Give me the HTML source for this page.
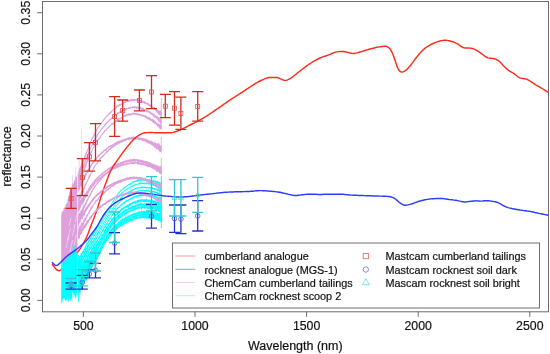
<!DOCTYPE html>
<html lang="en">
<head>
<meta charset="utf-8">
<title>Reflectance spectra</title>
<style>
html,body{margin:0;padding:0;background:#fff;}
body{width:550px;height:354px;overflow:hidden;font-family:"Liberation Sans",Arial,Helvetica,sans-serif;}
svg{display:block}
</style>
</head>
<body>
<svg width="550" height="354" viewBox="0 0 550 354" style="display:block">
<rect x="0" y="0" width="550" height="354" fill="#fff"/>
<clipPath id="pc"><rect x="43" y="2" width="505" height="309"/></clipPath>
<g clip-path="url(#pc)">
<path d="M61.2 265L61.2 216L62 211L63 212L64 207L65 208L66 203L67 204L67.7 199L68.6 198L69.4 192L70.2 192L71 186L71.8 188L72.6 183L73.4 184L74.2 180L75 181L75.8 176L76.6 177L77.4 173L77.4 265Z" fill="#DDA0DD"/>
<path d="M75.6 167V200" stroke="#DDA0DD" stroke-width="0.5" fill="none" opacity="0.8"/>
<path d="M81.6 128V190" stroke="#DDA0DD" stroke-width="0.5" fill="none" opacity="0.8"/>
<path d="M72.5 175V190" stroke="#DDA0DD" stroke-width="0.5" fill="none" opacity="0.8"/>
<path d="M79.2 160V200" stroke="#DDA0DD" stroke-width="0.6" fill="none" opacity="0.8"/>
<path d="M161.3 98V129" stroke="#DDA0DD" stroke-width="1.0" fill="none" opacity="0.8"/>
<path d="M161.3 137V151" stroke="#DDA0DD" stroke-width="1.0" fill="none" opacity="0.8"/>
<path d="M161.3 158V174" stroke="#DDA0DD" stroke-width="1.0" fill="none" opacity="0.8"/>
<path d="M161.3 178V203" stroke="#DDA0DD" stroke-width="1.0" fill="none" opacity="0.8"/>
<g fill="#DDA0DD" stroke="none">
<path d="M78.2 173.1L78.6 171.3L79 170.3L79.4 168.1L79.8 167.9L80.2 166L80.6 166.5L81 163.5L81.4 163.9L81.8 162.7L82.2 162L82.6 161.2L83 160.6L83.4 158.6L83.8 158.7L84.2 157L84.6 155.3L85 155.3L85.4 152.9L85.8 152.5L86.2 151L86.6 151.5L87 149.5L87.4 149.4L87.8 148.4L88.2 147.4L88.6 144.5L89 145.1L89.4 144.5L89.8 143.5L90.2 141.5L90.6 141.4L91 140.1L91.4 139.3L91.8 138.2L92.2 137.5L92.6 137.1L93 135.7L93.4 135.1L93.8 134.5L94.2 133.7L94.6 133L95 131.5L95.4 131.5L95.8 130L96.2 129.3L96.6 129L97 128.7L97.4 127.8L97.8 126.5L98.2 126.5L98.6 125.7L99 125.7L99.4 124.9L99.8 124.5L100.2 123.7L100.6 123.5L101 122.6L101.4 121.7L101.8 121.5L102.2 121.2L102.6 120.6L103 120.2L103.4 119.2L103.8 119L104.2 118.7L104.6 117.8L105 117.2L105.4 116.7L105.8 116.5L106.2 116.1L106.6 115L107 115.2L107.4 115L107.8 114L108.2 113.8L108.6 113.6L109 113.2L109.4 112.8L109.8 111.8L110.2 111.9L110.6 111.6L111 111.2L111.4 111L111.8 110.5L112.2 109.8L112.6 109.9L113 109.3L113.4 108.7L113.8 108.5L114.2 108.5L114.6 107.9L115 107.7L115.4 107L115.8 107.2L116.2 106.6L116.6 106L117 106.1L117.4 105.2L117.8 104.8L118.2 105.3L118.6 104.7L119 104.8L119.4 103.6L119.8 104L120.2 103.9L120.6 103.9L121 103.5L121.4 103.4L121.8 103.2L122.2 102.7L122.6 102.6L123 102.1L123.4 102.4L123.8 102.2L124.2 101.5L124.6 101.7L125 101.2L125.4 101L125.8 101.2L126.2 101L126.6 100.6L127 100.7L127.4 99.6L127.8 99.9L128.2 100.2L128.6 99.2L129 99.7L129.4 99.1L129.8 99.5L130.2 99.4L130.6 99.4L131 99.6L131.4 98.8L131.8 98.9L132.2 98.7L132.6 99.4L133 99.2L133.4 99.2L133.8 98.8L134.2 98.7L134.6 99L135 99.2L135.4 98.9L135.8 99L136.2 98.7L136.6 98.8L137 99.4L137.4 99.1L137.8 99.7L138.2 99.4L138.6 99.7L139 99.7L139.4 100.1L139.8 100L140.2 100.1L140.6 99.6L141 100L141.4 99.7L141.8 100.4L142.2 100.3L142.6 100.8L143 100.4L143.4 100.5L143.8 101.4L144.2 101.3L144.6 100.8L145 101.6L145.4 102.2L145.8 102.4L146.2 102.2L146.6 102.6L147 102.7L147.4 103.2L147.8 102.8L148.2 102.9L148.6 103.1L149 103.8L149.4 104.2L149.8 104.6L150.2 104.5L150.6 104.7L151 104.9L151.4 105.4L151.8 105.8L152.2 106.2L152.6 105.7L153 106.3L153.4 106.8L153.8 107L154.2 106.7L154.6 107.3L155 107.6L155.4 108.6L155.8 108.6L156.2 108.7L156.6 108.9L157 109.1L157.4 109.8L157.8 109.2L158.2 109.7L158.6 110.3L159 111L159.4 110.9L159.8 110L160.2 110.6L160.6 111.2L161 110.6L161.4 111.9L161.4 116.7L161 119.4L160.6 116.9L160.2 115.4L159.8 115L159.4 115.6L159 114.4L158.6 114.7L158.2 114.8L157.8 113L157.4 113L157 112.7L156.6 112.5L156.2 111.3L155.8 111.6L155.4 110.8L155 110.4L154.6 109.9L154.2 110L153.8 110.4L153.4 109.5L153 108.6L152.6 108.2L152.2 108.3L151.8 108.5L151.4 108L151 107.1L150.6 106.8L150.2 106.4L149.8 106.4L149.4 106.1L149 106.3L148.6 106L148.2 105.8L147.8 105.6L147.4 104.7L147 105.2L146.6 104.3L146.2 104L145.8 104.5L145.4 104.1L145 103.5L144.6 104.5L144.2 103.4L143.8 103.2L143.4 102.9L143 103.5L142.6 102.4L142.2 102.6L141.8 102.5L141.4 102.7L141 102.8L140.6 101.8L140.2 102.4L139.8 101.4L139.4 101.6L139 102.2L138.6 101.4L138.2 101L137.8 101L137.4 100.8L137 100.9L136.6 100.8L136.2 100.7L135.8 100.6L135.4 100.6L135 100.7L134.6 100.9L134.2 100.9L133.8 100.9L133.4 101.2L133 100.5L132.6 101.2L132.2 100.9L131.8 100.8L131.4 101.7L131 101.1L130.6 101L130.2 101.7L129.8 101.6L129.4 101.6L129 101.8L128.6 101.9L128.2 102.1L127.8 101.7L127.4 102.2L127 102L126.6 102.1L126.2 103.1L125.8 102.6L125.4 103L125 102.7L124.6 103L124.2 103.4L123.8 103.4L123.4 104.2L123 104L122.6 104.3L122.2 104.6L121.8 104.8L121.4 104.7L121 105.6L120.6 105.1L120.2 105.4L119.8 105.6L119.4 105.9L119 106.4L118.6 106.3L118.2 107L117.8 106.9L117.4 107.1L117 107.6L116.6 108.4L116.2 108.2L115.8 108.5L115.4 108.6L115 109.2L114.6 109.9L114.2 109.6L113.8 110L113.4 110.4L113 110.7L112.6 111L112.2 111.6L111.8 112.1L111.4 112.5L111 113.2L110.6 113.7L110.2 113.4L109.8 113.9L109.4 114.7L109 114.4L108.6 115L108.2 115.8L107.8 115.7L107.4 116.2L107 117.1L106.6 117L106.2 117.5L105.8 118.1L105.4 119.7L105 119.1L104.6 119.8L104.2 120.1L103.8 121.1L103.4 121.7L103 122.1L102.6 121.9L102.2 122.5L101.8 123.6L101.4 124.1L101 124.4L100.6 124.9L100.2 125.7L99.8 125.9L99.4 126.6L99 127.4L98.6 127.6L98.2 128.2L97.8 128.8L97.4 129.5L97 130.7L96.6 131.3L96.2 132.1L95.8 132.2L95.4 133.6L95 133.9L94.6 136.3L94.2 136.4L93.8 136.4L93.4 138.2L93 137.7L92.6 139.4L92.2 139.7L91.8 140.5L91.4 141.5L91 142.9L90.6 143.7L90.2 145.4L89.8 145.3L89.4 146.4L89 148L88.6 149.5L88.2 151.1L87.8 150.8L87.4 151.9L87 153.4L86.6 154L86.2 155.7L85.8 157L85.4 157.8L85 159.2L84.6 159.7L84.2 160.4L83.8 162L83.4 164.4L83 164.7L82.6 164.8L82.2 167.7L81.8 168L81.4 168L81 169.4L80.6 170.2L80.2 171.8L79.8 176.2L79.4 176.7L79 176.6L78.6 176.4L78.2 179.8Z"/>
<path d="M78.2 174.4L78.6 175.3L79 175.2L79.4 171.5L79.8 172.8L80.2 170.8L80.6 169.5L81 168.9L81.4 169L81.8 167.1L82.2 167L82.6 166.1L83 165.7L83.4 164.2L83.8 163L84.2 162.7L84.6 160.9L85 159.7L85.4 160.1L85.8 158.3L86.2 156.7L86.6 157.1L87 155.6L87.4 154.3L87.8 153.4L88.2 152.7L88.6 151L89 150.6L89.4 150L89.8 149.2L90.2 147.9L90.6 147.1L91 146.5L91.4 145.3L91.8 144.8L92.2 143.3L92.6 143.1L93 142.3L93.4 140.9L93.8 140.1L94.2 139.9L94.6 138.1L95 138L95.4 137.1L95.8 136L96.2 136.4L96.6 135.1L97 134.3L97.4 133.9L97.8 133.5L98.2 132.7L98.6 132.5L99 131.7L99.4 131.2L99.8 130.8L100.2 130.1L100.6 129.8L101 129L101.4 128.3L101.8 127.5L102.2 127L102.6 127.3L103 126.8L103.4 126.4L103.8 125.9L104.2 125.4L104.6 124.1L105 124L105.4 123.3L105.8 123.1L106.2 122.5L106.6 122.3L107 121.9L107.4 121.4L107.8 120.8L108.2 120.8L108.6 119.9L109 118.9L109.4 119.6L109.8 118.9L110.2 118.6L110.6 118.2L111 118.2L111.4 117.3L111.8 117.2L112.2 116.6L112.6 116.5L113 116.4L113.4 115.8L113.8 115L114.2 115.4L114.6 115.2L115 114.9L115.4 114.6L115.8 113.8L116.2 114L116.6 113.7L117 112.8L117.4 112.3L117.8 112.8L118.2 112.2L118.6 112.3L119 111.8L119.4 111.5L119.8 111.6L120.2 110.9L120.6 110.9L121 110.9L121.4 110.6L121.8 110.5L122.2 110L122.6 109.7L123 109.8L123.4 109.4L123.8 109.4L124.2 109.3L124.6 108.5L125 108.9L125.4 108.1L125.8 108.3L126.2 108.3L126.6 107.3L127 108.1L127.4 107.9L127.8 107.7L128.2 107.5L128.6 107.4L129 107L129.4 107.2L129.8 107L130.2 107.2L130.6 106.5L131 106.9L131.4 106.9L131.8 106.8L132.2 106.6L132.6 106.5L133 105.9L133.4 106.5L133.8 106.5L134.2 106.5L134.6 106.5L135 106.3L135.4 106.5L135.8 106.4L136.2 106.5L136.6 106.7L137 106.1L137.4 106.7L137.8 106.4L138.2 106.6L138.6 107.1L139 106.5L139.4 106.9L139.8 107.4L140.2 106.2L140.6 107.5L141 107L141.4 107.2L141.8 107.7L142.2 107.5L142.6 108.1L143 108.3L143.4 107.6L143.8 107.9L144.2 108.9L144.6 109L145 108.6L145.4 109.1L145.8 109.4L146.2 109.7L146.6 110L147 109.7L147.4 110L147.8 110.7L148.2 110.5L148.6 110.8L149 110.7L149.4 111.3L149.8 111.6L150.2 111.8L150.6 111.6L151 111.4L151.4 112.4L151.8 113L152.2 113.1L152.6 112.4L153 113.7L153.4 113.8L153.8 113.9L154.2 113.1L154.6 114.9L155 114.7L155.4 115.4L155.8 115.5L156.2 116.3L156.6 116L157 114.6L157.4 117.1L157.8 117L158.2 117.2L158.6 116.5L159 117.3L159.4 118.4L159.8 118.6L160.2 118.3L160.6 118.8L161 119.7L161.4 118.7L161.4 123.3L161 123.5L160.6 123.8L160.2 122.8L159.8 122.4L159.4 121.6L159 121.7L158.6 122.8L158.2 120.9L157.8 119.6L157.4 119.9L157 119.3L156.6 119.1L156.2 118.3L155.8 118.4L155.4 117.6L155 117.4L154.6 118.2L154.2 117.4L153.8 116.3L153.4 117.1L153 116.5L152.6 115.4L152.2 115.1L151.8 114.7L151.4 115.3L151 114.3L150.6 114L150.2 113.8L149.8 114.1L149.4 113.1L149 113.2L148.6 112.6L148.2 112.6L147.8 112.2L147.4 112.3L147 112.9L146.6 111.9L146.2 111.5L145.8 111.8L145.4 111.4L145 111.1L144.6 111.4L144.2 110.4L143.8 111.1L143.4 110.1L143 110L142.6 110L142.2 110.3L141.8 109.6L141.4 110.4L141 109.6L140.6 109.3L140.2 109.2L139.8 108.9L139.4 109.1L139 109.4L138.6 109.2L138.2 108.7L137.8 108.6L137.4 108.5L137 108.4L136.6 109L136.2 108.7L135.8 108.2L135.4 107.9L135 108.2L134.6 108.6L134.2 107.9L133.8 108L133.4 108.3L133 108L132.6 108.5L132.2 108.3L131.8 108.3L131.4 108.2L131 108.2L130.6 109.4L130.2 108.5L129.8 108.9L129.4 108.5L129 108.8L128.6 108.7L128.2 108.9L127.8 109L127.4 109.1L127 109.9L126.6 109.7L126.2 109.9L125.8 110.3L125.4 110.8L125 110.9L124.6 110.2L124.2 111.2L123.8 110.9L123.4 111L123 111L122.6 111.3L122.2 111.5L121.8 111.8L121.4 112.5L121 112.2L120.6 113.2L120.2 112.5L119.8 112.9L119.4 113.5L119 113.6L118.6 114.3L118.2 113.7L117.8 114.9L117.4 114.7L117 114.6L116.6 115.3L116.2 116.1L115.8 115.5L115.4 115.9L115 116.1L114.6 116.6L114.2 116.8L113.8 117.7L113.4 117.4L113 117.9L112.6 118.2L112.2 118.4L111.8 119L111.4 120L111 119.7L110.6 120L110.2 120.9L109.8 121.4L109.4 121.1L109 121.6L108.6 121.9L108.2 122.7L107.8 122.7L107.4 123L107 124.3L106.6 124.1L106.2 124.3L105.8 125.1L105.4 126.4L105 125.8L104.6 126.6L104.2 127.3L103.8 127.4L103.4 127.6L103 128.2L102.6 128.9L102.2 129.1L101.8 130.1L101.4 130.6L101 130.8L100.6 131.6L100.2 132L99.8 132.4L99.4 133.1L99 133.5L98.6 134L98.2 134.9L97.8 135.5L97.4 136.5L97 137.3L96.6 137.5L96.2 137.9L95.8 138.4L95.4 139.6L95 139.8L94.6 141.4L94.2 141.4L93.8 142.1L93.4 144.2L93 145.2L92.6 145.4L92.2 145.8L91.8 146.8L91.4 147.9L91 148.5L90.6 149.2L90.2 150.8L89.8 151.2L89.4 152.5L89 153.5L88.6 154.2L88.2 155.7L87.8 156.8L87.4 158.1L87 158.4L86.6 160.2L86.2 160.8L85.8 161.9L85.4 162.9L85 164.6L84.6 166.2L84.2 166.3L83.8 167L83.4 168.7L83 170.5L82.6 171L82.2 171.8L81.8 172.1L81.4 173.1L81 175.4L80.6 177.4L80.2 176.2L79.8 179.6L79.4 178.9L79 179.9L78.6 181.3L78.2 186.3Z"/>
<path d="M78.2 179.8L78.6 178.9L79 178.8L79.4 174.9L79.8 175.2L80.2 176L80.6 175.5L81 174.6L81.4 171.3L81.8 172.4L82.2 171L82.6 170.5L83 170.2L83.4 168.4L83.8 167.8L84.2 167L84.6 165.4L85 165L85.4 163.4L85.8 163.7L86.2 161.8L86.6 161.5L87 160.2L87.4 159.5L87.8 159L88.2 156.1L88.6 156.6L89 155.9L89.4 155.3L89.8 154.2L90.2 152.7L90.6 152.4L91 150.6L91.4 150.8L91.8 150.1L92.2 149.2L92.6 147.6L93 147.5L93.4 146.4L93.8 145.4L94.2 144.8L94.6 143.4L95 143.5L95.4 143.1L95.8 142.5L96.2 140.9L96.6 140.8L97 140.7L97.4 139.9L97.8 139.1L98.2 138.7L98.6 138.2L99 137.7L99.4 137.3L99.8 136.7L100.2 135.7L100.6 135.8L101 134.8L101.4 134.3L101.8 134.1L102.2 133.4L102.6 132.8L103 132.7L103.4 131.8L103.8 131.3L104.2 130.3L104.6 129.9L105 130.4L105.4 129.7L105.8 129.5L106.2 129.1L106.6 128L107 127.7L107.4 127.4L107.8 127.5L108.2 126.4L108.6 126.6L109 126L109.4 125.8L109.8 125.2L110.2 125.2L110.6 124.6L111 124.3L111.4 123.2L111.8 123.4L112.2 123.2L112.6 123.1L113 122.8L113.4 122L113.8 121.9L114.2 121.5L114.6 121.4L115 120.7L115.4 120.3L115.8 120.1L116.2 120L116.6 119.5L117 119.2L117.4 119.5L117.8 118.6L118.2 118.8L118.6 118.3L119 117.9L119.4 118.1L119.8 117.9L120.2 117.5L120.6 117.3L121 117.2L121.4 117.2L121.8 116.7L122.2 116.6L122.6 116.5L123 116.4L123.4 115.9L123.8 115.8L124.2 115.3L124.6 115.5L125 115L125.4 114.7L125.8 114.8L126.2 113.8L126.6 114.4L127 114.2L127.4 114.3L127.8 113.5L128.2 113.4L128.6 113.2L129 113.5L129.4 113.6L129.8 113.5L130.2 113.4L130.6 113.7L131 113.4L131.4 113.2L131.8 113.4L132.2 112.9L132.6 112.2L133 113L133.4 112.8L133.8 112.8L134.2 113.1L134.6 112.8L135 113L135.4 112.8L135.8 112.8L136.2 112.5L136.6 113.4L137 113.2L137.4 113L137.8 113.5L138.2 113.1L138.6 113.8L139 113.8L139.4 113.7L139.8 113.5L140.2 114L140.6 114.1L141 114.3L141.4 114.4L141.8 114.1L142.2 114.2L142.6 114.6L143 114.7L143.4 114.7L143.8 115.1L144.2 115.2L144.6 115.4L145 114.6L145.4 115.8L145.8 115.1L146.2 115.8L146.6 116.1L147 116.5L147.4 116.7L147.8 117.1L148.2 117.3L148.6 117.4L149 116.6L149.4 117.8L149.8 116.7L150.2 118.1L150.6 118.1L151 118.4L151.4 119L151.8 119.2L152.2 118.7L152.6 118.7L153 119.5L153.4 119L153.8 120.1L154.2 119.9L154.6 120.6L155 121.2L155.4 120.9L155.8 122L156.2 122.3L156.6 122.8L157 122.6L157.4 121.9L157.8 123.5L158.2 123.9L158.6 123.3L159 124L159.4 124.6L159.8 124.2L160.2 125.3L160.6 123.4L161 123.2L161.4 125.6L161.4 129.7L161 130.2L160.6 129L160.2 128.8L159.8 130.4L159.4 127.6L159 127.9L158.6 127.4L158.2 126.3L157.8 126.4L157.4 126.7L157 125.9L156.6 125.1L156.2 125.2L155.8 124.4L155.4 124L155 123.6L154.6 124.3L154.2 123.3L153.8 123.5L153.4 123L153 122.7L152.6 122.4L152.2 121.7L151.8 121.2L151.4 120.9L151 120.9L150.6 120.4L150.2 120.7L149.8 120.1L149.4 120.4L149 119.4L148.6 119.8L148.2 119.5L147.8 119.5L147.4 118.9L147 119.1L146.6 118L146.2 118.8L145.8 117.9L145.4 117.5L145 117.4L144.6 117.5L144.2 116.9L143.8 116.7L143.4 117L143 116.8L142.6 116.2L142.2 116.5L141.8 116.9L141.4 116L141 115.9L140.6 115.6L140.2 116.2L139.8 115.8L139.4 115.3L139 115.2L138.6 115.8L138.2 115.5L137.8 115.5L137.4 115.2L137 114.9L136.6 115.1L136.2 114.9L135.8 114.6L135.4 114.7L135 114.8L134.6 114.5L134.2 115.3L133.8 114.4L133.4 114.4L133 114.5L132.6 114.9L132.2 114.8L131.8 114.7L131.4 114.9L131 115.8L130.6 115.6L130.2 115.5L129.8 115.9L129.4 115.2L129 115.4L128.6 115.5L128.2 115.4L127.8 115.6L127.4 116.1L127 115.8L126.6 116.1L126.2 116.5L125.8 117L125.4 116.7L125 116.8L124.6 117.2L124.2 117.1L123.8 117.1L123.4 117.3L123 117.9L122.6 118.8L122.2 117.9L121.8 118.1L121.4 118.7L121 118.5L120.6 119.2L120.2 119.2L119.8 119.4L119.4 119.5L119 119.6L118.6 120.4L118.2 121.2L117.8 120.8L117.4 120.6L117 121L116.6 121.9L116.2 121.7L115.8 122.3L115.4 122.3L115 122.8L114.6 122.6L114.2 123.8L113.8 123.6L113.4 124.6L113 124.2L112.6 124.7L112.2 124.9L111.8 125L111.4 125.5L111 125.8L110.6 126.3L110.2 126.3L109.8 127.3L109.4 127.5L109 127.7L108.6 127.9L108.2 128.2L107.8 128.6L107.4 129.1L107 129.6L106.6 130L106.2 130.7L105.8 130.8L105.4 131.6L105 131.6L104.6 132.6L104.2 132.7L103.8 133.2L103.4 133.8L103 134.2L102.6 134.5L102.2 135.2L101.8 135.5L101.4 136L101 136.8L100.6 138.2L100.2 137.6L99.8 138.7L99.4 139.7L99 140.1L98.6 140L98.2 140.4L97.8 141.2L97.4 141.7L97 142.5L96.6 142.7L96.2 143.3L95.8 144.3L95.4 144.6L95 146.5L94.6 146.7L94.2 146.9L93.8 147.7L93.4 148.4L93 149.3L92.6 150.1L92.2 151.5L91.8 153.3L91.4 153.6L91 154.6L90.6 154.4L90.2 155.9L89.8 156.7L89.4 158L89 158.7L88.6 159.9L88.2 161L87.8 162.6L87.4 162.5L87 163.6L86.6 164.8L86.2 167.2L85.8 166.8L85.4 168.7L85 169.4L84.6 169.6L84.2 171.2L83.8 172.2L83.4 173L83 174.2L82.6 175.5L82.2 175.7L81.8 177.4L81.4 178.9L81 180L80.6 183.2L80.2 180.7L79.8 184L79.4 183.2L79 185.4L78.6 185.9L78.2 188.2Z"/>
<path d="M78.2 184.4L78.6 185.1L79 183.2L79.4 180.9L79.8 183.1L80.2 181.1L80.6 182L81 181.1L81.4 180L81.8 179.3L82.2 179.1L82.6 177.9L83 178.2L83.4 176.8L83.8 176.4L84.2 176.1L84.6 175.7L85 172.1L85.4 173.7L85.8 172.3L86.2 172.9L86.6 172.2L87 170.9L87.4 170.1L87.8 169.1L88.2 169.2L88.6 168.3L89 167.7L89.4 167.1L89.8 166.4L90.2 165.1L90.6 165.2L91 164.2L91.4 163.2L91.8 163.6L92.2 162.1L92.6 161.7L93 161L93.4 160.3L93.8 160.2L94.2 159.5L94.6 159.3L95 158.2L95.4 158.1L95.8 158.2L96.2 157.7L96.6 157.3L97 156.8L97.4 156.2L97.8 156L98.2 154.8L98.6 154.3L99 154.7L99.4 154L99.8 154L100.2 153.3L100.6 153.3L101 152.6L101.4 151.8L101.8 151.7L102.2 151.6L102.6 151.3L103 151.2L103.4 149.6L103.8 150.2L104.2 150.1L104.6 149.2L105 149.5L105.4 149.2L105.8 148.3L106.2 148L106.6 147.5L107 148.1L107.4 147.7L107.8 146.7L108.2 146.8L108.6 145.7L109 146.3L109.4 145.8L109.8 145.9L110.2 145.4L110.6 145L111 144.8L111.4 145.1L111.8 144.8L112.2 144.3L112.6 144.2L113 144L113.4 143.6L113.8 143.1L114.2 143.5L114.6 143L115 142.5L115.4 142.3L115.8 142.4L116.2 141.6L116.6 141.6L117 141.3L117.4 141.8L117.8 141.5L118.2 140.6L118.6 140.6L119 140.8L119.4 140.6L119.8 140.7L120.2 140.5L120.6 139.7L121 140.2L121.4 139.7L121.8 139.5L122.2 139.8L122.6 139.7L123 139L123.4 139.1L123.8 139.2L124.2 139L124.6 138.8L125 138.7L125.4 138.6L125.8 137.9L126.2 138.5L126.6 138.4L127 138.2L127.4 137.3L127.8 138.1L128.2 137.8L128.6 137.3L129 137L129.4 136.7L129.8 137.4L130.2 137.4L130.6 137.2L131 137.3L131.4 137.6L131.8 137.1L132.2 137.3L132.6 137.2L133 136.3L133.4 136.1L133.8 137.1L134.2 136.5L134.6 137L135 136.7L135.4 136.7L135.8 136.7L136.2 137.5L136.6 137L137 137.5L137.4 136.5L137.8 136.8L138.2 137.8L138.6 137.3L139 137.8L139.4 137.9L139.8 137L140.2 137.4L140.6 138.2L141 137.6L141.4 137.9L141.8 138.2L142.2 138L142.6 137.9L143 138.5L143.4 138L143.8 138.8L144.2 138.1L144.6 138.7L145 139.1L145.4 138.8L145.8 138.8L146.2 138.9L146.6 138.9L147 138.4L147.4 139.7L147.8 139.7L148.2 139.9L148.6 140.2L149 140.1L149.4 140.5L149.8 140.7L150.2 140.6L150.6 140.8L151 141.1L151.4 140.4L151.8 141.4L152.2 140.9L152.6 142L153 141.6L153.4 142.4L153.8 142.4L154.2 141.8L154.6 142.5L155 142.6L155.4 142.9L155.8 142.3L156.2 143.2L156.6 143.8L157 143L157.4 143.2L157.8 143.3L158.2 144.3L158.6 142.4L159 142.6L159.4 143.8L159.8 144.4L160.2 145.6L160.6 145.6L161 145.9L161.4 144L161.4 150.3L161 149.6L160.6 148.9L160.2 148.8L159.8 149.2L159.4 149.2L159 148L158.6 147.5L158.2 147.2L157.8 147.1L157.4 146.8L157 147L156.6 147.8L156.2 146L155.8 145.6L155.4 145.4L155 146.2L154.6 145.3L154.2 144.8L153.8 145.5L153.4 144.3L153 145.4L152.6 143.8L152.2 144L151.8 143.4L151.4 143.5L151 143.2L150.6 143L150.2 144L149.8 142.7L149.4 142.8L149 142.7L148.6 142L148.2 142.1L147.8 142.3L147.4 141.6L147 141.8L146.6 141.7L146.2 141.2L145.8 141.4L145.4 140.8L145 141L144.6 140.7L144.2 141.3L143.8 140.3L143.4 140.5L143 140.2L142.6 140L142.2 140.3L141.8 139.9L141.4 140.1L141 140L140.6 140.1L140.2 139.9L139.8 139.8L139.4 140.5L139 139.7L138.6 139.2L138.2 139.2L137.8 139.2L137.4 139.5L137 139.1L136.6 139.2L136.2 139.4L135.8 138.8L135.4 139.3L135 139L134.6 139.2L134.2 138.7L133.8 138.7L133.4 138.8L133 139.5L132.6 138.9L132.2 138.9L131.8 138.9L131.4 139.8L131 139L130.6 139L130.2 139.4L129.8 139.2L129.4 139.5L129 139.3L128.6 139.6L128.2 140.4L127.8 139.4L127.4 139.8L127 140.2L126.6 139.8L126.2 140L125.8 140.3L125.4 140.6L125 140.9L124.6 140.2L124.2 140.7L123.8 140.6L123.4 140.9L123 141.1L122.6 141.1L122.2 141.6L121.8 141.2L121.4 142.3L121 141.8L120.6 141.7L120.2 141.8L119.8 141.9L119.4 142.5L119 142.8L118.6 142.4L118.2 143L117.8 142.9L117.4 143.7L117 143.2L116.6 144L116.2 144L115.8 144.3L115.4 144.7L115 144.3L114.6 144.9L114.2 144.6L113.8 146L113.4 145.1L113 145.6L112.6 146.1L112.2 146.1L111.8 146.4L111.4 147L111 146.7L110.6 146.8L110.2 147.2L109.8 147.3L109.4 148.2L109 147.8L108.6 148.6L108.2 149L107.8 148.6L107.4 149L107 149.6L106.6 150.4L106.2 151.2L105.8 150.4L105.4 151.2L105 150.9L104.6 151.3L104.2 151.4L103.8 151.9L103.4 152.4L103 153L102.6 153.7L102.2 153.8L101.8 153.7L101.4 153.9L101 154.2L100.6 154.9L100.2 155.3L99.8 155.7L99.4 155.9L99 156.4L98.6 157.1L98.2 157.3L97.8 157.5L97.4 158.6L97 158.8L96.6 159.3L96.2 160.6L95.8 160L95.4 160.2L95 161.4L94.6 161.5L94.2 162.7L93.8 162.5L93.4 163.8L93 164.1L92.6 164.1L92.2 164.8L91.8 165.7L91.4 166.1L91 166.8L90.6 167.9L90.2 168.5L89.8 169.1L89.4 169.3L89 169.9L88.6 171.3L88.2 173.5L87.8 173L87.4 172.9L87 173.9L86.6 175.2L86.2 175.7L85.8 176.6L85.4 177.5L85 178L84.6 178.8L84.2 179.4L83.8 180.9L83.4 180.6L83 181.9L82.6 183.2L82.2 184.6L81.8 185.3L81.4 187.2L81 185.6L80.6 187.1L80.2 190.7L79.8 187.9L79.4 190.8L79 190L78.6 191.4L78.2 192.9Z"/>
<path d="M78.2 203.5L78.6 204.4L79 201.6L79.4 201.2L79.8 199.9L80.2 200.4L80.6 200.5L81 199.4L81.4 197.8L81.8 196.9L82.2 197L82.6 197.6L83 197.2L83.4 196.3L83.8 196.3L84.2 193.4L84.6 194.6L85 193L85.4 193.2L85.8 192.9L86.2 191.5L86.6 190.7L87 190.4L87.4 190.7L87.8 189.5L88.2 188.9L88.6 188L89 187.5L89.4 186.8L89.8 186.6L90.2 184.9L90.6 184.9L91 184.9L91.4 184.1L91.8 183.8L92.2 182.8L92.6 182.7L93 181.7L93.4 181.8L93.8 180.6L94.2 180.1L94.6 180.3L95 179.1L95.4 179.4L95.8 179L96.2 178.1L96.6 178L97 177.4L97.4 176.7L97.8 176.7L98.2 176.5L98.6 176.1L99 174.7L99.4 175.5L99.8 174.9L100.2 174.5L100.6 174.5L101 173L101.4 173.5L101.8 173.2L102.2 172.8L102.6 172L103 172.2L103.4 172.1L103.8 171.5L104.2 171.2L104.6 171L105 169.9L105.4 170.3L105.8 170.1L106.2 170L106.6 169.4L107 169L107.4 168.5L107.8 168.7L108.2 168L108.6 168L109 167.8L109.4 167.6L109.8 167.3L110.2 167.2L110.6 167.2L111 166.4L111.4 166.2L111.8 166.2L112.2 166.1L112.6 165.1L113 165.9L113.4 165.5L113.8 165.2L114.2 164.5L114.6 164.9L115 164.4L115.4 164.6L115.8 163.9L116.2 164.1L116.6 163.8L117 163.5L117.4 163.7L117.8 163.1L118.2 163.3L118.6 162.9L119 163L119.4 162.9L119.8 162.3L120.2 162.4L120.6 161.8L121 162.2L121.4 161.9L121.8 161.9L122.2 161.5L122.6 161.6L123 161.3L123.4 161.2L123.8 161L124.2 160.3L124.6 160.8L125 160.8L125.4 160.9L125.8 160.2L126.2 160.2L126.6 160.1L127 160.4L127.4 160.3L127.8 159.3L128.2 160L128.6 159.7L129 159.7L129.4 159.8L129.8 160L130.2 159.3L130.6 159.1L131 159.5L131.4 159.8L131.8 159.7L132.2 159.1L132.6 159.5L133 159.2L133.4 159.3L133.8 159.1L134.2 159.3L134.6 159.5L135 158.7L135.4 159.5L135.8 159.7L136.2 158.6L136.6 159.6L137 159.4L137.4 159.5L137.8 159.3L138.2 159.4L138.6 159.4L139 159.8L139.4 159.8L139.8 160.1L140.2 160.3L140.6 159.8L141 160.1L141.4 159.3L141.8 160.3L142.2 160.4L142.6 160.6L143 160.6L143.4 160.2L143.8 160.7L144.2 161L144.6 160.8L145 160.5L145.4 160.7L145.8 161.3L146.2 161.1L146.6 161.8L147 161.3L147.4 161.4L147.8 161.2L148.2 162.1L148.6 161.8L149 161.9L149.4 162.5L149.8 162.1L150.2 163L150.6 162.3L151 162.7L151.4 163L151.8 163.3L152.2 163.5L152.6 163.8L153 164L153.4 163.6L153.8 164.2L154.2 163.4L154.6 164.9L155 164.4L155.4 165.2L155.8 165.3L156.2 164L156.6 165.6L157 164.9L157.4 165.6L157.8 166.1L158.2 164.6L158.6 166.5L159 166L159.4 166L159.8 166.8L160.2 166.6L160.6 165.2L161 166.7L161.4 166.9L161.4 171.8L161 171.5L160.6 172.9L160.2 170.4L159.8 170.9L159.4 169.8L159 170.2L158.6 170.6L158.2 169.7L157.8 169.5L157.4 168.5L157 168.5L156.6 169.1L156.2 168.6L155.8 168.8L155.4 168.2L155 167.7L154.6 167.2L154.2 166.5L153.8 166.3L153.4 167.3L153 165.9L152.6 166.4L152.2 165.9L151.8 165.5L151.4 165L151 165.3L150.6 165.6L150.2 164.8L149.8 164.6L149.4 165.1L149 164.2L148.6 164.5L148.2 164.9L147.8 163.6L147.4 164.4L147 163.6L146.6 163.5L146.2 163.5L145.8 163.4L145.4 163.8L145 162.9L144.6 162.9L144.2 162.7L143.8 162.8L143.4 162.8L143 162.2L142.6 162.4L142.2 162L141.8 163L141.4 162L141 161.7L140.6 162L140.2 162.8L139.8 161.8L139.4 161.6L139 162L138.6 161.9L138.2 161.9L137.8 161.6L137.4 161.9L137 161.2L136.6 161L136.2 161L135.8 161.2L135.4 161.5L135 161L134.6 161.7L134.2 161.3L133.8 161.4L133.4 161.7L133 161L132.6 161.5L132.2 161.6L131.8 161.5L131.4 161.1L131 161.2L130.6 161.5L130.2 161.2L129.8 162L129.4 161.6L129 161.7L128.6 162L128.2 161.7L127.8 161.8L127.4 162L127 162.1L126.6 161.9L126.2 162.1L125.8 162.2L125.4 162.5L125 162.8L124.6 162.4L124.2 162.8L123.8 163.6L123.4 162.7L123 164.1L122.6 163L122.2 163.2L121.8 163.8L121.4 163.4L121 163.7L120.6 164.3L120.2 164.6L119.8 164.1L119.4 164.4L119 164.2L118.6 164.9L118.2 164.8L117.8 165.5L117.4 165.2L117 165.1L116.6 165.4L116.2 165.8L115.8 165.9L115.4 165.8L115 166.3L114.6 166.6L114.2 167L113.8 167.2L113.4 166.8L113 167.8L112.6 167.5L112.2 167.8L111.8 168.2L111.4 168.3L111 168.8L110.6 169.1L110.2 169L109.8 169.4L109.4 169.7L109 169.8L108.6 169.7L108.2 170L107.8 170.4L107.4 171.1L107 170.8L106.6 171.1L106.2 171.3L105.8 171.6L105.4 172.2L105 172.6L104.6 172.5L104.2 173.2L103.8 173.3L103.4 173.6L103 173.7L102.6 175L102.2 175.1L101.8 174.9L101.4 175.4L101 175.5L100.6 176L100.2 176.2L99.8 176.4L99.4 176.8L99 177.8L98.6 177.7L98.2 178.5L97.8 178.9L97.4 179.2L97 179.1L96.6 179.7L96.2 180.9L95.8 180.9L95.4 181.2L95 181.8L94.6 183L94.2 182.3L93.8 183.6L93.4 183.5L93 184.1L92.6 184.5L92.2 185.2L91.8 187.1L91.4 186.2L91 187.1L90.6 188.4L90.2 189.5L89.8 189.1L89.4 189.4L89 190.4L88.6 190.6L88.2 191.7L87.8 192.7L87.4 193L87 193.6L86.6 194.2L86.2 194.9L85.8 196.6L85.4 196.2L85 197L84.6 197.7L84.2 198.6L83.8 200L83.4 200.3L83 202.2L82.6 202.4L82.2 202.2L81.8 204.6L81.4 205.2L81 204.7L80.6 205.6L80.2 206.6L79.8 210.4L79.4 207.7L79 208.1L78.6 210.9L78.2 210.4Z"/>
<path d="M78.2 204.4L78.6 202.2L79 204.3L79.4 201L79.8 204.1L80.2 203.5L80.6 200.1L81 202L81.4 201.9L81.8 200.5L82.2 198.6L82.6 200L83 198.2L83.4 198.3L83.8 198L84.2 197.7L84.6 197.1L85 195.6L85.4 194.7L85.8 194L86.2 193.6L86.6 193.2L87 193.3L87.4 192.1L87.8 192L88.2 191.1L88.6 190.3L89 190.1L89.4 188.9L89.8 188.7L90.2 188.4L90.6 186.9L91 186.9L91.4 186.8L91.8 186L92.2 185L92.6 184.8L93 182.9L93.4 184.1L93.8 182.8L94.2 182.5L94.6 181.2L95 181.9L95.4 181.8L95.8 181.2L96.2 180.8L96.6 180.2L97 179.4L97.4 179.2L97.8 178.5L98.2 178.5L98.6 178.5L99 177.7L99.4 177.6L99.8 177.1L100.2 176.9L100.6 176.7L101 176.6L101.4 175.7L101.8 175.3L102.2 175.4L102.6 175L103 174.7L103.4 174.5L103.8 173.7L104.2 173.9L104.6 173.4L105 173.2L105.4 172.4L105.8 172L106.2 172L106.6 172.3L107 172L107.4 171.4L107.8 170.7L108.2 171.1L108.6 170.8L109 170.6L109.4 169.9L109.8 169.7L110.2 170L110.6 169.8L111 169.3L111.4 169.1L111.8 168.7L112.2 168.7L112.6 168.8L113 168.5L113.4 167.7L113.8 168L114.2 167.5L114.6 167.7L115 166.7L115.4 167L115.8 167L116.2 166.2L116.6 166.1L117 165.8L117.4 166.1L117.8 165.9L118.2 166.1L118.6 165.6L119 165.7L119.4 165L119.8 165.2L120.2 165.2L120.6 164.8L121 164.7L121.4 164.5L121.8 164.3L122.2 164L122.6 163.9L123 164.2L123.4 163.1L123.8 163.7L124.2 163.6L124.6 163.8L125 163.3L125.4 163.6L125.8 163.5L126.2 163.2L126.6 162.5L127 162.4L127.4 163L127.8 163L128.2 162.8L128.6 162.9L129 162.5L129.4 162.8L129.8 162.6L130.2 162.4L130.6 161.7L131 161.9L131.4 161.5L131.8 162.1L132.2 162L132.6 161.8L133 162.4L133.4 162L133.8 162.1L134.2 161.9L134.6 162L135 162.3L135.4 161.4L135.8 162.3L136.2 162.4L136.6 162.1L137 162.2L137.4 161.6L137.8 162L138.2 162.1L138.6 162.3L139 162.1L139.4 161.7L139.8 162.7L140.2 162.6L140.6 162.8L141 162.5L141.4 162.7L141.8 162.4L142.2 162.5L142.6 163.4L143 163.1L143.4 163.2L143.8 162.8L144.2 163.2L144.6 163.2L145 163.8L145.4 163.7L145.8 164.2L146.2 164.2L146.6 163.9L147 163.6L147.4 164.1L147.8 163.9L148.2 163.7L148.6 164.7L149 164.5L149.4 165L149.8 165.4L150.2 165.4L150.6 165.1L151 165.3L151.4 166L151.8 166L152.2 165.7L152.6 166.3L153 166.6L153.4 166.2L153.8 167.2L154.2 167.1L154.6 167.4L155 167.6L155.4 167.4L155.8 167.8L156.2 167.6L156.6 167.9L157 167.5L157.4 167.3L157.8 168.6L158.2 168.8L158.6 169.1L159 169L159.4 169.1L159.8 168.9L160.2 169.7L160.6 168.6L161 168.4L161.4 168.8L161.4 176.4L161 173.8L160.6 173.6L160.2 174.4L159.8 172.9L159.4 174.3L159 172.7L158.6 171.7L158.2 172.4L157.8 171.1L157.4 172L157 172.3L156.6 170.4L156.2 171.1L155.8 170L155.4 170.4L155 169.8L154.6 170L154.2 169.8L153.8 169.2L153.4 168.7L153 168.5L152.6 168.6L152.2 168.8L151.8 168.2L151.4 168.1L151 167.5L150.6 167.3L150.2 167.2L149.8 167.6L149.4 167.2L149 166.7L148.6 166.9L148.2 166.9L147.8 167.5L147.4 166.4L147 166L146.6 166.2L146.2 166.4L145.8 166.5L145.4 165.5L145 165.8L144.6 165.7L144.2 165.5L143.8 165.4L143.4 165.4L143 165L142.6 165L142.2 165.2L141.8 165.2L141.4 165.5L141 165.3L140.6 164.3L140.2 164.7L139.8 164.5L139.4 165L139 164L138.6 164L138.2 165L137.8 164.2L137.4 164.9L137 164.1L136.6 163.8L136.2 163.8L135.8 163.7L135.4 163.7L135 163.6L134.6 164.1L134.2 164.4L133.8 164.1L133.4 164.2L133 163.7L132.6 164L132.2 164.6L131.8 164.1L131.4 163.8L131 164.4L130.6 163.8L130.2 164.1L129.8 164L129.4 164.1L129 164.4L128.6 164.2L128.2 164.8L127.8 164.6L127.4 164.4L127 165.6L126.6 164.7L126.2 164.7L125.8 164.8L125.4 166L125 165.2L124.6 165.4L124.2 165.3L123.8 165.4L123.4 165.5L123 166L122.6 165.8L122.2 165.8L121.8 166.2L121.4 166L121 166.5L120.6 166.4L120.2 166.6L119.8 166.7L119.4 166.8L119 167.2L118.6 167.6L118.2 167.5L117.8 167.6L117.4 167.9L117 168.4L116.6 168L116.2 168.3L115.8 168.7L115.4 168.8L115 169.3L114.6 169L114.2 169.1L113.8 169.3L113.4 169.8L113 169.8L112.6 169.9L112.2 170.2L111.8 170.4L111.4 170.9L111 170.9L110.6 171.2L110.2 171.3L109.8 171.5L109.4 171.8L109 172L108.6 172.7L108.2 172.8L107.8 173.3L107.4 173.7L107 173.9L106.6 173.7L106.2 174.3L105.8 174.7L105.4 174.6L105 174.7L104.6 175.2L104.2 175.5L103.8 176L103.4 175.9L103 176.4L102.6 178.2L102.2 177.2L101.8 177.4L101.4 177.9L101 179.2L100.6 178.7L100.2 178.9L99.8 179.6L99.4 179.3L99 180.3L98.6 180.5L98.2 180.4L97.8 180.8L97.4 181.2L97 182.2L96.6 182.6L96.2 182.3L95.8 183L95.4 183.4L95 185L94.6 184.3L94.2 184.9L93.8 185.7L93.4 186.5L93 186.3L92.6 186.9L92.2 188.3L91.8 188.4L91.4 188.9L91 189.2L90.6 190.2L90.2 190.6L89.8 191L89.4 191.5L89 192.3L88.6 193.5L88.2 193.4L87.8 195.1L87.4 195.6L87 196L86.6 196.7L86.2 197L85.8 197.7L85.4 198.6L85 199.2L84.6 200.9L84.2 200.6L83.8 203.2L83.4 201.8L83 206.9L82.6 203.8L82.2 203.8L81.8 204.7L81.4 205.5L81 207.1L80.6 207.3L80.2 208.8L79.8 208.6L79.4 211.1L79 211.3L78.6 212.4L78.2 212.8Z"/>
<path d="M78.2 217.8L78.6 214.9L79 218.5L79.4 217.4L79.8 216.7L80.2 213.3L80.6 215.6L81 213.2L81.4 212.4L81.8 213L82.2 213.3L82.6 210.5L83 212.4L83.4 212.2L83.8 210.6L84.2 210.7L84.6 210.1L85 209.4L85.4 209.1L85.8 207.2L86.2 206.5L86.6 207.5L87 206.6L87.4 206.3L87.8 204.7L88.2 204.3L88.6 204.4L89 203.8L89.4 203.6L89.8 202.3L90.2 202.2L90.6 201.7L91 201.1L91.4 200.2L91.8 200.3L92.2 199.3L92.6 198.7L93 198.6L93.4 198.4L93.8 197.1L94.2 197.4L94.6 196.5L95 196.1L95.4 196L95.8 195.2L96.2 194.8L96.6 194.5L97 194.2L97.4 193.5L97.8 193.6L98.2 193.3L98.6 193L99 192.4L99.4 192.2L99.8 192L100.2 191L100.6 190.7L101 191L101.4 190L101.8 190.5L102.2 190L102.6 189.5L103 189.4L103.4 188.1L103.8 188.9L104.2 188.1L104.6 187.8L105 187.9L105.4 187.7L105.8 186.1L106.2 186.8L106.6 186.7L107 186.4L107.4 186.1L107.8 185.5L108.2 186L108.6 185.3L109 185.2L109.4 185.1L109.8 184.6L110.2 184.7L110.6 184L111 184.2L111.4 184.1L111.8 183.6L112.2 183.6L112.6 183.4L113 182.6L113.4 182.6L113.8 182.1L114.2 182L114.6 182.4L115 182.1L115.4 181.9L115.8 181.4L116.2 181.6L116.6 181.5L117 181.1L117.4 181L117.8 180.6L118.2 180.5L118.6 180.3L119 180.5L119.4 180.2L119.8 180.2L120.2 180.2L120.6 179.7L121 179.4L121.4 179.8L121.8 179.6L122.2 179.1L122.6 179.3L123 179.3L123.4 179L123.8 178.9L124.2 178.3L124.6 178.8L125 178.5L125.4 178.5L125.8 178L126.2 177.8L126.6 177.6L127 178.1L127.4 177.9L127.8 177L128.2 177.7L128.6 177.5L129 177.5L129.4 177.4L129.8 177L130.2 176.4L130.6 177.5L131 177.2L131.4 177.3L131.8 176.6L132.2 177.3L132.6 176.8L133 176.9L133.4 176.7L133.8 176.6L134.2 176.6L134.6 177.1L135 177.2L135.4 177.3L135.8 177L136.2 176.6L136.6 177.1L137 177.2L137.4 177.3L137.8 177L138.2 177.4L138.6 177.3L139 177.1L139.4 177.5L139.8 176.7L140.2 177.6L140.6 177.9L141 177.5L141.4 177.6L141.8 177.8L142.2 177.3L142.6 178.1L143 177.8L143.4 178L143.8 178.3L144.2 178.5L144.6 178.3L145 177.1L145.4 178.6L145.8 178.7L146.2 178.7L146.6 179L147 178.8L147.4 179.3L147.8 179L148.2 179.4L148.6 179.9L149 179.5L149.4 179.3L149.8 179.5L150.2 180.2L150.6 180.6L151 180.1L151.4 180.2L151.8 180.9L152.2 180.8L152.6 180.4L153 180L153.4 180.9L153.8 181.8L154.2 181.3L154.6 182.1L155 181.1L155.4 182.1L155.8 182.3L156.2 183L156.6 182.8L157 182.6L157.4 182.6L157.8 183.5L158.2 183.4L158.6 183.2L159 183.7L159.4 183.3L159.8 182.4L160.2 183.9L160.6 182.3L161 183.4L161.4 184.1L161.4 189.1L161 189.1L160.6 187.7L160.2 188.5L159.8 187.8L159.4 187.8L159 187.2L158.6 186.3L158.2 186.6L157.8 186.5L157.4 185.6L157 186.6L156.6 185.4L156.2 185.8L155.8 185.8L155.4 184.6L155 184.6L154.6 184.9L154.2 184.6L153.8 183.9L153.4 184.3L153 183.8L152.6 183.7L152.2 183.1L151.8 182.8L151.4 183.1L151 183.4L150.6 183.1L150.2 183.7L149.8 183.6L149.4 182.8L149 182L148.6 181.9L148.2 183L147.8 182.1L147.4 181.4L147 181.9L146.6 181.2L146.2 181.1L145.8 180.8L145.4 180.6L145 180.4L144.6 180.2L144.2 180.1L143.8 180.2L143.4 179.9L143 180.1L142.6 180L142.2 180L141.8 179.7L141.4 180.4L141 179.6L140.6 179.4L140.2 179.3L139.8 179.6L139.4 179.5L139 179.3L138.6 179.9L138.2 179.5L137.8 180L137.4 179.1L137 179.2L136.6 178.9L136.2 178.6L135.8 179.1L135.4 179.3L135 178.5L134.6 178.6L134.2 179.4L133.8 178.9L133.4 178.7L133 178.8L132.6 178.7L132.2 178.7L131.8 178.8L131.4 179.2L131 179.1L130.6 179L130.2 179L129.8 179.2L129.4 179L129 179.6L128.6 179.4L128.2 179.7L127.8 180.1L127.4 179.2L127 179.5L126.6 179.9L126.2 179.8L125.8 180.2L125.4 179.8L125 179.9L124.6 180.5L124.2 180.7L123.8 180.5L123.4 180.5L123 180.8L122.6 180.9L122.2 181L121.8 181.6L121.4 181.1L121 181.5L120.6 181.6L120.2 181.7L119.8 182.7L119.4 181.9L119 181.7L118.6 182.3L118.2 182.1L117.8 182.5L117.4 182.4L117 182.8L116.6 182.7L116.2 183.3L115.8 183.7L115.4 184.4L115 183.9L114.6 184.3L114.2 184.2L113.8 184.3L113.4 184.5L113 184.9L112.6 184.6L112.2 185.2L111.8 185.5L111.4 185.7L111 185.9L110.6 186L110.2 186.1L109.8 186.7L109.4 186.7L109 187.4L108.6 187L108.2 187.2L107.8 187.9L107.4 188.4L107 188.1L106.6 188.6L106.2 188.9L105.8 189.2L105.4 189.3L105 189.6L104.6 190L104.2 190.2L103.8 190.7L103.4 190.5L103 190.7L102.6 191.3L102.2 191.4L101.8 191.8L101.4 192L101 193.3L100.6 193L100.2 193.7L99.8 194L99.4 194.2L99 194.3L98.6 195.3L98.2 194.7L97.8 195.6L97.4 195.5L97 196.1L96.6 196.6L96.2 196.7L95.8 197.1L95.4 198.1L95 198.6L94.6 198.5L94.2 199.2L93.8 199.9L93.4 200.1L93 201.7L92.6 201.5L92.2 201.5L91.8 202.1L91.4 202.9L91 203.3L90.6 203.8L90.2 204.6L89.8 205.7L89.4 206.6L89 206.5L88.6 206.7L88.2 207.7L87.8 209.1L87.4 209.1L87 209.5L86.6 211.3L86.2 211.1L85.8 212.3L85.4 212.2L85 213.1L84.6 214.7L84.2 215.7L83.8 215.7L83.4 215.7L83 216.5L82.6 218.5L82.2 219.5L81.8 218.6L81.4 219L81 219.4L80.6 221.1L80.2 222.5L79.8 223.5L79.4 223.3L79 223.2L78.6 226.3L78.2 227Z"/>
<path d="M78.2 233L78.6 231.2L79 231.8L79.4 230.6L79.8 228.1L80.2 229L80.6 230.2L81 229.8L81.4 229L81.8 229L82.2 226.5L82.6 226.7L83 226.4L83.4 226.1L83.8 224.8L84.2 225.5L84.6 225.1L85 223.5L85.4 223.8L85.8 223.3L86.2 222.6L86.6 220.7L87 221.1L87.4 220.2L87.8 220.2L88.2 219.5L88.6 219L89 218.9L89.4 218.4L89.8 216.6L90.2 217.3L90.6 215.8L91 216.1L91.4 215.5L91.8 215.2L92.2 213.4L92.6 213.9L93 213.3L93.4 213.2L93.8 212.6L94.2 211.7L94.6 211.2L95 210.7L95.4 210.4L95.8 210.3L96.2 209.7L96.6 209.6L97 208.7L97.4 208.4L97.8 207.7L98.2 208.2L98.6 207.2L99 207.5L99.4 207.1L99.8 206L100.2 205.5L100.6 205.5L101 205.9L101.4 205.7L101.8 205.3L102.2 205L102.6 204.5L103 203.5L103.4 204.1L103.8 203.5L104.2 203L104.6 203.1L105 203L105.4 202.6L105.8 201.8L106.2 202L106.6 201L107 201.2L107.4 200.6L107.8 201L108.2 200.6L108.6 200.5L109 199.9L109.4 199.7L109.8 199.6L110.2 199.2L110.6 199.2L111 199.2L111.4 198.7L111.8 198.6L112.2 198.6L112.6 198L113 198.2L113.4 197.6L113.8 197.2L114.2 196.9L114.6 197.1L115 196.6L115.4 196.9L115.8 196.8L116.2 196.4L116.6 196.3L117 195.7L117.4 194.9L117.8 195.6L118.2 194.7L118.6 195.6L119 195.5L119.4 195L119.8 194.4L120.2 194.5L120.6 194.9L121 194.7L121.4 194.4L121.8 194.5L122.2 194.1L122.6 194.1L123 194.1L123.4 193.7L123.8 193.6L124.2 193.7L124.6 193.6L125 193L125.4 192.7L125.8 193.3L126.2 192.6L126.6 192.6L127 192.7L127.4 192.7L127.8 192.9L128.2 192.7L128.6 192.6L129 192.4L129.4 192.6L129.8 191.5L130.2 191.4L130.6 192.4L131 192.2L131.4 191.8L131.8 191.6L132.2 191.2L132.6 192L133 191.1L133.4 191.9L133.8 192.1L134.2 191.9L134.6 191.8L135 191.5L135.4 191.9L135.8 192.1L136.2 192.1L136.6 191.5L137 191.9L137.4 191.8L137.8 192L138.2 192.3L138.6 192.2L139 192.3L139.4 192.1L139.8 192.5L140.2 192.5L140.6 192.2L141 192.8L141.4 191.8L141.8 192.9L142.2 191.3L142.6 192.6L143 193L143.4 193.1L143.8 191.8L144.2 193.4L144.6 193.5L145 192.6L145.4 193L145.8 192.8L146.2 193.9L146.6 193.8L147 192.8L147.4 194.4L147.8 194.4L148.2 194.3L148.6 194.8L149 194.2L149.4 194.5L149.8 194.8L150.2 195L150.6 194.8L151 194.9L151.4 195.8L151.8 195L152.2 195.2L152.6 195.4L153 196L153.4 196.6L153.8 196.5L154.2 197L154.6 197.2L155 197.1L155.4 197L155.8 196L156.2 197.7L156.6 197.6L157 197.2L157.4 197.8L157.8 198L158.2 198.1L158.6 198.7L159 199L159.4 198.9L159.8 198.2L160.2 198L160.6 199.2L161 196.4L161.4 198.8L161.4 204L161 202.9L160.6 203.9L160.2 202.3L159.8 202L159.4 203.4L159 203.2L158.6 201.7L158.2 201.1L157.8 201.6L157.4 201.1L157 200.4L156.6 200.9L156.2 200.5L155.8 200.4L155.4 199.4L155 199.3L154.6 199L154.2 199.5L153.8 198.7L153.4 198.4L153 198.1L152.6 198L152.2 198.1L151.8 198.2L151.4 197.6L151 197.3L150.6 197.1L150.2 196.9L149.8 196.7L149.4 197.7L149 197.5L148.6 196.6L148.2 196.4L147.8 196.4L147.4 196L147 196.3L146.6 196.2L146.2 196.4L145.8 195.6L145.4 195.7L145 195.2L144.6 195.2L144.2 195.5L143.8 195.2L143.4 195.8L143 194.8L142.6 194.7L142.2 194.5L141.8 195.1L141.4 194.6L141 194.2L140.6 194.6L140.2 194.1L139.8 194.6L139.4 194.5L139 194.3L138.6 194L138.2 194.2L137.8 194.3L137.4 193.9L137 194L136.6 193.5L136.2 194.1L135.8 193.7L135.4 193.7L135 194L134.6 194.1L134.2 193.3L133.8 193.6L133.4 193.6L133 194.2L132.6 193.5L132.2 194.1L131.8 194.1L131.4 193.8L131 193.7L130.6 194.3L130.2 193.8L129.8 193.7L129.4 193.7L129 193.9L128.6 194.5L128.2 194.4L127.8 194.3L127.4 194.4L127 194.4L126.6 194.5L126.2 195.1L125.8 194.6L125.4 195.1L125 194.9L124.6 195.2L124.2 195.4L123.8 195.3L123.4 195.8L123 195.7L122.6 195.6L122.2 195.6L121.8 195.9L121.4 195.8L121 196.7L120.6 196.1L120.2 196.6L119.8 196.6L119.4 197L119 196.7L118.6 197.3L118.2 197.3L117.8 197L117.4 197.7L117 197.9L116.6 197.9L116.2 198.3L115.8 198.3L115.4 198.2L115 198.6L114.6 198.5L114.2 199.6L113.8 199L113.4 199.1L113 199.8L112.6 199.7L112.2 200.1L111.8 200L111.4 200.4L111 201.2L110.6 200.7L110.2 201L109.8 201.5L109.4 201.9L109 201.7L108.6 202L108.2 202.8L107.8 202.3L107.4 202.7L107 203L106.6 203.3L106.2 203.8L105.8 204L105.4 205.1L105 205L104.6 204.6L104.2 204.8L103.8 205.6L103.4 206L103 206L102.6 206.1L102.2 206.3L101.8 207.9L101.4 207.1L101 207.6L100.6 208L100.2 208.2L99.8 208.3L99.4 208.6L99 209.3L98.6 209.6L98.2 210.5L97.8 210L97.4 210.8L97 211.2L96.6 211.1L96.2 212.3L95.8 212L95.4 212.6L95 213.1L94.6 214.2L94.2 213.7L93.8 214.4L93.4 215.1L93 215.3L92.6 215.8L92.2 216.4L91.8 218.1L91.4 217.7L91 218.6L90.6 218.8L90.2 219.7L89.8 219.7L89.4 220.3L89 221.3L88.6 222.2L88.2 223.1L87.8 223.4L87.4 223.3L87 225.4L86.6 225L86.2 225.9L85.8 226.8L85.4 227.9L85 227.5L84.6 228.3L84.2 228.5L83.8 230.1L83.4 230.3L83 230.6L82.6 231L82.2 232L81.8 233.6L81.4 234.3L81 233.7L80.6 234.8L80.2 235.1L79.8 237.3L79.4 238.9L79 237.6L78.6 239.6L78.2 239Z"/>
<path d="M78.2 194.8L78.6 196.2L79 197.2L79.4 195L79.8 193.8L80.2 194.6L80.6 193.3L81 189.5L81.4 191L81.8 191.4L82.2 189.8L82.6 189.8L83 187.6L83.4 187.8L83.8 187.4L84.2 186.2L84.6 184.7L85 184L85.4 183.8L85.8 183.1L86.2 181.5L86.6 181.5L87 180.6L87.4 179.6L87.8 179L88.2 177.5L88.6 176.1L89 174.8L89.4 175.4L89.8 174.6L90.2 173.9L90.6 172.4L91 172.2L91.4 171.7L91.8 170.8L92.2 170.2L92.6 168.8L93 168.3L93.4 167.6L93.8 167L94.2 166.6L94.6 165.4L95 165.4L95.4 164.2L95.8 163.7L96.2 163.3L96.6 162.9L97 162.4L97.4 161.9L97.8 160.9L98.2 159.8L98.6 160.2L99 159.1L99.4 158.8L99.8 157.9L100.2 158L100.6 157.2L101 156.7L101.4 156.4L101.8 156.6L102.2 155.9L102.6 154.9L103 155.1L103.4 154.6L103.8 154.4L104.2 153.6L104.6 153.4L105 153.2L105.4 152.6L105.8 152.2L106.2 151.1L106.6 151.4L107 151.1L107.4 150.6L107.8 150.1L108.2 149.4L108.6 149.2L109 149L109.4 149L109.8 148.5L110.2 147.5L110.6 147L111 147.6L111.4 147.1L111.8 146.6L112.2 146.5L112.6 146.3L113 145.5L113.4 145.5L113.8 144.9L114.2 144.9L114.6 144.3L115 144.6L115.4 143.5L115.8 143.5L116.2 143.9L116.6 143.2L117 143.4L117.4 143L117.8 142.8L118.2 142L118.6 141.8L119 141.3L119.4 141.6L119.8 141L120.2 141.5L120.6 140.8L121 141.3L121.4 141.1L121.8 140.9L122.2 140.5L122.6 140.4L123 140.1L123.4 140L123.8 139.6L124.2 139.7L124.6 139.6L125 138.9L125.4 139.2L125.8 139.1L126.2 138.8L126.6 138.7L127 138.2L127.4 138.4L127.8 137.6L128.2 137.7L128.6 138.3L129 138L129.4 137.7L129.8 137.8L130.2 137.9L130.6 137.2L131 136.9L131.4 137.6L131.8 137.3L132.2 137.3L132.6 137L133 137L133.4 137.3L133.8 137.3L134.2 137.3L134.6 137.1L135 137.2L135.4 136.4L135.8 137.1L136.2 136.6L136.6 137.4L137 137.7L137.4 137.3L137.8 137.6L138.2 137.6L138.6 137.8L139 137.9L139.4 137.8L139.8 138.1L140.2 137.8L140.6 138.4L141 138.5L141.4 138.4L141.8 138.2L142.2 137.9L142.6 138.8L143 138.9L143.4 137.9L143.8 139.3L144.2 139.3L144.6 138.4L145 139.7L145.4 139.6L145.8 139.7L146.2 140.1L146.6 139.9L147 140.2L147.4 139.9L147.8 140.8L148.2 140L148.6 141.4L149 141.3L149.4 141.7L149.8 141.2L150.2 142.2L150.6 142.1L151 141.9L151.4 142.6L151.8 142.2L152.2 142.6L152.6 142.5L153 143.2L153.4 142.9L153.8 143.6L154.2 144.2L154.6 144.4L155 144.5L155.4 144.5L155.8 145.6L156.2 145.9L156.6 145.5L157 146.4L157.4 146.2L157.8 146.8L158.2 146.3L158.6 145.5L159 147.5L159.4 147.8L159.8 148L160.2 148L160.6 147.8L161 147.9L161.4 149L161.4 154.4L161 152.3L160.6 151.9L160.2 152.2L159.8 151L159.4 153.3L159 151.1L158.6 150.1L158.2 150.5L157.8 149.4L157.4 149.2L157 148.9L156.6 149.6L156.2 149.4L155.8 148.3L155.4 147.8L155 148.1L154.6 148.4L154.2 146.9L153.8 146.1L153.4 146.5L153 146.1L152.6 145.6L152.2 145.7L151.8 145L151.4 144.6L151 145.7L150.6 144.2L150.2 143.7L149.8 144L149.4 144L149 143.3L148.6 143.9L148.2 143.2L147.8 143.1L147.4 142.9L147 143L146.6 142.2L146.2 142.4L145.8 142.1L145.4 142L145 141.2L144.6 141L144.2 141.4L143.8 140.8L143.4 140.7L143 141.7L142.6 141.1L142.2 141L141.8 140.4L141.4 140.3L141 140.3L140.6 140.1L140.2 140L139.8 140.4L139.4 139.9L139 139.4L138.6 139.8L138.2 139.6L137.8 139.7L137.4 139.6L137 139.3L136.6 139.3L136.2 138.8L135.8 139L135.4 139.1L135 138.8L134.6 138.9L134.2 139.1L133.8 138.7L133.4 139.3L133 139L132.6 139.5L132.2 139.7L131.8 139.2L131.4 139.5L131 139.2L130.6 139.3L130.2 139.5L129.8 140.4L129.4 139.2L129 139.4L128.6 140.7L128.2 139.6L127.8 140L127.4 139.9L127 140.1L126.6 140.1L126.2 140.5L125.8 141.1L125.4 141.4L125 141L124.6 141L124.2 141.7L123.8 141.3L123.4 142L123 141.6L122.6 142.4L122.2 142.5L121.8 142.8L121.4 142.6L121 142.8L120.6 142.6L120.2 143.7L119.8 143.4L119.4 143.8L119 143.8L118.6 143.9L118.2 144.5L117.8 144.3L117.4 144.5L117 145.2L116.6 144.9L116.2 145.1L115.8 145.4L115.4 145.9L115 147.1L114.6 146.4L114.2 146.6L113.8 147.1L113.4 147.5L113 147.7L112.6 147.9L112.2 148.1L111.8 148.5L111.4 148.7L111 148.8L110.6 149.5L110.2 150.1L109.8 150L109.4 150.3L109 150.6L108.6 151.4L108.2 151.7L107.8 152.2L107.4 152.5L107 152.7L106.6 153.6L106.2 153.5L105.8 153.6L105.4 154.2L105 154.7L104.6 154.9L104.2 155.9L103.8 155.7L103.4 157.2L103 156.9L102.6 157.3L102.2 157.6L101.8 158.3L101.4 158.3L101 158.7L100.6 159.9L100.2 159.7L99.8 160.5L99.4 160.9L99 161.9L98.6 161.8L98.2 162.3L97.8 162.9L97.4 164L97 163.8L96.6 164.7L96.2 165.1L95.8 165.7L95.4 166.4L95 167L94.6 167.4L94.2 170L93.8 169L93.4 169.5L93 170.6L92.6 171.1L92.2 172.6L91.8 172.5L91.4 174.1L91 174.4L90.6 176.7L90.2 175.9L89.8 178.2L89.4 178.2L89 179L88.6 179.4L88.2 180.7L87.8 181.1L87.4 182.3L87 183.2L86.6 184.4L86.2 184.8L85.8 185.8L85.4 186.5L85 188.2L84.6 189.1L84.2 189.6L83.8 191.8L83.4 191.7L83 193.7L82.6 193.3L82.2 193.9L81.8 196.7L81.4 195.9L81 198.4L80.6 198.1L80.2 200.6L79.8 201.3L79.4 200.9L79 202.8L78.6 204.7L78.2 204.1Z"/>
<path d="M78.2 213.2L78.6 213.8L79 213.5L79.4 212.1L79.8 212.8L80.2 211.8L80.6 211.3L81 209.5L81.4 209.9L81.8 209.4L82.2 208.5L82.6 207.7L83 206L83.4 206.6L83.8 203L84.2 204.7L84.6 204.6L85 202.9L85.4 202.8L85.8 202.1L86.2 201L86.6 200.2L87 199.6L87.4 198.7L87.8 197.8L88.2 197.2L88.6 196.4L89 194.8L89.4 194.9L89.8 194.1L90.2 193.6L90.6 192.9L91 191.6L91.4 191L91.8 190.6L92.2 190.2L92.6 188.8L93 187.9L93.4 188L93.8 186.8L94.2 186.8L94.6 185.2L95 184.9L95.4 185.2L95.8 184.6L96.2 184.1L96.6 183.3L97 182.8L97.4 181.8L97.8 181.5L98.2 181.4L98.6 180.9L99 179.8L99.4 179.8L99.8 179.7L100.2 178.4L100.6 178.9L101 178.3L101.4 178.1L101.8 177.1L102.2 176.9L102.6 176.2L103 176.3L103.4 175.6L103.8 175.1L104.2 174.9L104.6 174.7L105 174.2L105.4 173.8L105.8 173.6L106.2 172.3L106.6 172.9L107 172.2L107.4 172.1L107.8 171.9L108.2 170.8L108.6 171.2L109 170.4L109.4 169.6L109.8 169.7L110.2 169.7L110.6 169.7L111 169.1L111.4 169L111.8 168.5L112.2 168.1L112.6 167.8L113 167.5L113.4 166.8L113.8 166.9L114.2 166.3L114.6 166.2L115 166L115.4 166.2L115.8 165.9L116.2 165.3L116.6 165L117 165.1L117.4 164.5L117.8 164.7L118.2 164.6L118.6 164.2L119 163.5L119.4 163.7L119.8 163.8L120.2 163.4L120.6 163.3L121 163.2L121.4 162.6L121.8 162.3L122.2 162.4L122.6 162L123 162.2L123.4 162.1L123.8 161.9L124.2 161.8L124.6 161.5L125 160.8L125.4 161.3L125.8 160.8L126.2 160.9L126.6 160.1L127 160.8L127.4 160.2L127.8 160.4L128.2 160.3L128.6 160.1L129 160.3L129.4 159.4L129.8 159.6L130.2 159.3L130.6 159.6L131 159.9L131.4 159.5L131.8 159.6L132.2 159.7L132.6 159L133 159.6L133.4 159.2L133.8 158.4L134.2 159.6L134.6 159.6L135 159.1L135.4 159.4L135.8 159.1L136.2 159.3L136.6 159.7L137 159.6L137.4 159.6L137.8 159.7L138.2 159.4L138.6 159.6L139 159.3L139.4 160.1L139.8 159.8L140.2 160.2L140.6 160.1L141 160.2L141.4 160.3L141.8 160.5L142.2 160.1L142.6 160.3L143 160.9L143.4 161.2L143.8 161L144.2 161.5L144.6 161.1L145 161L145.4 161.5L145.8 161.4L146.2 161.8L146.6 161.4L147 161.4L147.4 162.8L147.8 162.9L148.2 162.8L148.6 162.7L149 162.2L149.4 163.7L149.8 162.5L150.2 163.8L150.6 164.3L151 164L151.4 164.2L151.8 164.9L152.2 164.5L152.6 165.3L153 165.4L153.4 165.7L153.8 165.9L154.2 166.4L154.6 165.6L155 166.4L155.4 167L155.8 165.4L156.2 167.1L156.6 167.3L157 167.4L157.4 166.6L157.8 167.6L158.2 168L158.6 168.1L159 168.9L159.4 169.3L159.8 168.4L160.2 170L160.6 170.1L161 169.6L161.4 168.2L161.4 175.5L161 173.8L160.6 174L160.2 173.7L159.8 173.7L159.4 172.9L159 171.6L158.6 172.1L158.2 171.4L157.8 172L157.4 170.5L157 172.1L156.6 171.6L156.2 170.5L155.8 170.2L155.4 169.3L155 169.2L154.6 168.5L154.2 168.2L153.8 167.9L153.4 167.9L153 168.3L152.6 168.3L152.2 168.2L151.8 167.3L151.4 166.7L151 166.6L150.6 166L150.2 166.5L149.8 165.4L149.4 165.5L149 165.7L148.6 165.3L148.2 164.9L147.8 164.7L147.4 164.5L147 164.8L146.6 164.3L146.2 163.8L145.8 164.7L145.4 164.4L145 163.4L144.6 163.1L144.2 163L143.8 162.9L143.4 163.1L143 163.4L142.6 163.2L142.2 162.4L141.8 163.2L141.4 162.4L141 162.1L140.6 162.6L140.2 161.8L139.8 162.6L139.4 162.3L139 161.5L138.6 161.9L138.2 161.5L137.8 161.7L137.4 161.6L137 161.4L136.6 161.4L136.2 161L135.8 161.3L135.4 161.5L135 161.7L134.6 160.9L134.2 161.2L133.8 161L133.4 161.4L133 161.3L132.6 161.2L132.2 161.2L131.8 161.4L131.4 161.8L131 162L130.6 161.4L130.2 161.6L129.8 161.6L129.4 161.6L129 162L128.6 162.2L128.2 162.4L127.8 162L127.4 162.2L127 163.2L126.6 162.5L126.2 162.4L125.8 162.6L125.4 163.1L125 162.7L124.6 163.1L124.2 163.3L123.8 164.1L123.4 163.8L123 164.2L122.6 164.1L122.2 163.9L121.8 164.3L121.4 164.8L121 164.7L120.6 164.7L120.2 165.7L119.8 165.5L119.4 165.5L119 165.5L118.6 165.8L118.2 166.2L117.8 166L117.4 166.5L117 166.5L116.6 167.2L116.2 167.9L115.8 167.7L115.4 168.3L115 167.9L114.6 168L114.2 168.6L113.8 168.5L113.4 168.9L113 169.1L112.6 169.7L112.2 169.6L111.8 170.1L111.4 170.4L111 170.9L110.6 171.6L110.2 171.1L109.8 171.9L109.4 171.8L109 172.1L108.6 172.7L108.2 173.7L107.8 173.2L107.4 173.5L107 173.9L106.6 174.3L106.2 174.9L105.8 175.1L105.4 175.3L105 175.7L104.6 176.1L104.2 176.7L103.8 176.8L103.4 177.2L103 177.7L102.6 178.1L102.2 178.6L101.8 179.3L101.4 179.8L101 179.7L100.6 180.4L100.2 181.2L99.8 181.5L99.4 181.7L99 182.2L98.6 182.6L98.2 183.7L97.8 184.3L97.4 184L97 184.4L96.6 185.2L96.2 185.9L95.8 186L95.4 187.4L95 187.2L94.6 188L94.2 188.7L93.8 189.2L93.4 189.9L93 190.4L92.6 192.1L92.2 191.9L91.8 193.2L91.4 193.6L91 194.9L90.6 195.5L90.2 196.3L89.8 196.9L89.4 197.2L89 198.4L88.6 198.8L88.2 200.4L87.8 201.2L87.4 201.3L87 203.3L86.6 203.9L86.2 204.3L85.8 205.9L85.4 206.3L85 206.5L84.6 208.3L84.2 208.5L83.8 210.2L83.4 212.4L83 210.8L82.6 212.4L82.2 212.8L81.8 213.9L81.4 214.2L81 215.2L80.6 217L80.2 217.6L79.8 218.4L79.4 219.8L79 221.9L78.6 220.5L78.2 223.5Z"/>
<path d="M78.2 227.4L78.6 228.8L79 226.1L79.4 227.4L79.8 224.3L80.2 225.5L80.6 225.6L81 221.7L81.4 223.1L81.8 222.7L82.2 222.6L82.6 222.6L83 221.9L83.4 219.5L83.8 219.6L84.2 219.4L84.6 217.6L85 218.2L85.4 217.5L85.8 216.9L86.2 215.5L86.6 215.5L87 214.2L87.4 214.2L87.8 213.1L88.2 212.5L88.6 211.9L89 210.3L89.4 210L89.8 210L90.2 208.7L90.6 207.3L91 207L91.4 206L91.8 206.2L92.2 205.5L92.6 205.1L93 204.9L93.4 204.2L93.8 203.2L94.2 202.9L94.6 202.3L95 201.9L95.4 200.2L95.8 200.7L96.2 199.7L96.6 199.7L97 199.4L97.4 198.7L97.8 198.3L98.2 197.5L98.6 197.5L99 196.7L99.4 195.2L99.8 196.1L100.2 194.9L100.6 194.6L101 194.7L101.4 194.4L101.8 193.4L102.2 193.5L102.6 193.3L103 192.8L103.4 192.5L103.8 191.6L104.2 191.5L104.6 191L105 190.8L105.4 190.6L105.8 190L106.2 189.7L106.6 189.5L107 189.5L107.4 189.1L107.8 188.5L108.2 188.3L108.6 187.7L109 187.8L109.4 187.7L109.8 187L110.2 187L110.6 186L111 186.3L111.4 186.2L111.8 185.4L112.2 185.4L112.6 185L113 184.6L113.4 184.7L113.8 184.4L114.2 184.3L114.6 184.1L115 183.3L115.4 183.2L115.8 182.7L116.2 183.1L116.6 182.9L117 182.4L117.4 182.4L117.8 181.9L118.2 181.8L118.6 181L119 181.6L119.4 181.2L119.8 181.1L120.2 180.6L120.6 180.7L121 180.3L121.4 180.1L121.8 180.1L122.2 180L122.6 179.9L123 179.4L123.4 179.7L123.8 178.8L124.2 179.2L124.6 179L125 178.9L125.4 178.9L125.8 178.8L126.2 178.4L126.6 178.5L127 178.3L127.4 178L127.8 178.2L128.2 178L128.6 177.9L129 177.8L129.4 177.8L129.8 177.3L130.2 177.4L130.6 177.5L131 177L131.4 177.6L131.8 177.5L132.2 177L132.6 177.2L133 177.3L133.4 177L133.8 177.1L134.2 177.2L134.6 176.5L135 176.6L135.4 177.1L135.8 177.3L136.2 176.9L136.6 177.2L137 177.5L137.4 177.5L137.8 177.4L138.2 177.7L138.6 177.7L139 177.7L139.4 177.2L139.8 177.9L140.2 177.2L140.6 177.6L141 177.4L141.4 177.9L141.8 178.2L142.2 178.4L142.6 178.3L143 178.7L143.4 178.5L143.8 178.2L144.2 178.3L144.6 178.8L145 178.6L145.4 178.8L145.8 179L146.2 179.1L146.6 179.9L147 180.1L147.4 179.9L147.8 180.5L148.2 180.3L148.6 180.8L149 180.4L149.4 180.5L149.8 181.2L150.2 181.3L150.6 181.6L151 181.7L151.4 181.3L151.8 182.1L152.2 182.5L152.6 182.1L153 181.5L153.4 182.5L153.8 182.8L154.2 183.6L154.6 182.5L155 183.5L155.4 183.2L155.8 183.8L156.2 184.7L156.6 184.9L157 184.4L157.4 184.9L157.8 184.8L158.2 185.5L158.6 185.7L159 185.4L159.4 186.1L159.8 186.1L160.2 185.3L160.6 186.3L161 187.2L161.4 186.6L161.4 192.8L161 193L160.6 191.6L160.2 192.6L159.8 190.2L159.4 189.6L159 189.1L158.6 189.1L158.2 189.8L157.8 188.8L157.4 187.8L157 187.3L156.6 188.6L156.2 187L155.8 186.9L155.4 186.6L155 187L154.6 185.8L154.2 185.8L153.8 186L153.4 186.1L153 185.2L152.6 184.6L152.2 184.2L151.8 184.4L151.4 184.1L151 184.7L150.6 183.5L150.2 183.1L149.8 184.3L149.4 182.7L149 182.9L148.6 182.7L148.2 182.9L147.8 183L147.4 181.9L147 182.6L146.6 181.9L146.2 181.5L145.8 181.5L145.4 181L145 180.8L144.6 181L144.2 181.7L143.8 181.3L143.4 180.6L143 180.4L142.6 181L142.2 180.3L141.8 180.2L141.4 180L141 179.8L140.6 179.6L140.2 180.5L139.8 179.4L139.4 179.7L139 179.2L138.6 179.5L138.2 179.4L137.8 180.2L137.4 179.1L137 179.1L136.6 178.8L136.2 179.5L135.8 178.6L135.4 179L135 178.7L134.6 178.5L134.2 178.8L133.8 179L133.4 179L133 179.7L132.6 178.7L132.2 178.9L131.8 179.4L131.4 179.7L131 178.9L130.6 179L130.2 180L129.8 179.2L129.4 179.5L129 180.2L128.6 179.6L128.2 179.6L127.8 180.2L127.4 179.6L127 180.6L126.6 180.5L126.2 180L125.8 180.8L125.4 180.2L125 180.4L124.6 180.8L124.2 181L123.8 181L123.4 181.4L123 181.7L122.6 181.2L122.2 182L121.8 181.9L121.4 182.6L121 181.9L120.6 183.1L120.2 182.7L119.8 182.6L119.4 182.7L119 182.7L118.6 183.5L118.2 183.6L117.8 183.5L117.4 184.4L117 184.1L116.6 184L116.2 184.3L115.8 184.5L115.4 185.1L115 185L114.6 185.5L114.2 185.6L113.8 186.3L113.4 186.6L113 186.5L112.6 187.2L112.2 187.1L111.8 187.1L111.4 187.3L111 187.7L110.6 188.2L110.2 188.8L109.8 188.5L109.4 189.5L109 189.4L108.6 189.7L108.2 190.8L107.8 190.1L107.4 190.9L107 191.2L106.6 191.2L106.2 191.7L105.8 192.1L105.4 192.6L105 193.5L104.6 193.3L104.2 193.2L103.8 193.8L103.4 194.4L103 195.4L102.6 194.9L102.2 195.3L101.8 196L101.4 195.9L101 196.6L100.6 197.7L100.2 197.3L99.8 197.8L99.4 198.2L99 198.5L98.6 199.4L98.2 200.3L97.8 200.4L97.4 200.6L97 201.8L96.6 201.8L96.2 201.8L95.8 203L95.4 203.8L95 203.5L94.6 204.1L94.2 204.7L93.8 205.3L93.4 205.8L93 207.5L92.6 207.5L92.2 208.3L91.8 209.3L91.4 209L91 210.3L90.6 211.6L90.2 211.2L89.8 212.2L89.4 213.7L89 214.2L88.6 214.1L88.2 215.3L87.8 216.1L87.4 216.7L87 217.3L86.6 218.6L86.2 219.2L85.8 220.8L85.4 221.4L85 221.3L84.6 222.3L84.2 223L83.8 225.7L83.4 224.4L83 225.5L82.6 225.7L82.2 228.1L81.8 227.3L81.4 229.2L81 229.5L80.6 231.6L80.2 231.6L79.8 231.4L79.4 234.3L79 233.3L78.6 236.7L78.2 236.6Z"/>
</g>
<g stroke="#fff" stroke-width="0.5" opacity="0.85" fill="none">
<path d="M66 248L69 236"/>
<path d="M67.5 240L70.5 228"/>
<path d="M70 252L72.5 240"/>
<path d="M72.5 236L75 224"/>
<path d="M74 246L76.5 234"/>
<path d="M69 226L71 218"/>
<path d="M75.5 222L77 214"/>
</g>
<path d="M52 264.3L53 265.3L54 266.6L55 267.9L56 269.1L57 270L58 270.5L59 270.7L60 270.4L61 269.8L62 268.8L63 267.7L64 266.4L65 265.1L66 264.1L67 263.1L68 262.2L69 261.3L70 260.4L71 259.5L72 258.5L73 257.5L74 256.4L75 255.3L76 254.2L77 252.9L78 251.7L79 250.3L80 248.8L81 247.3L82 245.7L83 244L84 242.3L85 240.4L86 238.4L87 236.2L88 233.8L89 231.1L90 228.3L91 225.6L92 223L93 220.5L94 218L95 215.4L96 212.7L97 209.8L98 206.7L99 203.4L100 200.1L101 196.9L102 193.9L103 190.9L104 188.1L105 185.3L106 182.6L107 179.9L108 177.2L109 174.6L110 172.3L111 170.2L112 168.3L113 166.6L114 165L115 163.5L116 162.1L117 160.7L118 159.3L119 157.9L120 156.5L121 155.1L122 153.7L123 152.3L124 151L125 149.7L126 148.4L127 147.1L128 145.9L129 144.7L130 143.5L131 142.3L132 141.2L133 140.1L134 139L135 138.1L136 137.3L137 136.5L138 135.8L139 135.2L140 134.6L141 134.1L142 133.6L143 133.2L144 133L145 132.8L146 132.7L147 132.6L148 132.6L149 132.5L150 132.5L151 132.5L152 132.5L153 132.6L154 132.6L155 132.7L156 132.7L157 132.7L158 132.8L159 132.8L160 132.8L161 132.8L162 132.8L163 132.8L164 132.8L165 132.8L166 132.8L167 132.8L168 132.8L169 132.8L170 132.8L171 132.7L172 132.6L173 132.4L174 132.1L175 131.8L176 131.5L177 131.1L178 130.8L179 130.4L180 130L181 129.6L182 129.2L183 128.7L184 128.2L185 127.7L186 127.1L187 126.6L188 126.1L189 125.5L190 125L191 124.5L192 124L193 123.5L194 123.1L195 122.6L196 122.1L197 121.6L198 121.1L199 120.5L200 120L201 119.4L202 118.8L203 118.3L204 117.6L205 117L206 116.4L207 115.8L208 115.1L209 114.5L210 113.8L211 113.1L212 112.5L213 111.8L214 111.1L215 110.4L216 109.7L217 109L218 108.4L219 107.7L220 107L221 106.3L222 105.6L223 104.9L224 104.2L225 103.5L226 102.8L227 102.1L228 101.4L229 100.7L230 100L231 99.3L232 98.7L233 98L234 97.4L235 96.8L236 96.1L237 95.5L238 94.9L239 94.2L240 93.6L241 92.9L242 92.3L243 91.6L244 90.9L245 90.3L246 89.6L247 88.9L248 88.3L249 87.6L250 87L251 86.4L252 85.7L253 85.1L254 84.4L255 83.8L256 83.2L257 82.6L258 82L259 81.5L260 81L261 80.5L262 80L263 79.6L264 79.1L265 78.7L266 78.3L267 77.9L268 77.7L269 77.5L270 77.4L271 77.4L272 77.4L273 77.4L274 77.4L275 77.4L276 77.4L277 77.5L278 77.7L279 78.1L280 78.6L281 79.1L282 79.5L283 79.9L284 80.2L285 80.4L286 80.4L287 80.1L288 79.7L289 79.2L290 78.6L291 78L292 77.3L293 76.6L294 75.8L295 75L296 74.2L297 73.4L298 72.6L299 71.8L300 71L301 70.2L302 69.5L303 68.7L304 67.9L305 67.2L306 66.4L307 65.7L308 65L309 64.3L310 63.6L311 63L312 62.3L313 61.7L314 61.1L315 60.6L316 60L317 59.5L318 59L319 58.5L320 58L321 57.6L322 57.2L323 56.8L324 56.5L325 56.1L326 55.8L327 55.5L328 55.1L329 54.8L330 54.4L331 53.9L332 53.5L333 53L334 52.6L335 52.3L336 52.1L337 51.9L338 51.7L339 51.6L340 51.5L341 51.5L342 51.4L343 51.5L344 51.5L345 51.7L346 51.9L347 52.2L348 52.4L349 52.7L350 53L351 53.2L352 53.4L353 53.5L354 53.5L355 53.3L356 53.1L357 52.9L358 52.6L359 52.3L360 52L361 51.7L362 51.4L363 51.1L364 50.8L365 50.5L366 50.2L367 49.9L368 49.6L369 49.3L370 49L371 48.7L372 48.5L373 48.2L374 48L375 47.8L376 47.5L377 47.3L378 47.1L379 47L380 46.8L381 46.7L382 46.5L383 46.4L384 46.3L385 46.3L386 46.3L387 46.6L388 47.1L389 47.8L390 48.9L391 50.4L392 52.3L393 54.6L394 57.2L395 60.2L396 63.2L397 66.1L398 68.5L399 70.3L400 71.4L401 72L402 72.1L403 71.9L404 71.5L405 70.9L406 70.2L407 69.3L408 68.2L409 67.1L410 66L411 64.7L412 63.4L413 62.1L414 60.7L415 59.3L416 58L417 56.8L418 55.5L419 54.3L420 53.1L421 52L422 50.9L423 50L424 49.1L425 48.2L426 47.5L427 46.8L428 46.2L429 45.6L430 45L431 44.5L432 44L433 43.5L434 43.1L435 42.7L436 42.3L437 41.9L438 41.6L439 41.3L440 41L441 40.8L442 40.6L443 40.4L444 40.3L445 40.3L446 40.3L447 40.4L448 40.6L449 40.8L450 41L451 41.3L452 41.5L453 41.8L454 42.2L455 42.6L456 43.1L457 43.6L458 44.2L459 44.9L460 45.6L461 46.3L462 47L463 47.5L464 47.8L465 48L466 48L467 48L468 48L469 48L470 48.1L471 48.2L472 48.4L473 48.7L474 49.1L475 49.6L476 50L477 50.6L478 51.2L479 51.9L480 52.6L481 53.3L482 54L483 54.8L484 55.6L485 56.3L486 57L487 57.5L488 57.9L489 58.1L490 58.2L491 58.3L492 58.4L493 58.5L494 58.7L495 58.9L496 59.3L497 59.8L498 60.4L499 61.1L500 62L501 63L502 64.1L503 65.3L504 66.3L505 67.3L506 68.3L507 69.1L508 69.9L509 70.6L510 71.3L511 71.8L512 72.4L513 73L514 73.7L515 74.4L516 75.2L517 76L518 76.8L519 77.4L520 77.9L521 78.2L522 78.4L523 78.5L524 78.7L525 78.8L526 79.1L527 79.4L528 79.9L529 80.4L530 81L531 81.6L532 82.3L533 83L534 83.7L535 84.3L536 85L537 85.6L538 86.2L539 86.7L540 87.3L541 87.9L542 88.4L543 89L544 89.6L545 90.3L546 90.9L547 91.6L548 92.2L549 92.7" fill="none" stroke="#FF2C1C" stroke-width="1.45" stroke-linejoin="round"/>
<path d="M61.2 265.9L61.8 263.3L62.4 263.4L63 260.3L63.6 262.4L64.2 261.4L64.8 261.4L65.4 259.9L66 259L66.6 259.7L67.2 256.7L67.8 257.8L68.4 257.8L69 255.1L69.6 254.2L70.2 255.5L70.8 254.7L71.4 254.7L72 254.3L72.6 252.2L73.2 253.1L73.8 253.7L74.4 251.5L75 251.2L75.6 249.9L76.2 251.7L76.8 252.7L77.4 248.4L77.4 294.4L76.8 293.1L76.2 297.5L75.6 300.1L75 294.2L74.4 296L73.8 298.4L73.2 292.9L72.6 290.8L72 301.7L71.4 297.6L70.8 298.6L70.2 302L69.6 296.1L69 300.9L68.4 301.8L67.8 295.6L67.2 299.1L66.6 300.9L66 299.3L65.4 300.9L64.8 299.9L64.2 297.9L63.6 297.5L63 299.4L62.4 299.2L61.8 303L61.2 302.9Z" fill="#00FFFF"/>
<path d="M73 246V256" stroke="#00FFFF" stroke-width="0.6" fill="none"/>
<path d="M74.5 245V256" stroke="#00FFFF" stroke-width="0.5" fill="none"/>
<path d="M78.6 255V302" stroke="#00FFFF" stroke-width="0.9" fill="none"/>
<path d="M161.4 176V228" stroke="#00FFFF" stroke-width="1.0" fill="none"/>
<path d="M62 290V303" stroke="#00FFFF" stroke-width="0.6" fill="none"/>
<g fill="#00FFFF" stroke="none">
<path d="M78.2 257.9L78.6 257.5L79 256.2L79.4 256L79.8 255.9L80.2 255.6L80.6 252.8L81 253.3L81.4 253.5L81.8 252.6L82.2 251.1L82.6 251.3L83 250.6L83.4 249.4L83.8 248.9L84.2 248.2L84.6 247.7L85 246.5L85.4 245.7L85.8 244.8L86.2 244.8L86.6 242.8L87 242.3L87.4 242.7L87.8 241L88.2 241.2L88.6 239.8L89 239.3L89.4 239.3L89.8 238.1L90.2 237.9L90.6 237L91 236.2L91.4 236.3L91.8 235.5L92.2 234.5L92.6 234.3L93 233.4L93.4 233.3L93.8 232.6L94.2 231.6L94.6 231.1L95 230L95.4 229.3L95.8 229.2L96.2 228L96.6 227.7L97 227.1L97.4 226.3L97.8 225.6L98.2 225L98.6 224.7L99 223.9L99.4 223.4L99.8 222.9L100.2 222.3L100.6 221.3L101 221.2L101.4 220.2L101.8 218.2L102.2 219.1L102.6 218.7L103 217.6L103.4 217L103.8 216.1L104.2 215.8L104.6 215.3L105 214.3L105.4 213.5L105.8 213.1L106.2 212.6L106.6 211.9L107 210.9L107.4 210.2L107.8 210L108.2 209.2L108.6 208.6L109 208L109.4 207.1L109.8 206.5L110.2 205.4L110.6 205.2L111 204L111.4 203.4L111.8 203L112.2 202.3L112.6 201.3L113 200.4L113.4 199.8L113.8 199.5L114.2 199L114.6 198L115 197.4L115.4 196.9L115.8 196.4L116.2 195.1L116.6 195.2L117 194.8L117.4 194.2L117.8 193.5L118.2 193.1L118.6 192.5L119 192.3L119.4 191.5L119.8 191.2L120.2 190.6L120.6 190.2L121 190L121.4 189.5L121.8 189.3L122.2 188.9L122.6 188.7L123 188L123.4 187.8L123.8 187.1L124.2 186.8L124.6 186.9L125 186.7L125.4 186.3L125.8 186.2L126.2 185.6L126.6 185.5L127 185.3L127.4 184.9L127.8 184.7L128.2 184.2L128.6 184L129 183.9L129.4 183.8L129.8 183.3L130.2 183.1L130.6 183.1L131 182.9L131.4 182.4L131.8 182.5L132.2 181.6L132.6 181.7L133 181.8L133.4 181.4L133.8 181.1L134.2 181L134.6 180.8L135 180.8L135.4 180.6L135.8 180.5L136.2 180.5L136.6 180L137 180L137.4 180L137.8 180L138.2 179.9L138.6 179.4L139 179.4L139.4 179.3L139.8 179L140.2 179.2L140.6 179.4L141 179.4L141.4 179.2L141.8 179.2L142.2 178.9L142.6 179.2L143 179.3L143.4 179.3L143.8 178.7L144.2 179.1L144.6 179.1L145 179.3L145.4 179.2L145.8 179.5L146.2 179.5L146.6 178.7L147 178.9L147.4 179.3L147.8 179.5L148.2 179.4L148.6 179.7L149 179.6L149.4 179.9L149.8 179.5L150.2 179.3L150.6 179.5L151 179.9L151.4 179.5L151.8 180.1L152.2 179.8L152.6 180.2L153 180L153.4 180.6L153.8 180.3L154.2 180.5L154.6 180.6L155 180.1L155.4 180.2L155.8 181.2L156.2 181L156.6 181L157 181.6L157.4 180.8L157.8 181.3L158.2 181.7L158.6 181.6L159 181.8L159.4 182.2L159.8 182.6L160.2 182.8L160.6 182.5L161 182.8L161.4 182.8L161.4 185.4L161 185.6L160.6 185.3L160.2 185.6L159.8 184.5L159.4 184.1L159 184L158.6 183.9L158.2 183.7L157.8 183.3L157.4 183.2L157 183.1L156.6 182.8L156.2 182.8L155.8 182.7L155.4 182.8L155 182.2L154.6 182.4L154.2 181.9L153.8 182.4L153.4 181.7L153 182.1L152.6 181.6L152.2 181.6L151.8 181.5L151.4 181.3L151 181.2L150.6 181.3L150.2 181.1L149.8 180.9L149.4 181.2L149 181L148.6 180.8L148.2 181L147.8 180.7L147.4 180.8L147 180.8L146.6 180.5L146.2 180.8L145.8 180.9L145.4 180.6L145 180.5L144.6 180.6L144.2 180.3L143.8 180.7L143.4 180.4L143 180.8L142.6 180.3L142.2 180.4L141.8 180.5L141.4 181.1L141 180.3L140.6 181L140.2 180.4L139.8 180.9L139.4 180.9L139 180.9L138.6 180.9L138.2 180.8L137.8 181.5L137.4 181.9L137 181.9L136.6 181.5L136.2 181.9L135.8 181.8L135.4 181.9L135 181.9L134.6 182.1L134.2 182.3L133.8 183.1L133.4 182.5L133 183.1L132.6 183L132.2 183.4L131.8 183.4L131.4 183.9L131 184.2L130.6 184.7L130.2 184.7L129.8 184.8L129.4 185.1L129 185.3L128.6 185.3L128.2 185.5L127.8 185.8L127.4 186.1L127 186.3L126.6 186.6L126.2 187.3L125.8 187.5L125.4 187.7L125 187.7L124.6 188.1L124.2 188.4L123.8 188.7L123.4 189L123 189.3L122.6 189.7L122.2 190.3L121.8 190.4L121.4 190.9L121 191.4L120.6 191.5L120.2 192L119.8 192.5L119.4 193.5L119 193.3L118.6 194.2L118.2 194.3L117.8 194.9L117.4 195.8L117 195.6L116.6 196.2L116.2 197L115.8 197.6L115.4 198L115 198.6L114.6 199.5L114.2 200.2L113.8 201.7L113.4 201.5L113 202.2L112.6 202.8L112.2 203.4L111.8 204.3L111.4 205L111 205.6L110.6 206.2L110.2 206.8L109.8 207.8L109.4 208.6L109 209.1L108.6 209.7L108.2 211.4L107.8 211.1L107.4 212L107 212.4L106.6 213.3L106.2 213.9L105.8 214.9L105.4 215.4L105 216.2L104.6 216.6L104.2 217.1L103.8 217.9L103.4 218.4L103 219.6L102.6 220.1L102.2 220.5L101.8 221.7L101.4 222.2L101 222.4L100.6 223.4L100.2 224L99.8 224.3L99.4 225L99 225.3L98.6 226.6L98.2 228.2L97.8 227.2L97.4 228L97 228.6L96.6 230.4L96.2 230.5L95.8 230.9L95.4 231.7L95 231.9L94.6 233.2L94.2 233.6L93.8 234.9L93.4 235L93 235.6L92.6 236L92.2 237L91.8 237.3L91.4 238L91 239.5L90.6 239.5L90.2 240.2L89.8 240.5L89.4 241.5L89 242.2L88.6 243L88.2 244L87.8 244L87.4 244.7L87 246.9L86.6 246.3L86.2 246.8L85.8 248L85.4 248.5L85 249.3L84.6 250.5L84.2 252.8L83.8 252.6L83.4 253.3L83 253.3L82.6 254.5L82.2 255.4L81.8 257L81.4 257.2L81 257.1L80.6 258.2L80.2 258.8L79.8 259.6L79.4 262.9L79 261L78.6 263.6L78.2 262Z"/>
<path d="M78.2 262.4L78.6 261.9L79 260.6L79.4 260.2L79.8 260L80.2 257.9L80.6 259L81 257.2L81.4 256L81.8 256.5L82.2 255.8L82.6 255.3L83 254.4L83.4 253.8L83.8 251.7L84.2 252L84.6 250.8L85 249.8L85.4 249.3L85.8 248L86.2 248.1L86.6 247.2L87 246.6L87.4 246L87.8 245.6L88.2 244.9L88.6 243.1L89 243.5L89.4 243L89.8 242.4L90.2 241.3L90.6 240.5L91 240.2L91.4 239.2L91.8 238.4L92.2 237.9L92.6 237.7L93 236.8L93.4 236.5L93.8 235.2L94.2 234.9L94.6 234.1L95 233.8L95.4 232.8L95.8 232.4L96.2 231.9L96.6 231.1L97 229.8L97.4 229.7L97.8 229.2L98.2 228.5L98.6 227.7L99 227.1L99.4 226.5L99.8 226L100.2 225.5L100.6 224.8L101 223.5L101.4 223L101.8 222.6L102.2 221.9L102.6 220.9L103 220.7L103.4 219.6L103.8 218.9L104.2 218.6L104.6 218.1L105 217.5L105.4 216.5L105.8 215.8L106.2 215.3L106.6 214.5L107 214L107.4 213.4L107.8 212.6L108.2 211.6L108.6 210.9L109 209.9L109.4 209.8L109.8 209.2L110.2 208.2L110.6 207.8L111 206.9L111.4 206.4L111.8 205.9L112.2 205L112.6 204.5L113 204L113.4 203.3L113.8 202.2L114.2 201.9L114.6 201L115 200.6L115.4 199.8L115.8 199.5L116.2 198.9L116.6 198.1L117 197.6L117.4 197.5L117.8 196.9L118.2 196.3L118.6 196.1L119 195.6L119.4 195.2L119.8 194.8L120.2 193.7L120.6 193.6L121 193.3L121.4 192.5L121.8 192.6L122.2 192.3L122.6 192L123 191.5L123.4 191.4L123.8 190.9L124.2 190.2L124.6 190.4L125 189.7L125.4 189.7L125.8 189.5L126.2 189.2L126.6 189L127 188.7L127.4 188.2L127.8 188.1L128.2 187.8L128.6 187.5L129 187.5L129.4 187.2L129.8 186.8L130.2 187L130.6 186.6L131 186.1L131.4 186.1L131.8 186.1L132.2 185.8L132.6 185.4L133 185.2L133.4 184.9L133.8 184.8L134.2 184.8L134.6 184L135 183.9L135.4 184.2L135.8 184.2L136.2 183.7L136.6 183.7L137 183.7L137.4 183.7L137.8 183.4L138.2 183.4L138.6 182.9L139 183.1L139.4 182.6L139.8 182.4L140.2 182.6L140.6 182.6L141 182.9L141.4 182.6L141.8 182.5L142.2 182.6L142.6 182.6L143 182.6L143.4 182.8L143.8 182.8L144.2 182.6L144.6 182.6L145 182.9L145.4 182.7L145.8 182.6L146.2 182.5L146.6 182.6L147 183L147.4 183L147.8 183.2L148.2 182.9L148.6 183.2L149 182.9L149.4 183.3L149.8 182.7L150.2 183.4L150.6 183.1L151 183.5L151.4 183.4L151.8 183.5L152.2 183.5L152.6 183.8L153 183.7L153.4 184L153.8 184.2L154.2 183.8L154.6 183.7L155 184.4L155.4 184.4L155.8 184.5L156.2 184.9L156.6 184.5L157 185.1L157.4 185.3L157.8 185.1L158.2 185.2L158.6 185.7L159 185.9L159.4 186.1L159.8 185.3L160.2 186.3L160.6 185.4L161 185.8L161.4 186.8L161.4 189.4L161 189.3L160.6 188.4L160.2 189.2L159.8 187.9L159.4 187.7L159 187.3L158.6 187.7L158.2 187.2L157.8 186.9L157.4 187L157 186.6L156.6 186.4L156.2 186.1L155.8 186L155.4 185.7L155 185.7L154.6 185.8L154.2 186L153.8 185.8L153.4 185.3L153 185.4L152.6 185.1L152.2 185L151.8 185.1L151.4 185.2L151 185L150.6 185.1L150.2 184.5L149.8 184.4L149.4 184.3L149 184.5L148.6 184.8L148.2 184.3L147.8 184.3L147.4 184.2L147 184.1L146.6 184.3L146.2 184.3L145.8 183.9L145.4 183.8L145 184.5L144.6 184.1L144.2 183.8L143.8 184.3L143.4 184.2L143 183.9L142.6 184.1L142.2 183.8L141.8 184.2L141.4 183.7L141 184.1L140.6 183.9L140.2 184.1L139.8 184L139.4 184.6L139 184.2L138.6 184.3L138.2 184.9L137.8 184.6L137.4 184.5L137 184.6L136.6 184.8L136.2 185.4L135.8 185.4L135.4 185.6L135 185.4L134.6 185.4L134.2 185.9L133.8 186L133.4 186.2L133 186.5L132.6 186.6L132.2 186.9L131.8 187L131.4 187.2L131 187.8L130.6 187.8L130.2 187.9L129.8 188.3L129.4 188.3L129 188.5L128.6 188.8L128.2 189.2L127.8 189.3L127.4 189.4L127 189.8L126.6 190L126.2 190.6L125.8 190.6L125.4 190.8L125 191.1L124.6 191.5L124.2 191.8L123.8 192.5L123.4 192.3L123 192.9L122.6 193.3L122.2 194L121.8 194.4L121.4 194.2L121 194.5L120.6 194.8L120.2 195.5L119.8 195.7L119.4 196.4L119 197L118.6 197.3L118.2 197.8L117.8 198.1L117.4 198.7L117 198.9L116.6 199.5L116.2 200.4L115.8 200.5L115.4 201L115 201.9L114.6 202.6L114.2 202.9L113.8 203.6L113.4 204.6L113 205.2L112.6 205.8L112.2 206.3L111.8 206.9L111.4 207.8L111 208.2L110.6 208.9L110.2 209.8L109.8 210.5L109.4 211.5L109 211.6L108.6 212.5L108.2 213.4L107.8 213.9L107.4 214.7L107 215.6L106.6 216.2L106.2 216.6L105.8 217.4L105.4 217.7L105 218.5L104.6 219L104.2 219.8L103.8 220.4L103.4 221.5L103 222L102.6 222.5L102.2 223.3L101.8 223.8L101.4 224.8L101 225.2L100.6 226.2L100.2 227.4L99.8 227.2L99.4 227.8L99 228.9L98.6 229.5L98.2 229.9L97.8 230.6L97.4 231.1L97 231.8L96.6 232.8L96.2 233.3L95.8 233.9L95.4 234.6L95 236L94.6 235.8L94.2 236.4L93.8 237.2L93.4 238L93 238.9L92.6 239.3L92.2 240.2L91.8 241.2L91.4 241.4L91 242.1L90.6 243.1L90.2 243.2L89.8 244.1L89.4 244.8L89 245.9L88.6 247.1L88.2 246.9L87.8 249.5L87.4 248.6L87 249.2L86.6 249.6L86.2 250.7L85.8 252.4L85.4 251.8L85 252.7L84.6 254.7L84.2 255.2L83.8 255L83.4 256.5L83 256.8L82.6 259.1L82.2 258.6L81.8 262.1L81.4 260.7L81 261.3L80.6 261.4L80.2 262.7L79.8 263.9L79.4 263.9L79 265.2L78.6 265.1L78.2 266.7Z"/>
<path d="M78.2 264.3L78.6 263.4L79 264.8L79.4 264.1L79.8 263.9L80.2 261.9L80.6 261.7L81 260.4L81.4 260.8L81.8 259.7L82.2 259.4L82.6 258.2L83 257.6L83.4 256.9L83.8 256L84.2 254.4L84.6 254.1L85 254.1L85.4 253.2L85.8 252.7L86.2 250.7L86.6 251L87 250.3L87.4 250.1L87.8 248.5L88.2 248.8L88.6 247.8L89 247.1L89.4 246.7L89.8 245.6L90.2 245.1L90.6 243.8L91 242.6L91.4 242.7L91.8 242.4L92.2 241.1L92.6 240.9L93 239.9L93.4 239.9L93.8 238.8L94.2 238.3L94.6 237.8L95 237.2L95.4 236.4L95.8 234.8L96.2 235.3L96.6 234.2L97 233.6L97.4 233L97.8 232.2L98.2 231.2L98.6 231L99 230.3L99.4 229.6L99.8 229.4L100.2 228.6L100.6 226.7L101 227.1L101.4 225.9L101.8 225.2L102.2 225L102.6 224.4L103 223.6L103.4 222.5L103.8 221.8L104.2 221.8L104.6 220.8L105 219.9L105.4 219.8L105.8 218.4L106.2 217.9L106.6 217.6L107 216.1L107.4 216.4L107.8 215.6L108.2 215L108.6 214.4L109 212.6L109.4 213L109.8 212.1L110.2 211.7L110.6 211L111 210.4L111.4 209.8L111.8 208.9L112.2 208.5L112.6 207.5L113 207.2L113.4 206.5L113.8 205.9L114.2 205L114.6 204.6L115 203.9L115.4 203.6L115.8 202.4L116.2 202L116.6 202.1L117 201.3L117.4 200.9L117.8 200.2L118.2 200L118.6 199.7L119 199.2L119.4 198.9L119.8 198.4L120.2 197.9L120.6 197.6L121 197L121.4 197L121.8 196.3L122.2 195.6L122.6 195.7L123 195.1L123.4 194.7L123.8 194.9L124.2 194.7L124.6 194L125 194L125.4 193.6L125.8 193.1L126.2 193.1L126.6 192.9L127 192.7L127.4 192.2L127.8 192.1L128.2 191.6L128.6 191.3L129 191.6L129.4 191L129.8 190.7L130.2 190.5L130.6 190.5L131 189.7L131.4 189.9L131.8 189.9L132.2 189.4L132.6 188.8L133 189L133.4 189.1L133.8 189L134.2 188.4L134.6 188.5L135 188L135.4 187.9L135.8 188L136.2 187.6L136.6 187.4L137 187.3L137.4 187.4L137.8 187.5L138.2 187.5L138.6 187.1L139 187L139.4 187.1L139.8 187L140.2 187L140.6 186.7L141 186.7L141.4 186.7L141.8 186.1L142.2 186.1L142.6 186.5L143 186.8L143.4 186.8L143.8 186.7L144.2 186.5L144.6 186.8L145 186.9L145.4 186.8L145.8 186.5L146.2 186.9L146.6 186.9L147 186.9L147.4 187.1L147.8 186.4L148.2 187.1L148.6 187.2L149 186.8L149.4 186.6L149.8 187.2L150.2 187.1L150.6 187.3L151 187.4L151.4 187.3L151.8 187.5L152.2 187.1L152.6 187.8L153 187.8L153.4 187.7L153.8 187.9L154.2 188L154.6 187.9L155 187.9L155.4 188.2L155.8 188.2L156.2 188.6L156.6 188.6L157 188.6L157.4 189L157.8 189.3L158.2 189.4L158.6 188.3L159 189.8L159.4 189.8L159.8 189.9L160.2 190.2L160.6 190.2L161 189.6L161.4 188.9L161.4 194.1L161 192.5L160.6 192.3L160.2 191.8L159.8 192.9L159.4 192.1L159 191.3L158.6 191.1L158.2 190.9L157.8 190.9L157.4 191L157 190.3L156.6 190.4L156.2 189.9L155.8 190.8L155.4 189.8L155 189.6L154.6 190.2L154.2 190L153.8 189.6L153.4 189.2L153 189.1L152.6 188.9L152.2 189.1L151.8 189L151.4 189.3L151 188.5L150.6 188.9L150.2 188.5L149.8 188.5L149.4 188.3L149 188.7L148.6 188.3L148.2 188.2L147.8 188.2L147.4 188.3L147 188.8L146.6 188.4L146.2 188.1L145.8 188.1L145.4 188.4L145 188L144.6 188.2L144.2 187.9L143.8 188.4L143.4 187.9L143 188.5L142.6 187.7L142.2 188.2L141.8 187.7L141.4 187.9L141 188.4L140.6 188.2L140.2 188.6L139.8 188L139.4 188.3L139 188.6L138.6 188.6L138.2 188.4L137.8 188.5L137.4 188.6L137 188.9L136.6 188.7L136.2 189L135.8 189.8L135.4 189.5L135 189.7L134.6 189.6L134.2 189.8L133.8 190L133.4 190.2L133 191L132.6 190.7L132.2 191.2L131.8 191.4L131.4 191.2L131 191.8L130.6 191.7L130.2 192.4L129.8 192.5L129.4 192.9L129 193.2L128.6 193.2L128.2 192.9L127.8 193.3L127.4 193.6L127 193.7L126.6 193.9L126.2 194.1L125.8 194.6L125.4 195.1L125 195L124.6 195.4L124.2 195.6L123.8 195.8L123.4 196.2L123 196.6L122.6 196.9L122.2 197.5L121.8 197.8L121.4 198.1L121 198.6L120.6 199.2L120.2 199.3L119.8 199.4L119.4 199.9L119 200.3L118.6 200.7L118.2 201.3L117.8 201.7L117.4 202.1L117 202.7L116.6 203.1L116.2 203.9L115.8 204L115.4 204.6L115 205.2L114.6 206.1L114.2 206.6L113.8 207.2L113.4 208.2L113 208.4L112.6 209.4L112.2 210L111.8 210.1L111.4 211.3L111 211.6L110.6 212.1L110.2 213.2L109.8 213.6L109.4 214.3L109 214.9L108.6 215.9L108.2 216L107.8 216.9L107.4 217.3L107 218.1L106.6 219L106.2 219.6L105.8 220.4L105.4 220.8L105 221.8L104.6 222.5L104.2 222.8L103.8 223.7L103.4 224.2L103 225.3L102.6 225.7L102.2 226.5L101.8 227.6L101.4 228L101 228.4L100.6 230L100.2 230.1L99.8 230.5L99.4 231.2L99 231.9L98.6 233.3L98.2 234.2L97.8 234.1L97.4 235L97 236.2L96.6 235.8L96.2 237.3L95.8 237.7L95.4 237.7L95 238.7L94.6 239.5L94.2 240.6L93.8 240.9L93.4 241.2L93 242.1L92.6 242.9L92.2 243.5L91.8 244L91.4 245L91 245.5L90.6 246.2L90.2 247.5L89.8 248.2L89.4 248.4L89 249.5L88.6 250.2L88.2 251.4L87.8 251.9L87.4 252.1L87 252.7L86.6 254.5L86.2 254.2L85.8 256.3L85.4 256L85 257L84.6 257.2L84.2 258.3L83.8 259.4L83.4 259.6L83 260.5L82.6 263.4L82.2 262.2L81.8 263.8L81.4 265L81 265.2L80.6 265.7L80.2 268L79.8 268.2L79.4 267.6L79 268.5L78.6 271L78.2 269.9Z"/>
<path d="M78.2 269L78.6 268.4L79 268.6L79.4 267.6L79.8 265.7L80.2 266.4L80.6 264.3L81 264.6L81.4 264.5L81.8 264L82.2 263.2L82.6 262.4L83 259.8L83.4 260.5L83.8 259.1L84.2 258.9L84.6 258.1L85 257.7L85.4 256.7L85.8 255.8L86.2 254.4L86.6 254.9L87 254L87.4 253.4L87.8 252.7L88.2 251.2L88.6 251.1L89 250L89.4 248.1L89.8 249.1L90.2 248L90.6 246.8L91 247.2L91.4 245.6L91.8 245.4L92.2 244.8L92.6 243.4L93 243.4L93.4 242.4L93.8 241.6L94.2 241.2L94.6 240.4L95 238.9L95.4 239L95.8 238.9L96.2 237.6L96.6 237L97 236.8L97.4 236L97.8 235.7L98.2 235L98.6 234.3L99 232.9L99.4 232.6L99.8 231.9L100.2 231.4L100.6 230.8L101 230L101.4 228.7L101.8 228.5L102.2 227.9L102.6 227L103 225.9L103.4 225.5L103.8 225L104.2 224.3L104.6 223.6L105 222.7L105.4 222.1L105.8 221.5L106.2 220.7L106.6 220.2L107 219.6L107.4 218.8L107.8 217.7L108.2 217.2L108.6 216.5L109 216L109.4 215.6L109.8 214.6L110.2 214.3L110.6 213.4L111 212.7L111.4 212.4L111.8 211.8L112.2 211.2L112.6 210.3L113 209.8L113.4 209.4L113.8 208.4L114.2 208.2L114.6 207.7L115 206.5L115.4 206.5L115.8 206.1L116.2 205.2L116.6 205.1L117 204.6L117.4 204.1L117.8 203.2L118.2 202.9L118.6 202.7L119 202.4L119.4 201.7L119.8 201.5L120.2 200.8L120.6 200.7L121 200.2L121.4 200L121.8 199.3L122.2 198.7L122.6 199L123 198.6L123.4 198.4L123.8 198L124.2 197.8L124.6 197.6L125 197.2L125.4 197L125.8 196.6L126.2 196.2L126.6 196L127 195.8L127.4 194.8L127.8 195.3L128.2 195.3L128.6 195L129 194.4L129.4 194.2L129.8 194.3L130.2 194.1L130.6 193.9L131 193.7L131.4 193.3L131.8 193.2L132.2 193L132.6 192.5L133 192.5L133.4 192.5L133.8 192L134.2 191.7L134.6 191.6L135 191.2L135.4 191.3L135.8 191.2L136.2 191.3L136.6 190.8L137 191.1L137.4 190.7L137.8 190.9L138.2 190.1L138.6 190.2L139 190.4L139.4 190.5L139.8 190.4L140.2 190.3L140.6 190.2L141 189.9L141.4 190L141.8 189.9L142.2 189.7L142.6 189.8L143 190L143.4 190.1L143.8 189.8L144.2 190.1L144.6 189.9L145 190.3L145.4 190L145.8 190.2L146.2 189.6L146.6 190.2L147 190L147.4 190.3L147.8 190.4L148.2 190.4L148.6 190.4L149 190.1L149.4 190.2L149.8 190.4L150.2 190.2L150.6 190.2L151 190.8L151.4 190.8L151.8 190.9L152.2 190.9L152.6 191.1L153 191.1L153.4 191.3L153.8 191L154.2 191L154.6 191.1L155 191.6L155.4 191.8L155.8 191.3L156.2 191.8L156.6 191.8L157 192.2L157.4 192.1L157.8 192L158.2 192.7L158.6 192.3L159 192.9L159.4 192.3L159.8 193.1L160.2 193.3L160.6 193.2L161 193.2L161.4 193.6L161.4 196.8L161 195.8L160.6 195.9L160.2 195.3L159.8 195L159.4 194.7L159 194.5L158.6 194.5L158.2 194L157.8 194L157.4 194.6L157 193.6L156.6 193.7L156.2 193.3L155.8 193.1L155.4 193.1L155 193.4L154.6 193.1L154.2 192.8L153.8 192.4L153.4 192.8L153 192.7L152.6 192.6L152.2 192.2L151.8 192.1L151.4 191.9L151 191.8L150.6 192.5L150.2 192.2L149.8 191.9L149.4 191.7L149 192.1L148.6 192L148.2 191.6L147.8 191.6L147.4 192.1L147 191.8L146.6 191.2L146.2 191.4L145.8 191.5L145.4 191.4L145 191.2L144.6 191.4L144.2 191.3L143.8 191.4L143.4 191.1L143 191L142.6 191.1L142.2 191.2L141.8 191.1L141.4 191.4L141 191.3L140.6 191.3L140.2 191.3L139.8 191.2L139.4 191.6L139 191.5L138.6 191.5L138.2 191.9L137.8 191.7L137.4 191.9L137 192L136.6 192.6L136.2 192.8L135.8 192.5L135.4 192.5L135 192.5L134.6 192.7L134.2 192.9L133.8 193.1L133.4 193.8L133 193.7L132.6 193.8L132.2 194L131.8 194.6L131.4 194.7L131 194.7L130.6 194.8L130.2 195.3L129.8 195.4L129.4 195.8L129 195.9L128.6 196.4L128.2 196.1L127.8 197.2L127.4 197L127 196.8L126.6 197.2L126.2 197.3L125.8 197.6L125.4 197.8L125 198.3L124.6 198.6L124.2 199L123.8 198.9L123.4 199.4L123 199.7L122.6 200.1L122.2 200.2L121.8 200.6L121.4 200.9L121 201.3L120.6 201.7L120.2 202.3L119.8 202.6L119.4 203.3L119 203.2L118.6 203.7L118.2 204.4L117.8 204.5L117.4 205.3L117 205.4L116.6 206.2L116.2 206.4L115.8 207.1L115.4 208.3L115 208.3L114.6 208.9L114.2 209.5L113.8 209.7L113.4 210.7L113 211.4L112.6 211.8L112.2 212.2L111.8 212.8L111.4 213.4L111 214.7L110.6 214.6L110.2 215.4L109.8 216.4L109.4 216.6L109 217.4L108.6 218.1L108.2 218.6L107.8 219.1L107.4 219.9L107 220.5L106.6 221.2L106.2 222.2L105.8 222.5L105.4 223.2L105 224.1L104.6 224.9L104.2 225.6L103.8 225.9L103.4 227.4L103 227.4L102.6 228.2L102.2 229.1L101.8 229.9L101.4 230.6L101 231.5L100.6 231.9L100.2 233.3L99.8 233.4L99.4 234.2L99 234.9L98.6 235.5L98.2 236.8L97.8 237L97.4 237.9L97 238.1L96.6 238.8L96.2 239.4L95.8 240.3L95.4 240.6L95 241.4L94.6 242.5L94.2 243.1L93.8 244.1L93.4 245L93 245.5L92.6 246.3L92.2 247L91.8 248.3L91.4 248L91 249L90.6 249.8L90.2 250L89.8 251.6L89.4 251.7L89 252.8L88.6 253.2L88.2 254.1L87.8 254.5L87.4 256.3L87 256.4L86.6 257.1L86.2 258.1L85.8 258.3L85.4 260.2L85 259.9L84.6 261.2L84.2 261.6L83.8 262.9L83.4 263.9L83 264.1L82.6 264.7L82.2 267.7L81.8 267.8L81.4 267.2L81 268L80.6 268.9L80.2 269.6L79.8 271L79.4 272L79 271.6L78.6 272.2L78.2 274Z"/>
<path d="M78.2 272.4L78.6 269.5L79 268.3L79.4 268.4L79.8 268.8L80.2 269.5L80.6 268.3L81 266.8L81.4 267.7L81.8 266.4L82.2 265.4L82.6 264.3L83 263.8L83.4 264.1L83.8 261.2L84.2 261.8L84.6 261.3L85 260.6L85.4 259.9L85.8 258.9L86.2 258.9L86.6 257L87 255.1L87.4 256.4L87.8 255.7L88.2 254L88.6 253.5L89 253.3L89.4 252.4L89.8 252.1L90.2 251.5L90.6 250.9L91 250.2L91.4 249.1L91.8 248.9L92.2 247.6L92.6 247.5L93 245.2L93.4 245.8L93.8 245.5L94.2 244.1L94.6 243.2L95 242.2L95.4 241.6L95.8 241.7L96.2 240.6L96.6 240.9L97 239.5L97.4 239.7L97.8 239L98.2 238.2L98.6 237.2L99 236.5L99.4 236.1L99.8 235.2L100.2 234.7L100.6 233.6L101 232.8L101.4 232.2L101.8 231.5L102.2 230.6L102.6 229.6L103 229L103.4 228.1L103.8 228.2L104.2 227.1L104.6 225.9L105 226.2L105.4 225.4L105.8 224.1L106.2 223L106.6 223.4L107 222.4L107.4 221.7L107.8 221.3L108.2 220.4L108.6 219.5L109 219.4L109.4 219L109.8 218.2L110.2 217.7L110.6 216.8L111 216.2L111.4 215.4L111.8 215.2L112.2 214.1L112.6 214.2L113 212.9L113.4 212.8L113.8 212L114.2 210.9L114.6 211.3L115 210.4L115.4 210.1L115.8 208.8L116.2 209.1L116.6 208.3L117 208.2L117.4 207.4L117.8 206.9L118.2 206.9L118.6 206.8L119 206.2L119.4 205.9L119.8 205.4L120.2 204.4L120.6 204.6L121 204.3L121.4 203.8L121.8 203.3L122.2 203.5L122.6 202.9L123 202.7L123.4 202.5L123.8 201.9L124.2 201.9L124.6 201.5L125 200.7L125.4 200.8L125.8 200.8L126.2 199.4L126.6 200L127 199.8L127.4 200L127.8 199.7L128.2 199.3L128.6 199.4L129 198.5L129.4 198.8L129.8 198.4L130.2 197.8L130.6 198.3L131 198L131.4 197.7L131.8 197.2L132.2 197.3L132.6 196.9L133 196.9L133.4 196.4L133.8 196.3L134.2 195.8L134.6 196.1L135 196L135.4 195.6L135.8 195.9L136.2 195.5L136.6 195.4L137 195L137.4 195L137.8 195L138.2 195L138.6 194.6L139 194.4L139.4 194.9L139.8 194.6L140.2 194.1L140.6 194.6L141 194.5L141.4 194.3L141.8 194.6L142.2 194.4L142.6 193.9L143 194.3L143.4 193.8L143.8 194.1L144.2 194.3L144.6 194.7L145 194.1L145.4 194.4L145.8 194.7L146.2 194.5L146.6 194.8L147 194.5L147.4 194.3L147.8 194.6L148.2 194.3L148.6 194.8L149 194.8L149.4 194.3L149.8 194.6L150.2 194.9L150.6 194.5L151 194.6L151.4 195.2L151.8 195.1L152.2 194.5L152.6 195.4L153 195L153.4 195.5L153.8 195.5L154.2 195.5L154.6 195.2L155 196L155.4 195.8L155.8 195.8L156.2 195.8L156.6 196.4L157 196.5L157.4 196.6L157.8 196.8L158.2 196.9L158.6 196.4L159 196.7L159.4 197L159.8 196.6L160.2 196.4L160.6 196.9L161 196.7L161.4 197.1L161.4 200.5L161 200.2L160.6 200.7L160.2 200.2L159.8 200.7L159.4 199.6L159 199.4L158.6 199L158.2 198.7L157.8 199.2L157.4 198.4L157 198.9L156.6 198.3L156.2 198.8L155.8 198.8L155.4 198.1L155 198L154.6 198.1L154.2 198L153.8 197.1L153.4 197.6L153 197.2L152.6 197.1L152.2 197.1L151.8 197.3L151.4 196.6L151 197.3L150.6 196.5L150.2 196.5L149.8 196.9L149.4 196.3L149 196.5L148.6 196.5L148.2 196.2L147.8 196.6L147.4 196.2L147 196.5L146.6 196.3L146.2 196.6L145.8 196.1L145.4 196.5L145 196.3L144.6 196.1L144.2 196.1L143.8 195.9L143.4 195.8L143 196.1L142.6 196.4L142.2 195.8L141.8 196.9L141.4 196L141 195.9L140.6 196L140.2 196.8L139.8 196.9L139.4 196.3L139 196.4L138.6 196.7L138.2 196.6L137.8 196.5L137.4 197.1L137 197.6L136.6 196.8L136.2 197.1L135.8 197.6L135.4 197.3L135 197.5L134.6 197.5L134.2 199L133.8 197.9L133.4 198.6L133 198.8L132.6 198.4L132.2 199.4L131.8 199.1L131.4 199.6L131 199.4L130.6 199.4L130.2 199.9L129.8 199.9L129.4 200.1L129 200.3L128.6 200.6L128.2 201.2L127.8 201.4L127.4 201.2L127 201.7L126.6 201.7L126.2 202.3L125.8 202.2L125.4 203L125 203.9L124.6 203.9L124.2 203.2L123.8 204.3L123.4 204L123 204.3L122.6 204.8L122.2 204.9L121.8 205.1L121.4 205.8L121 205.9L120.6 206.4L120.2 207.1L119.8 207.5L119.4 207.8L119 208.2L118.6 208.1L118.2 209.3L117.8 208.8L117.4 209.3L117 209.8L116.6 210.5L116.2 210.8L115.8 211.1L115.4 211.8L115 212.1L114.6 213L114.2 213.2L113.8 214.1L113.4 214.6L113 215.5L112.6 215.4L112.2 216.4L111.8 216.8L111.4 217.4L111 217.9L110.6 218.7L110.2 219.2L109.8 219.6L109.4 221.3L109 220.9L108.6 221.6L108.2 222.4L107.8 222.9L107.4 223.6L107 224.4L106.6 224.9L106.2 225.6L105.8 227L105.4 227L105 227.7L104.6 228.2L104.2 229.4L103.8 229.8L103.4 231.2L103 231.1L102.6 231.9L102.2 232.9L101.8 233.5L101.4 234.2L101 235.1L100.6 236.7L100.2 236.4L99.8 237.9L99.4 238.1L99 238.8L98.6 239.4L98.2 240.5L97.8 241.1L97.4 241.2L97 242L96.6 243.6L96.2 243.4L95.8 245.2L95.4 244.8L95 245.2L94.6 246.7L94.2 247L93.8 248.1L93.4 248.9L93 249.4L92.6 249.8L92.2 250.8L91.8 252.2L91.4 251.7L91 252.8L90.6 253.8L90.2 254.6L89.8 254.8L89.4 255.5L89 256.5L88.6 257.1L88.2 258.6L87.8 259.7L87.4 259.7L87 260.4L86.6 262.4L86.2 261.8L85.8 262.2L85.4 264.9L85 264.1L84.6 264.7L84.2 265.5L83.8 267.2L83.4 268.8L83 268.1L82.6 269.1L82.2 270.9L81.8 271.4L81.4 272.7L81 272.3L80.6 273L80.2 274.4L79.8 276L79.4 277.9L79 277L78.6 277.2L78.2 277.2Z"/>
<path d="M78.2 270.4L78.6 270L79 273L79.4 269.9L79.8 272.8L80.2 272.3L80.6 264.3L81 270.9L81.4 267.4L81.8 267.8L82.2 268.7L82.6 267.9L83 265.1L83.4 267L83.8 266.3L84.2 265.1L84.6 262.7L85 263.2L85.4 263.2L85.8 262.3L86.2 261L86.6 261.2L87 260.8L87.4 260.1L87.8 258.7L88.2 258.8L88.6 258.1L89 255.8L89.4 255.6L89.8 255.8L90.2 253.6L90.6 254.5L91 253.3L91.4 252.4L91.8 251.9L92.2 251.2L92.6 250.3L93 249.7L93.4 249.7L93.8 246.3L94.2 246.2L94.6 247.6L95 246.8L95.4 245.5L95.8 245.4L96.2 243L96.6 243.5L97 243.1L97.4 243.4L97.8 241.7L98.2 241.2L98.6 241.1L99 240.1L99.4 239.4L99.8 238.9L100.2 238.2L100.6 237.5L101 237L101.4 236.2L101.8 235.1L102.2 234.3L102.6 233.9L103 233.2L103.4 232.6L103.8 231.3L104.2 230L104.6 230.2L105 229.4L105.4 229.1L105.8 227.7L106.2 226.3L106.6 225.8L107 226.5L107.4 225.1L107.8 225.3L108.2 223.2L108.6 223.8L109 222.7L109.4 222.6L109.8 221.4L110.2 220.8L110.6 221L111 220.4L111.4 218.6L111.8 219.3L112.2 218.1L112.6 218L113 217.4L113.4 216.7L113.8 216.5L114.2 215.2L114.6 215.5L115 215L115.4 214.5L115.8 214.3L116.2 213.8L116.6 213.2L117 212.7L117.4 212.3L117.8 212.1L118.2 211L118.6 211.5L119 210.2L119.4 210.8L119.8 210.4L120.2 209.4L120.6 209.2L121 208.2L121.4 208.2L121.8 207.9L122.2 207.6L122.6 208L123 207.8L123.4 207.2L123.8 207.3L124.2 206.2L124.6 206.5L125 206.2L125.4 205.8L125.8 205.8L126.2 205.5L126.6 204.4L127 204.7L127.4 205.1L127.8 204.7L128.2 204.2L128.6 204.3L129 204L129.4 203.1L129.8 203.2L130.2 202.9L130.6 203.3L131 202.9L131.4 202.7L131.8 202.6L132.2 202.3L132.6 202.1L133 201.5L133.4 202L133.8 201.3L134.2 201L134.6 200.8L135 200.9L135.4 200.6L135.8 201L136.2 200.9L136.6 200.4L137 200.3L137.4 199.7L137.8 199.6L138.2 199.8L138.6 200.3L139 200L139.4 199.9L139.8 199.1L140.2 199.2L140.6 199.2L141 199.3L141.4 199.4L141.8 199L142.2 198.9L142.6 199.6L143 199.6L143.4 199.6L143.8 199.8L144.2 199.1L144.6 199.2L145 199.5L145.4 199.4L145.8 199.5L146.2 198.9L146.6 198.4L147 199.3L147.4 199.8L147.8 199.3L148.2 199.7L148.6 200L149 199.4L149.4 199.1L149.8 200.2L150.2 200L150.6 199.5L151 199.6L151.4 199.8L151.8 200.3L152.2 200.3L152.6 200.3L153 200.5L153.4 200.6L153.8 199.7L154.2 200.7L154.6 200.2L155 201.1L155.4 200L155.8 200.8L156.2 201.4L156.6 201.2L157 201.3L157.4 201.5L157.8 201.1L158.2 201.7L158.6 201.1L159 201.1L159.4 201.3L159.8 201.4L160.2 202L160.6 202L161 201.3L161.4 200.8L161.4 206.8L161 206.3L160.6 207.5L160.2 206.2L159.8 205.9L159.4 205L159 205.3L158.6 204.5L158.2 205.5L157.8 204.4L157.4 204.5L157 205.2L156.6 203.8L156.2 203.6L155.8 204.1L155.4 203.7L155 203.5L154.6 203.2L154.2 203.8L153.8 203.5L153.4 203.7L153 203.6L152.6 202.8L152.2 203L151.8 202.4L151.4 202.6L151 204L150.6 203L150.2 202.2L149.8 203.3L149.4 201.9L149 201.9L148.6 202.8L148.2 202.1L147.8 202.2L147.4 201.7L147 201.9L146.6 202.4L146.2 202.2L145.8 201.7L145.4 202.3L145 202.3L144.6 202.4L144.2 202.2L143.8 202L143.4 202.1L143 201.8L142.6 201.5L142.2 202.1L141.8 202L141.4 201.7L141 201.7L140.6 202L140.2 201.8L139.8 201.8L139.4 202.1L139 201.9L138.6 202.5L138.2 202.6L137.8 202.3L137.4 202.9L137 203.1L136.6 202.7L136.2 203.2L135.8 203.9L135.4 204.1L135 203L134.6 203.5L134.2 203.1L133.8 203.6L133.4 203.7L133 203.7L132.6 204.2L132.2 204.6L131.8 204.3L131.4 205.2L131 205.4L130.6 205.6L130.2 205.6L129.8 206.5L129.4 205.6L129 206.6L128.6 207.6L128.2 207.1L127.8 206.4L127.4 207.9L127 207.2L126.6 207.6L126.2 208.4L125.8 207.9L125.4 207.8L125 208.6L124.6 208.3L124.2 208.8L123.8 209.8L123.4 210L123 209.5L122.6 209.8L122.2 210.6L121.8 210.4L121.4 210.8L121 211.1L120.6 212.2L120.2 212.7L119.8 212.5L119.4 212.6L119 212.8L118.6 213.9L118.2 214L117.8 214.5L117.4 214.7L117 215.6L116.6 215.3L116.2 215.6L115.8 216.4L115.4 216.5L115 217.2L114.6 218.4L114.2 218.2L113.8 219.1L113.4 219.9L113 220.2L112.6 220.5L112.2 220.9L111.8 221.1L111.4 221.7L111 222.3L110.6 222.9L110.2 224.3L109.8 223.9L109.4 224.6L109 225.6L108.6 226.1L108.2 226.4L107.8 227.4L107.4 228.3L107 228.6L106.6 229.4L106.2 230L105.8 231.1L105.4 232.1L105 231.7L104.6 234.2L104.2 233.6L103.8 234.3L103.4 235.1L103 235.4L102.6 236.2L102.2 237.2L101.8 237.5L101.4 238.8L101 240.1L100.6 240.5L100.2 240.7L99.8 241.5L99.4 242.3L99 244.1L98.6 244.5L98.2 245.5L97.8 245L97.4 245.9L97 247.3L96.6 247.3L96.2 249.4L95.8 248.2L95.4 249.7L95 250.3L94.6 250.6L94.2 252L93.8 251.5L93.4 252.7L93 254.1L92.6 253.6L92.2 256.6L91.8 255.4L91.4 256.4L91 257.5L90.6 258.4L90.2 258.3L89.8 259.1L89.4 259.9L89 261.3L88.6 262L88.2 262.6L87.8 264.7L87.4 266.7L87 264.7L86.6 265.2L86.2 265.9L85.8 268.7L85.4 267.4L85 268.9L84.6 269.3L84.2 270.2L83.8 271.3L83.4 273.5L83 272.4L82.6 273.9L82.2 276.3L81.8 276.1L81.4 276L81 277L80.6 278.6L80.2 278.9L79.8 281.2L79.4 280.9L79 281L78.6 285.3L78.2 281.7Z"/>
<path d="M78.2 276.4L78.6 274.7L79 272.9L79.4 276.8L79.8 274.8L80.2 273.1L80.6 271.6L81 272.5L81.4 273L81.8 271L82.2 271L82.6 269.2L83 268.9L83.4 268.7L83.8 268.8L84.2 265.2L84.6 267L85 266.3L85.4 264.5L85.8 265.7L86.2 265.2L86.6 263.5L87 263.7L87.4 263L87.8 262L88.2 262L88.6 261.1L89 259.7L89.4 259.7L89.8 258L90.2 256.5L90.6 256.4L91 256.9L91.4 255.1L91.8 255.6L92.2 254L92.6 252.6L93 252.8L93.4 252.7L93.8 251.8L94.2 251.1L94.6 249L95 249.8L95.4 249.1L95.8 248L96.2 248L96.6 246.2L97 245.9L97.4 246.2L97.8 244.3L98.2 244.5L98.6 243.5L99 243.7L99.4 241.7L99.8 242.2L100.2 241L100.6 240.5L101 239.9L101.4 239.3L101.8 237L102.2 237.3L102.6 235.9L103 235.5L103.4 234.4L103.8 234.8L104.2 233.1L104.6 232.8L105 231.8L105.4 231.7L105.8 231L106.2 230.4L106.6 230L107 228.5L107.4 228.1L107.8 227.4L108.2 227.3L108.6 226L109 226.3L109.4 225.2L109.8 225.4L110.2 224.5L110.6 223.8L111 223.1L111.4 222.8L111.8 222.6L112.2 221.3L112.6 221L113 220.7L113.4 220.1L113.8 219.7L114.2 218.4L114.6 218.9L115 218.5L115.4 217.5L115.8 217.2L116.2 217.3L116.6 215.9L117 216L117.4 215.8L117.8 215.9L118.2 214.6L118.6 214.4L119 214.5L119.4 214.2L119.8 213.8L120.2 213.2L120.6 212.7L121 212.4L121.4 212.7L121.8 212.3L122.2 211.5L122.6 211.4L123 211.2L123.4 211.3L123.8 210.4L124.2 210.4L124.6 209.5L125 209.9L125.4 209.5L125.8 209.6L126.2 208.8L126.6 209.1L127 208.7L127.4 208.9L127.8 208.5L128.2 207.7L128.6 207.6L129 208.1L129.4 207.6L129.8 206.5L130.2 207.5L130.6 207.1L131 207.1L131.4 206.2L131.8 206.1L132.2 205.7L132.6 205.9L133 205.1L133.4 204.5L133.8 205.6L134.2 205.4L134.6 205.3L135 204.7L135.4 204.9L135.8 204L136.2 204.9L136.6 204.5L137 204.2L137.4 203.9L137.8 204.1L138.2 204.3L138.6 204.2L139 204L139.4 204.1L139.8 203.1L140.2 202L140.6 203.5L141 202.9L141.4 202.8L141.8 203.3L142.2 203.6L142.6 203.2L143 203.4L143.4 203L143.8 203.7L144.2 203.6L144.6 203.6L145 203.5L145.4 203.1L145.8 203.5L146.2 203.3L146.6 203.6L147 203.3L147.4 203.1L147.8 203.8L148.2 202L148.6 203.2L149 203.6L149.4 203.7L149.8 204.1L150.2 202.9L150.6 203.1L151 203.9L151.4 204.2L151.8 204.1L152.2 204.3L152.6 203.5L153 204.5L153.4 203.4L153.8 204.5L154.2 203.8L154.6 204.5L155 204.6L155.4 204.7L155.8 205.2L156.2 204.8L156.6 203.9L157 204.6L157.4 205.1L157.8 205.4L158.2 205.6L158.6 204L159 205.6L159.4 205.9L159.8 205.4L160.2 205.3L160.6 206.1L161 204.1L161.4 202.9L161.4 210.9L161 211L160.6 211.2L160.2 209.8L159.8 209L159.4 210.4L159 208.6L158.6 209.3L158.2 209.3L157.8 208.8L157.4 208.6L157 208.3L156.6 208L156.2 207.6L155.8 208.2L155.4 208L155 208.6L154.6 207L154.2 207.6L153.8 208L153.4 207L153 206.9L152.6 206.5L152.2 206.3L151.8 206.5L151.4 206.5L151 206.8L150.6 206.6L150.2 206.8L149.8 207.6L149.4 205.9L149 206.2L148.6 206L148.2 207.3L147.8 207.1L147.4 206L147 206L146.6 205.9L146.2 206.5L145.8 205.8L145.4 205.9L145 206L144.6 205.9L144.2 206.2L143.8 206L143.4 205.5L143 205.9L142.6 205.9L142.2 205.6L141.8 205.8L141.4 205.8L141 205.6L140.6 206.1L140.2 205.8L139.8 206.1L139.4 207L139 206.2L138.6 206.5L138.2 206.8L137.8 206.3L137.4 206.7L137 206.5L136.6 206.9L136.2 206.7L135.8 206.7L135.4 207.3L135 207.4L134.6 207.3L134.2 208L133.8 207.8L133.4 207.5L133 207.9L132.6 209.8L132.2 208.5L131.8 208.7L131.4 208.7L131 209L130.6 209.7L130.2 209.4L129.8 210L129.4 209.7L129 209.8L128.6 210.1L128.2 210.2L127.8 210.7L127.4 210.9L127 210.8L126.6 211.2L126.2 212L125.8 211.7L125.4 212.2L125 212.7L124.6 212.8L124.2 213.2L123.8 212.9L123.4 213.3L123 213.6L122.6 213.5L122.2 214.2L121.8 214.4L121.4 214.4L121 215.1L120.6 215L120.2 215.3L119.8 216.6L119.4 216.6L119 216.4L118.6 217.7L118.2 218.1L117.8 217.7L117.4 218.3L117 218.3L116.6 220.1L116.2 219.8L115.8 219.8L115.4 220.3L115 220.4L114.6 221.4L114.2 221.3L113.8 222L113.4 223.1L113 223.3L112.6 223.7L112.2 224.2L111.8 225.5L111.4 226.5L111 225.4L110.6 227.7L110.2 226.8L109.8 227.4L109.4 228.1L109 228.9L108.6 229L108.2 229.5L107.8 230.2L107.4 230.7L107 231.5L106.6 232.2L106.2 232.9L105.8 233.9L105.4 234.4L105 235.6L104.6 235.7L104.2 236.2L103.8 237L103.4 237.5L103 239.1L102.6 238.9L102.2 241.5L101.8 240.7L101.4 241.2L101 242.5L100.6 242.9L100.2 244.3L99.8 244.9L99.4 245.2L99 246.2L98.6 246.8L98.2 248.4L97.8 248.3L97.4 249.6L97 249.3L96.6 251.1L96.2 250.9L95.8 252.2L95.4 251.8L95 252.6L94.6 254.6L94.2 253.8L93.8 254.5L93.4 256.2L93 257.7L92.6 256.7L92.2 257.6L91.8 258.3L91.4 261.4L91 260.4L90.6 262.6L90.2 261.7L89.8 262.2L89.4 263.4L89 263.7L88.6 265.9L88.2 266.4L87.8 266.8L87.4 267.4L87 268.7L86.6 270.6L86.2 269.2L85.8 271.2L85.4 271.9L85 271.7L84.6 272.1L84.2 273.7L83.8 274.4L83.4 277.2L83 275.3L82.6 280.7L82.2 277.1L81.8 279.9L81.4 280.8L81 282.1L80.6 281.5L80.2 282.2L79.8 281.8L79.4 282.5L79 285.7L78.6 284.4L78.2 287.9Z"/>
<path d="M78.2 280.6L78.6 280.8L79 279.6L79.4 278.9L79.8 276.1L80.2 277.4L80.6 276.7L81 274.6L81.4 275L81.8 273.8L82.2 274.1L82.6 274.3L83 273.3L83.4 272.5L83.8 271.3L84.2 270.9L84.6 270.6L85 270.1L85.4 268.3L85.8 268.7L86.2 268.1L86.6 266.7L87 265.8L87.4 265.8L87.8 264.4L88.2 264.4L88.6 263.1L89 262.5L89.4 262.4L89.8 261.3L90.2 260L90.6 259.6L91 259.6L91.4 258.4L91.8 257.4L92.2 255.6L92.6 255.8L93 254.3L93.4 254.8L93.8 254L94.2 252.8L94.6 253L95 252.3L95.4 251.7L95.8 250.9L96.2 250.6L96.6 249.9L97 249.5L97.4 248.6L97.8 247.5L98.2 247.7L98.6 246.9L99 245.9L99.4 245L99.8 243.8L100.2 243.7L100.6 242.5L101 241.9L101.4 241.2L101.8 240.7L102.2 239.6L102.6 238.1L103 238.1L103.4 237.1L103.8 236.7L104.2 236.1L104.6 235L105 234.4L105.4 233.1L105.8 233.5L106.2 232.6L106.6 232L107 231.3L107.4 230.1L107.8 230.2L108.2 229.5L108.6 229.1L109 228.5L109.4 228L109.8 227.1L110.2 225.5L110.6 226.1L111 225.3L111.4 225.3L111.8 223.6L112.2 224.4L112.6 222.8L113 222.3L113.4 222.8L113.8 221.8L114.2 221.6L114.6 221.1L115 220.8L115.4 220.7L115.8 219.6L116.2 219.5L116.6 218.8L117 218.4L117.4 218.7L117.8 217.8L118.2 217L118.6 216.7L119 216.5L119.4 216.2L119.8 215.7L120.2 216.2L120.6 215.8L121 215.6L121.4 215.2L121.8 214.2L122.2 214.6L122.6 213.4L123 213L123.4 213.4L123.8 213.1L124.2 213.2L124.6 212.7L125 212.9L125.4 212.5L125.8 212.4L126.2 211.9L126.6 211.6L127 211.4L127.4 211.6L127.8 210.2L128.2 210.8L128.6 210.6L129 210.8L129.4 210.2L129.8 209.7L130.2 210.2L130.6 209.5L131 209.6L131.4 209.1L131.8 208.7L132.2 208.5L132.6 208.6L133 208.7L133.4 207.9L133.8 207.5L134.2 207.9L134.6 208L135 206.9L135.4 207L135.8 207.2L136.2 207.5L136.6 207.4L137 207.2L137.4 206.4L137.8 206.7L138.2 207L138.6 206.9L139 206.1L139.4 206.5L139.8 206.7L140.2 206.5L140.6 206.3L141 206.5L141.4 206.1L141.8 206.5L142.2 205.7L142.6 206.1L143 206.4L143.4 205.7L143.8 206.4L144.2 206.1L144.6 205.7L145 206.1L145.4 206.3L145.8 205.5L146.2 205.7L146.6 206.2L147 206.2L147.4 205.8L147.8 206.7L148.2 206.5L148.6 206.4L149 206.6L149.4 205.8L149.8 205.9L150.2 206.2L150.6 206.5L151 206.6L151.4 206L151.8 206.5L152.2 206.5L152.6 207L153 206.6L153.4 207L153.8 206.2L154.2 206.6L154.6 207.6L155 207.2L155.4 207.1L155.8 207.5L156.2 206.9L156.6 207.1L157 207.7L157.4 206.9L157.8 207.8L158.2 208.4L158.6 206.6L159 208.6L159.4 208.4L159.8 208.2L160.2 208L160.6 207.2L161 208.2L161.4 208.8L161.4 213.4L161 213.1L160.6 213.2L160.2 213L159.8 212.6L159.4 211.7L159 212.1L158.6 212.3L158.2 211.6L157.8 210.8L157.4 211L157 210.9L156.6 210.6L156.2 210L155.8 210.2L155.4 210.4L155 211L154.6 209.5L154.2 209.4L153.8 209.2L153.4 209.1L153 209.2L152.6 208.9L152.2 209.5L151.8 209L151.4 209.1L151 209.1L150.6 208.9L150.2 208.5L149.8 208.8L149.4 209.1L149 208.7L148.6 208.9L148.2 208.9L147.8 208.8L147.4 208.9L147 208.9L146.6 208.5L146.2 208.1L145.8 209.3L145.4 208.6L145 208.5L144.6 208L144.2 209.2L143.8 208.2L143.4 208.6L143 208.1L142.6 208.2L142.2 208.1L141.8 209.8L141.4 208.9L141 208.5L140.6 208.1L140.2 208.6L139.8 208.2L139.4 208.5L139 208.9L138.6 209.2L138.2 208.8L137.8 209.3L137.4 209L137 209.5L136.6 209.1L136.2 209L135.8 209.5L135.4 210.5L135 210.2L134.6 210.2L134.2 210.2L133.8 211.1L133.4 210.7L133 210.8L132.6 210.6L132.2 211.2L131.8 211.8L131.4 211.4L131 211.6L130.6 211.9L130.2 211.8L129.8 211.9L129.4 212.4L129 212.3L128.6 212.6L128.2 212.8L127.8 212.9L127.4 213.2L127 213.6L126.6 214L126.2 214.4L125.8 214.8L125.4 214.3L125 214.8L124.6 215.1L124.2 216.2L123.8 215.3L123.4 215.6L123 216L122.6 216.5L122.2 216.5L121.8 217.2L121.4 216.9L121 217.8L120.6 217.7L120.2 218.1L119.8 218.2L119.4 218.9L119 219.5L118.6 219.3L118.2 219.7L117.8 220.6L117.4 220.2L117 221.4L116.6 221L116.2 222.3L115.8 222.8L115.4 222.9L115 223.1L114.6 223.1L114.2 223.6L113.8 223.9L113.4 225.3L113 226.2L112.6 225.4L112.2 226.8L111.8 227L111.4 226.9L111 228.1L110.6 228.6L110.2 230L109.8 229.1L109.4 230L109 230.2L108.6 231.4L108.2 232.5L107.8 232.4L107.4 233.9L107 233.4L106.6 234.1L106.2 235.3L105.8 235.6L105.4 235.9L105 236.7L104.6 237.8L104.2 238.4L103.8 238.5L103.4 239.9L103 240.1L102.6 240.7L102.2 241.5L101.8 243L101.4 245L101 244.1L100.6 245L100.2 246.4L99.8 247.3L99.4 247.3L99 248.1L98.6 249.5L98.2 249.8L97.8 252.1L97.4 251L97 253.6L96.6 253.1L96.2 252.9L95.8 254.2L95.4 253.8L95 254.9L94.6 255.7L94.2 256.1L93.8 257.3L93.4 258.3L93 259.8L92.6 260.1L92.2 260.5L91.8 261.4L91.4 262.2L91 262.5L90.6 263.7L90.2 264.5L89.8 265.5L89.4 265.2L89 266.2L88.6 267.6L88.2 267.8L87.8 268.9L87.4 269.7L87 270.6L86.6 271.1L86.2 272L85.8 273.1L85.4 273.4L85 274.4L84.6 275.7L84.2 277.1L83.8 278.3L83.4 277.9L83 278.2L82.6 278.5L82.2 279.5L81.8 282.1L81.4 281.3L81 282.7L80.6 285.6L80.2 284.2L79.8 284.8L79.4 288.4L79 287.6L78.6 288.1L78.2 288Z"/>
<path d="M78.2 284.1L78.6 282.4L79 280.5L79.4 279.5L79.8 279.6L80.2 279.3L80.6 280.2L81 278.2L81.4 278.9L81.8 276.5L82.2 276.1L82.6 275.7L83 274.2L83.4 274.5L83.8 275.2L84.2 272.7L84.6 272.8L85 271.1L85.4 271.2L85.8 269.3L86.2 270.5L86.6 269.2L87 269.2L87.4 268.3L87.8 266.7L88.2 267L88.6 267L89 265.5L89.4 265.7L89.8 263.7L90.2 264L90.6 262.8L91 261.3L91.4 261.9L91.8 260.3L92.2 260.4L92.6 259.3L93 258.6L93.4 257.6L93.8 256.4L94.2 257L94.6 255.5L95 255.3L95.4 254.1L95.8 254.2L96.2 252.8L96.6 253.1L97 251.4L97.4 252.2L97.8 251.3L98.2 249.5L98.6 250.5L99 249.8L99.4 248.5L99.8 248L100.2 247L100.6 246L101 245.8L101.4 244.4L101.8 243.2L102.2 242.6L102.6 242.7L103 241.4L103.4 240.1L103.8 239.2L104.2 238.2L104.6 238L105 237.5L105.4 237.8L105.8 235.5L106.2 235.1L106.6 235L107 234.4L107.4 234.6L107.8 233.8L108.2 233.6L108.6 232.4L109 232.4L109.4 230.9L109.8 231.2L110.2 230.8L110.6 229.5L111 228.5L111.4 229L111.8 228.7L112.2 228.1L112.6 227.6L113 227.3L113.4 226.7L113.8 225.6L114.2 225L114.6 225.4L115 225.4L115.4 224.2L115.8 224.4L116.2 224.2L116.6 223.5L117 223.1L117.4 223.2L117.8 222.9L118.2 221.3L118.6 222L119 221.6L119.4 220.5L119.8 220.9L120.2 220.8L120.6 219.3L121 220.1L121.4 219.5L121.8 219.1L122.2 218.4L122.6 218.4L123 217.9L123.4 218.7L123.8 218.4L124.2 218L124.6 217.8L125 217.6L125.4 216L125.8 217L126.2 217.1L126.6 216.3L127 216.7L127.4 215L127.8 216.1L128.2 215.9L128.6 214.8L129 215.3L129.4 215.5L129.8 215L130.2 215.1L130.6 214.5L131 214.4L131.4 214.1L131.8 214.3L132.2 214.1L132.6 213.8L133 213.8L133.4 213.2L133.8 213L134.2 213.3L134.6 212.5L135 212.7L135.4 212.8L135.8 212.2L136.2 212.3L136.6 212.3L137 212.4L137.4 212.3L137.8 212.1L138.2 211.6L138.6 211.1L139 211.3L139.4 211.8L139.8 211.1L140.2 211.5L140.6 211.5L141 211.6L141.4 209.8L141.8 210.9L142.2 210.8L142.6 211.3L143 211.2L143.4 210L143.8 211.3L144.2 210.8L144.6 210.7L145 211.2L145.4 210.5L145.8 211.5L146.2 211.3L146.6 211.3L147 209.8L147.4 211.5L147.8 211.7L148.2 210.8L148.6 211.5L149 211.9L149.4 211.3L149.8 211.9L150.2 211.7L150.6 211.6L151 212L151.4 211.6L151.8 211.9L152.2 212.1L152.6 211.9L153 211.5L153.4 211.8L153.8 212.3L154.2 211.6L154.6 212.2L155 211.6L155.4 212.6L155.8 212.8L156.2 212.5L156.6 212.3L157 212.5L157.4 211.3L157.8 213.1L158.2 213.2L158.6 212.5L159 213.1L159.4 212.4L159.8 212.3L160.2 212.5L160.6 209.3L161 213.8L161.4 213.5L161.4 218.6L161 218.4L160.6 217.6L160.2 217L159.8 216.7L159.4 216.4L159 216.3L158.6 217.2L158.2 217.6L157.8 216.5L157.4 216.1L157 215.4L156.6 216.1L156.2 216.1L155.8 215.4L155.4 215.9L155 214.8L154.6 214.6L154.2 214.8L153.8 216.3L153.4 215.2L153 214.6L152.6 214.4L152.2 214.6L151.8 214.2L151.4 214.5L151 214.1L150.6 215L150.2 213.9L149.8 214.1L149.4 213.9L149 213.8L148.6 213.7L148.2 214L147.8 213.8L147.4 213.9L147 213.7L146.6 214.5L146.2 214.9L145.8 213.5L145.4 213.8L145 214.1L144.6 213.9L144.2 213.4L143.8 213.3L143.4 214.3L143 213.5L142.6 214L142.2 213.3L141.8 213.8L141.4 214.4L141 215L140.6 213.7L140.2 213.6L139.8 213.5L139.4 214.3L139 214.3L138.6 214.1L138.2 213.9L137.8 214.5L137.4 214.4L137 214.1L136.6 215.2L136.2 215L135.8 215L135.4 215L135 215.7L134.6 214.8L134.2 216.2L133.8 215.5L133.4 215.9L133 215.6L132.6 216.6L132.2 216.2L131.8 216.1L131.4 216.3L131 216.9L130.6 216.9L130.2 216.8L129.8 216.9L129.4 218.5L129 217.8L128.6 217.7L128.2 218.3L127.8 218L127.4 218.4L127 219.1L126.6 219.3L126.2 220.1L125.8 219.8L125.4 219.4L125 219.8L124.6 220.5L124.2 220.7L123.8 220.5L123.4 221.1L123 220.6L122.6 221.3L122.2 221.3L121.8 221.7L121.4 221.9L121 222.6L120.6 222.9L120.2 222.5L119.8 222.8L119.4 223.9L119 223.7L118.6 224.1L118.2 224.4L117.8 225L117.4 225.1L117 225.5L116.6 226L116.2 227.1L115.8 226.5L115.4 228.1L115 228L114.6 227.9L114.2 228.1L113.8 228.8L113.4 229.1L113 230.2L112.6 230.2L112.2 230.4L111.8 231L111.4 231.1L111 232.1L110.6 232.5L110.2 232.7L109.8 234.2L109.4 234.4L109 234.2L108.6 234.9L108.2 235.5L107.8 236.2L107.4 237.2L107 237.6L106.6 239.3L106.2 239.1L105.8 239L105.4 240.4L105 240.4L104.6 241L104.2 242.4L103.8 242.6L103.4 245L103 243.8L102.6 245.2L102.2 245.7L101.8 246.7L101.4 247.3L101 248.9L100.6 249L100.2 250.2L99.8 250.5L99.4 251.3L99 252.9L98.6 252.7L98.2 253.3L97.8 254.6L97.4 255.5L97 255.7L96.6 255.8L96.2 256.7L95.8 258.5L95.4 258.5L95 259L94.6 259.3L94.2 260L93.8 260.5L93.4 261.3L93 262.3L92.6 262.5L92.2 263.3L91.8 264.5L91.4 265L91 266.1L90.6 268.3L90.2 268L89.8 268.7L89.4 271.3L89 270.4L88.6 271.2L88.2 272.4L87.8 272.5L87.4 272.9L87 275L86.6 274.3L86.2 276.7L85.8 276.2L85.4 276.3L85 278.2L84.6 278.1L84.2 279.6L83.8 280L83.4 283.1L83 281.6L82.6 284.4L82.2 284.5L81.8 288.1L81.4 285.9L81 286L80.6 286.2L80.2 288L79.8 287.3L79.4 288.7L79 291.5L78.6 292L78.2 290.7Z"/>
<path d="M78.2 284.8L78.6 285.3L79 284.3L79.4 284.5L79.8 280L80.2 282.1L80.6 283.1L81 282.3L81.4 281L81.8 280.8L82.2 279.2L82.6 276.3L83 278.3L83.4 276.8L83.8 274.8L84.2 276L84.6 276.2L85 274.4L85.4 273.4L85.8 273.8L86.2 272.1L86.6 271.1L87 271L87.4 270.4L87.8 269.3L88.2 269.9L88.6 266.1L89 266.7L89.4 267.4L89.8 267L90.2 265.6L90.6 265.7L91 265.1L91.4 263.6L91.8 263.5L92.2 261.3L92.6 261.2L93 259.9L93.4 259.4L93.8 259.7L94.2 259L94.6 258.3L95 257.8L95.4 255.7L95.8 255.9L96.2 255.6L96.6 255.5L97 253L97.4 254.4L97.8 252.8L98.2 251.5L98.6 251.4L99 251.5L99.4 250.5L99.8 249.1L100.2 248.6L100.6 248.5L101 247.4L101.4 246.8L101.8 245.6L102.2 244.7L102.6 243.9L103 243.1L103.4 241.8L103.8 241.7L104.2 240.6L104.6 240.1L105 239.1L105.4 238.9L105.8 238.6L106.2 238.3L106.6 236.3L107 236L107.4 236.2L107.8 235.6L108.2 234.2L108.6 234.3L109 234.1L109.4 233.7L109.8 232.4L110.2 232.2L110.6 231.8L111 231.1L111.4 231.1L111.8 230.7L112.2 230.3L112.6 229.9L113 229.2L113.4 229L113.8 227.7L114.2 228L114.6 227.4L115 227.4L115.4 226.9L115.8 226.6L116.2 225.2L116.6 226L117 225L117.4 224.8L117.8 224.7L118.2 224.1L118.6 224L119 223.6L119.4 223.7L119.8 222.6L120.2 222.7L120.6 221.8L121 222.4L121.4 221.5L121.8 222L122.2 221.7L122.6 220.3L123 220.8L123.4 220.6L123.8 219.9L124.2 220.5L124.6 219.9L125 219.9L125.4 219.4L125.8 219.6L126.2 218.8L126.6 219.2L127 219L127.4 218.6L127.8 218.2L128.2 218.4L128.6 218.1L129 217.7L129.4 217.7L129.8 217.4L130.2 217.5L130.6 217.3L131 217.2L131.4 217L131.8 216.7L132.2 215.7L132.6 215.7L133 215.9L133.4 215.8L133.8 215.7L134.2 215.7L134.6 215.4L135 215L135.4 214.5L135.8 213.6L136.2 215L136.6 214.3L137 214.3L137.4 214.5L137.8 214.4L138.2 214.4L138.6 214L139 214.2L139.4 214.2L139.8 212.7L140.2 214L140.6 214L141 212.5L141.4 213.6L141.8 214L142.2 213.9L142.6 213.8L143 213.7L143.4 213.3L143.8 213.7L144.2 213.8L144.6 212.6L145 212.9L145.4 213.8L145.8 213.8L146.2 213.9L146.6 213.8L147 213.7L147.4 213.5L147.8 212.9L148.2 213.5L148.6 213.2L149 213L149.4 213.7L149.8 214.2L150.2 214L150.6 214.2L151 213.3L151.4 214.4L151.8 214.1L152.2 214.6L152.6 214.3L153 214.3L153.4 214.7L153.8 214L154.2 214.9L154.6 214L155 214.3L155.4 214.8L155.8 214.4L156.2 215.2L156.6 214.4L157 213.6L157.4 215.5L157.8 214.2L158.2 214.3L158.6 215.7L159 214.5L159.4 215.9L159.8 213.3L160.2 214.2L160.6 215.5L161 216.1L161.4 215.7L161.4 220.9L161 220.5L160.6 220L160.2 220.3L159.8 219.4L159.4 219.8L159 219.8L158.6 218.3L158.2 218.3L157.8 219.1L157.4 218.9L157 217.8L156.6 218L156.2 217.9L155.8 218.7L155.4 219.3L155 217.2L154.6 217.6L154.2 216.9L153.8 217.9L153.4 216.8L153 217.1L152.6 216.5L152.2 216.8L151.8 216.6L151.4 218.9L151 216.7L150.6 216.7L150.2 216.6L149.8 216.2L149.4 217.4L149 216.1L148.6 216.3L148.2 216.6L147.8 216.4L147.4 217.6L147 216.8L146.6 216L146.2 217.6L145.8 216.4L145.4 216.6L145 215.8L144.6 217.9L144.2 216.5L143.8 216.2L143.4 215.7L143 215.8L142.6 216.5L142.2 215.9L141.8 216.1L141.4 216L141 215.9L140.6 216.4L140.2 215.9L139.8 216.5L139.4 216.1L139 216.3L138.6 216.1L138.2 216.1L137.8 216.3L137.4 217.1L137 217.1L136.6 217.1L136.2 216.8L135.8 217.7L135.4 216.8L135 218L134.6 217.7L134.2 218.4L133.8 217.7L133.4 218.4L133 218.2L132.6 218.7L132.2 218.3L131.8 218.9L131.4 218.7L131 219.1L130.6 219.6L130.2 219.2L129.8 220.6L129.4 220L129 220.2L128.6 220.2L128.2 220L127.8 220.6L127.4 222.2L127 221.9L126.6 220.9L126.2 221.3L125.8 221.9L125.4 221.6L125 222.1L124.6 222.8L124.2 222.4L123.8 223L123.4 223.7L123 222.7L122.6 223.2L122.2 223.5L121.8 224.1L121.4 224.1L121 224.6L120.6 225.4L120.2 224.9L119.8 225L119.4 225.4L119 225.6L118.6 226L118.2 226.3L117.8 227L117.4 227.5L117 227.8L116.6 228L116.2 228.6L115.8 229.3L115.4 229.1L115 229.5L114.6 229.7L114.2 231.2L113.8 230.9L113.4 230.9L113 232L112.6 231.9L112.2 232.3L111.8 232.7L111.4 233.9L111 233.6L110.6 234.8L110.2 234.5L109.8 235.7L109.4 235.5L109 237.3L108.6 237.4L108.2 237.1L107.8 238.5L107.4 238.3L107 238.9L106.6 240L106.2 241.6L105.8 241.2L105.4 243.3L105 242.8L104.6 243L104.2 243.8L103.8 244.3L103.4 245.8L103 245.9L102.6 246.4L102.2 247.2L101.8 249.2L101.4 250.2L101 249.9L100.6 251.8L100.2 252.2L99.8 252.5L99.4 254L99 254L98.6 254.7L98.2 255.4L97.8 257.1L97.4 257.3L97 257.7L96.6 258.9L96.2 260L95.8 259.2L95.4 261.2L95 260.3L94.6 260.7L94.2 262.8L93.8 262.5L93.4 263.1L93 266.7L92.6 264.9L92.2 267.3L91.8 266.2L91.4 268.2L91 268.1L90.6 269L90.2 270.1L89.8 271.6L89.4 271.6L89 273.3L88.6 272.9L88.2 274.7L87.8 274L87.4 275.7L87 275.6L86.6 276.7L86.2 277.1L85.8 278.7L85.4 281.1L85 279.7L84.6 283.3L84.2 284.2L83.8 281.7L83.4 283L83 286.5L82.6 284.7L82.2 286.5L81.8 286.9L81.4 287.9L81 291.6L80.6 294.4L80.2 289.1L79.8 291.6L79.4 291.8L79 292.5L78.6 294.3L78.2 293.4Z"/>
<path d="M78.2 283.6L78.6 287.6L79 287.8L79.4 285.4L79.8 282.2L80.2 283.9L80.6 282.7L81 284.6L81.4 283.4L81.8 282.8L82.2 280.7L82.6 281.4L83 279.6L83.4 280.3L83.8 280L84.2 277.1L84.6 276.1L85 277.2L85.4 276.4L85.8 275.9L86.2 275.7L86.6 270.8L87 273.8L87.4 272.8L87.8 272.6L88.2 270.9L88.6 271.1L89 270.1L89.4 267.2L89.8 268.8L90.2 268.5L90.6 267.9L91 267.1L91.4 266.3L91.8 265.2L92.2 264.8L92.6 263.2L93 262.6L93.4 262.3L93.8 260.6L94.2 260.9L94.6 259.5L95 258.2L95.4 258.6L95.8 258.6L96.2 257.9L96.6 256.8L97 256.6L97.4 255.9L97.8 255.4L98.2 254.4L98.6 254.2L99 253.6L99.4 252L99.8 252L100.2 251.3L100.6 249L101 248.8L101.4 248.4L101.8 247.9L102.2 246.8L102.6 245.4L103 245.5L103.4 244.7L103.8 243.4L104.2 242.6L104.6 241.8L105 242.1L105.4 240.7L105.8 240.1L106.2 240L106.6 238.8L107 238.9L107.4 237.4L107.8 237.5L108.2 236.9L108.6 235.7L109 235.2L109.4 235.5L109.8 234.5L110.2 234.2L110.6 233.3L111 232.5L111.4 232.7L111.8 231.9L112.2 231.8L112.6 231.9L113 231.4L113.4 230.5L113.8 230.1L114.2 230.2L114.6 229.7L115 228.5L115.4 228.1L115.8 227.2L116.2 228.4L116.6 228L117 227.4L117.4 226.6L117.8 227L118.2 226.7L118.6 226.3L119 225.3L119.4 225.4L119.8 225.3L120.2 225.1L120.6 224.8L121 224.3L121.4 224L121.8 223.5L122.2 223.6L122.6 223.6L123 223.3L123.4 223.1L123.8 222.7L124.2 222.5L124.6 222.1L125 222.1L125.4 221.3L125.8 221.2L126.2 221.2L126.6 221.4L127 221.3L127.4 220.8L127.8 219.3L128.2 220.6L128.6 220.3L129 219.6L129.4 219.4L129.8 219.5L130.2 219.6L130.6 219L131 218.7L131.4 218.9L131.8 218.3L132.2 218.5L132.6 218.7L133 218.5L133.4 217.3L133.8 217.8L134.2 217.8L134.6 217.2L135 217.6L135.4 217.4L135.8 217.1L136.2 216.7L136.6 216.8L137 216.6L137.4 216.8L137.8 216.7L138.2 216.7L138.6 216.6L139 216.4L139.4 215.4L139.8 215.4L140.2 215.7L140.6 216.2L141 216.3L141.4 216L141.8 216.1L142.2 215.5L142.6 215.4L143 216.2L143.4 215.3L143.8 215.8L144.2 215.6L144.6 214.1L145 215.3L145.4 216.2L145.8 216.3L146.2 216.4L146.6 216.2L147 216L147.4 215.9L147.8 215.3L148.2 216.5L148.6 216L149 215.5L149.4 216.5L149.8 215.8L150.2 215.7L150.6 215.1L151 216.4L151.4 215.8L151.8 216.7L152.2 216.9L152.6 216.8L153 216.2L153.4 216.4L153.8 215.2L154.2 216.2L154.6 216.9L155 216.9L155.4 216.4L155.8 217.3L156.2 216.5L156.6 216.6L157 217.8L157.4 217.1L157.8 216.7L158.2 217.9L158.6 217.7L159 216.7L159.4 217.8L159.8 216.8L160.2 218.2L160.6 218.2L161 218.2L161.4 218.2L161.4 223.2L161 222L160.6 221.6L160.2 222.8L159.8 221.1L159.4 220.8L159 221.2L158.6 221.3L158.2 220.3L157.8 220.7L157.4 219.9L157 219.9L156.6 220.3L156.2 219.9L155.8 220.3L155.4 219.6L155 219.8L154.6 219.3L154.2 219.4L153.8 218.8L153.4 218.8L153 218.9L152.6 218.6L152.2 219.3L151.8 219L151.4 218.6L151 218.8L150.6 218.4L150.2 218.2L149.8 218.5L149.4 218.4L149 218.2L148.6 219L148.2 218.6L147.8 218.9L147.4 218.6L147 218L146.6 218.5L146.2 219.1L145.8 218L145.4 218.2L145 218L144.6 218.7L144.2 218.6L143.8 217.9L143.4 218.4L143 218.1L142.6 218.1L142.2 218.3L141.8 218.3L141.4 218.6L141 218L140.6 218.3L140.2 219.3L139.8 218.3L139.4 218.2L139 218.7L138.6 218.3L138.2 218.7L137.8 218.9L137.4 218.5L137 219.1L136.6 218.6L136.2 218.8L135.8 220.1L135.4 219.2L135 219.2L134.6 219.2L134.2 220.3L133.8 219.8L133.4 220.8L133 220.6L132.6 221L132.2 220.8L131.8 220.6L131.4 221L131 220.9L130.6 221.5L130.2 221.6L129.8 221.8L129.4 222.3L129 221.9L128.6 222.4L128.2 222.6L127.8 222.4L127.4 222.8L127 222.9L126.6 223.7L126.2 223.1L125.8 224.1L125.4 223.5L125 223.8L124.6 225L124.2 224.1L123.8 224.5L123.4 224.6L123 224.9L122.6 225.8L122.2 225.8L121.8 225.7L121.4 226.1L121 226.3L120.6 226.7L120.2 227L119.8 227.9L119.4 227.3L119 227.7L118.6 227.9L118.2 228.2L117.8 228.7L117.4 229L117 230L116.6 229.6L116.2 230.4L115.8 230.7L115.4 230.9L115 232.3L114.6 232.2L114.2 232L113.8 232.3L113.4 233.1L113 233.2L112.6 233.7L112.2 234.5L111.8 234.7L111.4 234.7L111 236.4L110.6 236.2L110.2 236.6L109.8 237.1L109.4 237.7L109 239.4L108.6 238.6L108.2 238.7L107.8 240.2L107.4 239.9L107 240.9L106.6 241.8L106.2 242.6L105.8 242.9L105.4 243.1L105 243.7L104.6 244.4L104.2 245.1L103.8 246L103.4 246.5L103 247.8L102.6 248.2L102.2 249.5L101.8 249.6L101.4 250.5L101 251.9L100.6 252.8L100.2 253.6L99.8 254.4L99.4 256L99 256.2L98.6 256.6L98.2 257.1L97.8 259.1L97.4 259.1L97 259.8L96.6 259.9L96.2 260.2L95.8 260.8L95.4 261.3L95 262.1L94.6 263.7L94.2 263.9L93.8 265.5L93.4 265.4L93 265.7L92.6 266.6L92.2 267.6L91.8 269.6L91.4 269.7L91 270.2L90.6 271.3L90.2 272.9L89.8 272.1L89.4 272.8L89 274.8L88.6 274.4L88.2 276.6L87.8 277.1L87.4 277.5L87 280.7L86.6 279.5L86.2 281.1L85.8 280.2L85.4 280.9L85 281.4L84.6 282.4L84.2 283L83.8 283.9L83.4 285.3L83 285.6L82.6 286.9L82.2 286.8L81.8 290.5L81.4 288.7L81 289.5L80.6 290.4L80.2 290.7L79.8 291.9L79.4 293.5L79 293.2L78.6 295.1L78.2 295.4Z"/>
</g>
<g fill="#DDA0DD" stroke="none">
<path d="M78.2 217.8L78.6 214.9L79 218.5L79.4 217.4L79.8 216.7L80.2 213.3L80.6 215.6L81 213.2L81.4 212.4L81.8 213L82.2 213.3L82.6 210.5L83 212.4L83.4 212.2L83.8 210.6L84.2 210.7L84.6 210.1L85 209.4L85.4 209.1L85.8 207.2L86.2 206.5L86.6 207.5L87 206.6L87.4 206.3L87.8 204.7L88.2 204.3L88.6 204.4L89 203.8L89.4 203.6L89.8 202.3L90.2 202.2L90.6 201.7L91 201.1L91.4 200.2L91.8 200.3L92.2 199.3L92.6 198.7L93 198.6L93.4 198.4L93.8 197.1L94.2 197.4L94.6 196.5L95 196.1L95.4 196L95.8 195.2L96.2 194.8L96.6 194.5L97 194.2L97.4 193.5L97.8 193.6L98.2 193.3L98.6 193L99 192.4L99.4 192.2L99.8 192L100.2 191L100.6 190.7L101 191L101.4 190L101.8 190.5L102.2 190L102.6 189.5L103 189.4L103.4 188.1L103.8 188.9L104.2 188.1L104.6 187.8L105 187.9L105.4 187.7L105.8 186.1L106.2 186.8L106.6 186.7L107 186.4L107.4 186.1L107.8 185.5L108.2 186L108.6 185.3L109 185.2L109.4 185.1L109.8 184.6L110.2 184.7L110.6 184L111 184.2L111.4 184.1L111.8 183.6L112.2 183.6L112.6 183.4L113 182.6L113.4 182.6L113.8 182.1L114.2 182L114.6 182.4L115 182.1L115.4 181.9L115.8 181.4L116.2 181.6L116.6 181.5L117 181.1L117.4 181L117.8 180.6L118.2 180.5L118.6 180.3L119 180.5L119.4 180.2L119.8 180.2L120.2 180.2L120.6 179.7L121 179.4L121.4 179.8L121.8 179.6L122.2 179.1L122.6 179.3L123 179.3L123.4 179L123.8 178.9L124.2 178.3L124.6 178.8L125 178.5L125.4 178.5L125.8 178L126.2 177.8L126.6 177.6L127 178.1L127.4 177.9L127.8 177L128.2 177.7L128.6 177.5L129 177.5L129.4 177.4L129.8 177L130.2 176.4L130.6 177.5L131 177.2L131.4 177.3L131.8 176.6L132.2 177.3L132.6 176.8L133 176.9L133.4 176.7L133.8 176.6L134.2 176.6L134.6 177.1L135 177.2L135.4 177.3L135.8 177L136.2 176.6L136.6 177.1L137 177.2L137.4 177.3L137.8 177L138.2 177.4L138.6 177.3L139 177.1L139.4 177.5L139.8 176.7L140.2 177.6L140.6 177.9L141 177.5L141.4 177.6L141.8 177.8L142.2 177.3L142.6 178.1L143 177.8L143.4 178L143.8 178.3L144.2 178.5L144.6 178.3L145 177.1L145.4 178.6L145.8 178.7L146.2 178.7L146.6 179L147 178.8L147.4 179.3L147.8 179L148.2 179.4L148.6 179.9L149 179.5L149.4 179.3L149.8 179.5L150.2 180.2L150.6 180.6L151 180.1L151.4 180.2L151.8 180.9L152.2 180.8L152.6 180.4L153 180L153.4 180.9L153.8 181.8L154.2 181.3L154.6 182.1L155 181.1L155.4 182.1L155.8 182.3L156.2 183L156.6 182.8L157 182.6L157.4 182.6L157.8 183.5L158.2 183.4L158.6 183.2L159 183.7L159.4 183.3L159.8 182.4L160.2 183.9L160.6 182.3L161 183.4L161.4 184.1L161.4 189.1L161 189.1L160.6 187.7L160.2 188.5L159.8 187.8L159.4 187.8L159 187.2L158.6 186.3L158.2 186.6L157.8 186.5L157.4 185.6L157 186.6L156.6 185.4L156.2 185.8L155.8 185.8L155.4 184.6L155 184.6L154.6 184.9L154.2 184.6L153.8 183.9L153.4 184.3L153 183.8L152.6 183.7L152.2 183.1L151.8 182.8L151.4 183.1L151 183.4L150.6 183.1L150.2 183.7L149.8 183.6L149.4 182.8L149 182L148.6 181.9L148.2 183L147.8 182.1L147.4 181.4L147 181.9L146.6 181.2L146.2 181.1L145.8 180.8L145.4 180.6L145 180.4L144.6 180.2L144.2 180.1L143.8 180.2L143.4 179.9L143 180.1L142.6 180L142.2 180L141.8 179.7L141.4 180.4L141 179.6L140.6 179.4L140.2 179.3L139.8 179.6L139.4 179.5L139 179.3L138.6 179.9L138.2 179.5L137.8 180L137.4 179.1L137 179.2L136.6 178.9L136.2 178.6L135.8 179.1L135.4 179.3L135 178.5L134.6 178.6L134.2 179.4L133.8 178.9L133.4 178.7L133 178.8L132.6 178.7L132.2 178.7L131.8 178.8L131.4 179.2L131 179.1L130.6 179L130.2 179L129.8 179.2L129.4 179L129 179.6L128.6 179.4L128.2 179.7L127.8 180.1L127.4 179.2L127 179.5L126.6 179.9L126.2 179.8L125.8 180.2L125.4 179.8L125 179.9L124.6 180.5L124.2 180.7L123.8 180.5L123.4 180.5L123 180.8L122.6 180.9L122.2 181L121.8 181.6L121.4 181.1L121 181.5L120.6 181.6L120.2 181.7L119.8 182.7L119.4 181.9L119 181.7L118.6 182.3L118.2 182.1L117.8 182.5L117.4 182.4L117 182.8L116.6 182.7L116.2 183.3L115.8 183.7L115.4 184.4L115 183.9L114.6 184.3L114.2 184.2L113.8 184.3L113.4 184.5L113 184.9L112.6 184.6L112.2 185.2L111.8 185.5L111.4 185.7L111 185.9L110.6 186L110.2 186.1L109.8 186.7L109.4 186.7L109 187.4L108.6 187L108.2 187.2L107.8 187.9L107.4 188.4L107 188.1L106.6 188.6L106.2 188.9L105.8 189.2L105.4 189.3L105 189.6L104.6 190L104.2 190.2L103.8 190.7L103.4 190.5L103 190.7L102.6 191.3L102.2 191.4L101.8 191.8L101.4 192L101 193.3L100.6 193L100.2 193.7L99.8 194L99.4 194.2L99 194.3L98.6 195.3L98.2 194.7L97.8 195.6L97.4 195.5L97 196.1L96.6 196.6L96.2 196.7L95.8 197.1L95.4 198.1L95 198.6L94.6 198.5L94.2 199.2L93.8 199.9L93.4 200.1L93 201.7L92.6 201.5L92.2 201.5L91.8 202.1L91.4 202.9L91 203.3L90.6 203.8L90.2 204.6L89.8 205.7L89.4 206.6L89 206.5L88.6 206.7L88.2 207.7L87.8 209.1L87.4 209.1L87 209.5L86.6 211.3L86.2 211.1L85.8 212.3L85.4 212.2L85 213.1L84.6 214.7L84.2 215.7L83.8 215.7L83.4 215.7L83 216.5L82.6 218.5L82.2 219.5L81.8 218.6L81.4 219L81 219.4L80.6 221.1L80.2 222.5L79.8 223.5L79.4 223.3L79 223.2L78.6 226.3L78.2 227Z"/>
<path d="M78.2 233L78.6 231.2L79 231.8L79.4 230.6L79.8 228.1L80.2 229L80.6 230.2L81 229.8L81.4 229L81.8 229L82.2 226.5L82.6 226.7L83 226.4L83.4 226.1L83.8 224.8L84.2 225.5L84.6 225.1L85 223.5L85.4 223.8L85.8 223.3L86.2 222.6L86.6 220.7L87 221.1L87.4 220.2L87.8 220.2L88.2 219.5L88.6 219L89 218.9L89.4 218.4L89.8 216.6L90.2 217.3L90.6 215.8L91 216.1L91.4 215.5L91.8 215.2L92.2 213.4L92.6 213.9L93 213.3L93.4 213.2L93.8 212.6L94.2 211.7L94.6 211.2L95 210.7L95.4 210.4L95.8 210.3L96.2 209.7L96.6 209.6L97 208.7L97.4 208.4L97.8 207.7L98.2 208.2L98.6 207.2L99 207.5L99.4 207.1L99.8 206L100.2 205.5L100.6 205.5L101 205.9L101.4 205.7L101.8 205.3L102.2 205L102.6 204.5L103 203.5L103.4 204.1L103.8 203.5L104.2 203L104.6 203.1L105 203L105.4 202.6L105.8 201.8L106.2 202L106.6 201L107 201.2L107.4 200.6L107.8 201L108.2 200.6L108.6 200.5L109 199.9L109.4 199.7L109.8 199.6L110.2 199.2L110.6 199.2L111 199.2L111.4 198.7L111.8 198.6L112.2 198.6L112.6 198L113 198.2L113.4 197.6L113.8 197.2L114.2 196.9L114.6 197.1L115 196.6L115.4 196.9L115.8 196.8L116.2 196.4L116.6 196.3L117 195.7L117.4 194.9L117.8 195.6L118.2 194.7L118.6 195.6L119 195.5L119.4 195L119.8 194.4L120.2 194.5L120.6 194.9L121 194.7L121.4 194.4L121.8 194.5L122.2 194.1L122.6 194.1L123 194.1L123.4 193.7L123.8 193.6L124.2 193.7L124.6 193.6L125 193L125.4 192.7L125.8 193.3L126.2 192.6L126.6 192.6L127 192.7L127.4 192.7L127.8 192.9L128.2 192.7L128.6 192.6L129 192.4L129.4 192.6L129.8 191.5L130.2 191.4L130.6 192.4L131 192.2L131.4 191.8L131.8 191.6L132.2 191.2L132.6 192L133 191.1L133.4 191.9L133.8 192.1L134.2 191.9L134.6 191.8L135 191.5L135.4 191.9L135.8 192.1L136.2 192.1L136.6 191.5L137 191.9L137.4 191.8L137.8 192L138.2 192.3L138.6 192.2L139 192.3L139.4 192.1L139.8 192.5L140.2 192.5L140.6 192.2L141 192.8L141.4 191.8L141.8 192.9L142.2 191.3L142.6 192.6L143 193L143.4 193.1L143.8 191.8L144.2 193.4L144.6 193.5L145 192.6L145.4 193L145.8 192.8L146.2 193.9L146.6 193.8L147 192.8L147.4 194.4L147.8 194.4L148.2 194.3L148.6 194.8L149 194.2L149.4 194.5L149.8 194.8L150.2 195L150.6 194.8L151 194.9L151.4 195.8L151.8 195L152.2 195.2L152.6 195.4L153 196L153.4 196.6L153.8 196.5L154.2 197L154.6 197.2L155 197.1L155.4 197L155.8 196L156.2 197.7L156.6 197.6L157 197.2L157.4 197.8L157.8 198L158.2 198.1L158.6 198.7L159 199L159.4 198.9L159.8 198.2L160.2 198L160.6 199.2L161 196.4L161.4 198.8L161.4 204L161 202.9L160.6 203.9L160.2 202.3L159.8 202L159.4 203.4L159 203.2L158.6 201.7L158.2 201.1L157.8 201.6L157.4 201.1L157 200.4L156.6 200.9L156.2 200.5L155.8 200.4L155.4 199.4L155 199.3L154.6 199L154.2 199.5L153.8 198.7L153.4 198.4L153 198.1L152.6 198L152.2 198.1L151.8 198.2L151.4 197.6L151 197.3L150.6 197.1L150.2 196.9L149.8 196.7L149.4 197.7L149 197.5L148.6 196.6L148.2 196.4L147.8 196.4L147.4 196L147 196.3L146.6 196.2L146.2 196.4L145.8 195.6L145.4 195.7L145 195.2L144.6 195.2L144.2 195.5L143.8 195.2L143.4 195.8L143 194.8L142.6 194.7L142.2 194.5L141.8 195.1L141.4 194.6L141 194.2L140.6 194.6L140.2 194.1L139.8 194.6L139.4 194.5L139 194.3L138.6 194L138.2 194.2L137.8 194.3L137.4 193.9L137 194L136.6 193.5L136.2 194.1L135.8 193.7L135.4 193.7L135 194L134.6 194.1L134.2 193.3L133.8 193.6L133.4 193.6L133 194.2L132.6 193.5L132.2 194.1L131.8 194.1L131.4 193.8L131 193.7L130.6 194.3L130.2 193.8L129.8 193.7L129.4 193.7L129 193.9L128.6 194.5L128.2 194.4L127.8 194.3L127.4 194.4L127 194.4L126.6 194.5L126.2 195.1L125.8 194.6L125.4 195.1L125 194.9L124.6 195.2L124.2 195.4L123.8 195.3L123.4 195.8L123 195.7L122.6 195.6L122.2 195.6L121.8 195.9L121.4 195.8L121 196.7L120.6 196.1L120.2 196.6L119.8 196.6L119.4 197L119 196.7L118.6 197.3L118.2 197.3L117.8 197L117.4 197.7L117 197.9L116.6 197.9L116.2 198.3L115.8 198.3L115.4 198.2L115 198.6L114.6 198.5L114.2 199.6L113.8 199L113.4 199.1L113 199.8L112.6 199.7L112.2 200.1L111.8 200L111.4 200.4L111 201.2L110.6 200.7L110.2 201L109.8 201.5L109.4 201.9L109 201.7L108.6 202L108.2 202.8L107.8 202.3L107.4 202.7L107 203L106.6 203.3L106.2 203.8L105.8 204L105.4 205.1L105 205L104.6 204.6L104.2 204.8L103.8 205.6L103.4 206L103 206L102.6 206.1L102.2 206.3L101.8 207.9L101.4 207.1L101 207.6L100.6 208L100.2 208.2L99.8 208.3L99.4 208.6L99 209.3L98.6 209.6L98.2 210.5L97.8 210L97.4 210.8L97 211.2L96.6 211.1L96.2 212.3L95.8 212L95.4 212.6L95 213.1L94.6 214.2L94.2 213.7L93.8 214.4L93.4 215.1L93 215.3L92.6 215.8L92.2 216.4L91.8 218.1L91.4 217.7L91 218.6L90.6 218.8L90.2 219.7L89.8 219.7L89.4 220.3L89 221.3L88.6 222.2L88.2 223.1L87.8 223.4L87.4 223.3L87 225.4L86.6 225L86.2 225.9L85.8 226.8L85.4 227.9L85 227.5L84.6 228.3L84.2 228.5L83.8 230.1L83.4 230.3L83 230.6L82.6 231L82.2 232L81.8 233.6L81.4 234.3L81 233.7L80.6 234.8L80.2 235.1L79.8 237.3L79.4 238.9L79 237.6L78.6 239.6L78.2 239Z"/>
</g>
<path d="M52 262.3L53 263.2L54 264.3L55 265.1L56 265.5L57 265.4L58 264.8L59 263.9L60 262.9L61 261.9L62 260.9L63 259.9L64 258.9L65 257.9L66 257L67 256.2L68 255.4L69 254.7L70 253.9L71 253.2L72 252.5L73 251.8L74 251.1L75 250.4L76 249.7L77 249L78 248.2L79 247.3L80 246.5L81 245.6L82 244.8L83 243.9L84 243L85 242L86 241L87 239.9L88 238.7L89 237.4L90 236L91 234.7L92 233.3L93 232L94 230.7L95 229.3L96 228L97 226.5L98 224.8L99 223L100 221.1L101 219.3L102 217.6L103 216L104 214.5L105 213L106 211.7L107 210.4L108 209.2L109 208.1L110 207.1L111 206.1L112 205.3L113 204.5L114 203.7L115 203L116 202.4L117 201.7L118 201.1L119 200.6L120 200L121 199.5L122 199L123 198.5L124 198.1L125 197.6L126 197.2L127 196.8L128 196.4L129 196L130 195.6L131 195.2L132 194.8L133 194.4L134 194L135 193.7L136 193.4L137 193.2L138 193.1L139 193.1L140 193L141 193L142 193.1L143 193.1L144 193.2L145 193.3L146 193.4L147 193.5L148 193.6L149 193.7L150 193.8L151 193.9L152 194.1L153 194.2L154 194.4L155 194.6L156 194.8L157 194.9L158 195.1L159 195.3L160 195.4L161 195.5L162 195.6L163 195.7L164 195.9L165 196L166 196.1L167 196.1L168 196.2L169 196.3L170 196.4L171 196.5L172 196.6L173 196.6L174 196.7L175 196.8L176 196.9L177 196.9L178 197L179 197L180 197L181 197L182 197L183 196.9L184 196.9L185 196.8L186 196.7L187 196.7L188 196.6L189 196.5L190 196.4L191 196.3L192 196.2L193 196L194 195.9L195 195.7L196 195.6L197 195.4L198 195.3L199 195.1L200 195L201 194.9L202 194.8L203 194.7L204 194.6L205 194.5L206 194.4L207 194.3L208 194.2L209 194.1L210 194L211 193.9L212 193.8L213 193.6L214 193.5L215 193.4L216 193.3L217 193.1L218 193L219 192.9L220 192.8L221 192.7L222 192.6L223 192.5L224 192.4L225 192.3L226 192.3L227 192.2L228 192.1L229 192.1L230 192L231 192L232 191.9L233 191.9L234 191.9L235 191.8L236 191.8L237 191.8L238 191.7L239 191.7L240 191.7L241 191.7L242 191.7L243 191.6L244 191.6L245 191.6L246 191.5L247 191.5L248 191.5L249 191.4L250 191.4L251 191.3L252 191.2L253 191.2L254 191.1L255 190.9L256 190.8L257 190.8L258 190.7L259 190.6L260 190.6L261 190.6L262 190.6L263 190.7L264 190.7L265 190.8L266 190.9L267 191L268 191L269 191.1L270 191.2L271 191.3L272 191.4L273 191.5L274 191.5L275 191.6L276 191.8L277 191.9L278 192L279 192.2L280 192.3L281 192.5L282 192.7L283 193L284 193.2L285 193.4L286 193.7L287 193.9L288 194.2L289 194.4L290 194.6L291 194.8L292 195.1L293 195.3L294 195.5L295 195.5L296 195.5L297 195.5L298 195.3L299 195.2L300 195.1L301 194.9L302 194.8L303 194.7L304 194.6L305 194.5L306 194.4L307 194.3L308 194.3L309 194.2L310 194.2L311 194.2L312 194.2L313 194.2L314 194.3L315 194.3L316 194.3L317 194.4L318 194.4L319 194.4L320 194.4L321 194.4L322 194.4L323 194.4L324 194.3L325 194.3L326 194.3L327 194.2L328 194.2L329 194.2L330 194.2L331 194.2L332 194.2L333 194.2L334 194.2L335 194.2L336 194.2L337 194.2L338 194.2L339 194.2L340 194.2L341 194.2L342 194.3L343 194.3L344 194.4L345 194.5L346 194.6L347 194.7L348 194.8L349 194.9L350 195L351 195.1L352 195.1L353 195.2L354 195.2L355 195.2L356 195.3L357 195.3L358 195.4L359 195.4L360 195.4L361 195.5L362 195.5L363 195.5L364 195.6L365 195.6L366 195.7L367 195.7L368 195.7L369 195.8L370 195.8L371 195.8L372 195.9L373 195.9L374 195.9L375 196L376 196L377 196L378 196L379 196.1L380 196.1L381 196.1L382 196.1L383 196.2L384 196.2L385 196.3L386 196.3L387 196.4L388 196.4L389 196.5L390 196.7L391 196.9L392 197.2L393 197.6L394 198.1L395 198.7L396 199.5L397 200.4L398 201.3L399 202.2L400 202.9L401 203.6L402 204.2L403 204.7L404 205L405 205.2L406 205.2L407 205.1L408 204.9L409 204.6L410 204.4L411 204.1L412 203.8L413 203.5L414 203.1L415 202.7L416 202.3L417 202L418 201.6L419 201.3L420 201L421 200.8L422 200.5L423 200.3L424 200L425 199.8L426 199.6L427 199.4L428 199.3L429 199.1L430 199L431 198.9L432 198.8L433 198.7L434 198.7L435 198.6L436 198.5L437 198.5L438 198.4L439 198.4L440 198.4L441 198.4L442 198.5L443 198.6L444 198.7L445 198.9L446 199L447 199.2L448 199.3L449 199.5L450 199.6L451 199.7L452 199.8L453 199.9L454 200.1L455 200.2L456 200.3L457 200.5L458 200.6L459 200.9L460 201.1L461 201.4L462 201.7L463 201.8L464 201.9L465 201.9L466 201.9L467 201.8L468 201.6L469 201.5L470 201.4L471 201.3L472 201.2L473 201L474 200.9L475 200.9L476 200.8L477 200.9L478 201L479 201L480 201.1L481 201.1L482 201.1L483 201L484 200.8L485 200.7L486 200.7L487 200.7L488 200.7L489 200.8L490 200.9L491 201.1L492 201.2L493 201.4L494 201.6L495 201.8L496 202L497 202.3L498 202.7L499 203.1L500 203.6L501 204.2L502 204.8L503 205.4L504 206L505 206.4L506 206.9L507 207.2L508 207.6L509 207.9L510 208.1L511 208.3L512 208.6L513 208.8L514 209L515 209.2L516 209.3L517 209.5L518 209.7L519 209.8L520 210L521 210.1L522 210.3L523 210.4L524 210.6L525 210.7L526 210.8L527 211L528 211.1L529 211.2L530 211.4L531 211.6L532 211.8L533 212L534 212.2L535 212.5L536 212.7L537 212.9L538 213.2L539 213.4L540 213.6L541 213.8L542 214L543 214.2L544 214.4L545 214.6L546 214.8L547 215L548 215.2L549 215.3" fill="none" stroke="#2A3CFF" stroke-width="1.45" stroke-linejoin="round"/>
<g fill="none" stroke="#D4281E" stroke-width="1.3">
<path d="M71.1 188.4V208.4M65.6 188.4H76.6M65.6 208.4H76.6M82.3 158.6V195.6M76.8 158.6H87.8M76.8 195.6H87.8M89.4 142.6V171.2M83.9 142.6H94.9M83.9 171.2H94.9M95.5 123.6V160.8M90 123.6H101M90 160.8H101M114.6 96.6V136.4M109.1 96.6H120.1M109.1 136.4H120.1M122.7 100V121.2M117.2 100H128.2M117.2 121.2H128.2M139.4 90V110.8M133.9 90H144.9M133.9 110.8H144.9M151.5 75.6V108.6M146 75.6H157M146 108.6H157M165.3 94.4V117.6M159.8 94.4H170.8M159.8 117.6H170.8M174.5 91.6V125.2M169 91.6H180M169 125.2H180M180.9 97.2V129.4M175.4 97.2H186.4M175.4 129.4H186.4M197.7 91.6V121.2M192.2 91.6H203.2M192.2 121.2H203.2"/>
</g>
<g fill="none" stroke="#E2504A" stroke-width="0.8">
<rect x="69.1" y="196.4" width="4" height="4"/>
<rect x="80.3" y="175.6" width="4" height="4"/>
<rect x="87.4" y="154.8" width="4" height="4"/>
<rect x="93.5" y="140.4" width="4" height="4"/>
<rect x="112.6" y="114.6" width="4" height="4"/>
<rect x="120.7" y="108.4" width="4" height="4"/>
<rect x="137.4" y="98.4" width="4" height="4"/>
<rect x="149.5" y="90" width="4" height="4"/>
<rect x="163.3" y="104.2" width="4" height="4"/>
<rect x="172.5" y="106.2" width="4" height="4"/>
<rect x="178.9" y="111.4" width="4" height="4"/>
<rect x="195.7" y="104.4" width="4" height="4"/>
</g>
<g fill="none" stroke="#2432C8" stroke-width="1.3">
<path d="M71.1 283V289.1M65.6 283H76.6M65.6 289.1H76.6M82.3 275.4V289.1M76.8 275.4H87.8M76.8 289.1H87.8M89.4 270V277.9M83.9 270H94.9M83.9 277.9H94.9M95.5 263.3V277.9M90 263.3H101M90 277.9H101M114.6 232.6V253.8M109.1 232.6H120.1M109.1 253.8H120.1M151.5 204.4V228.2M146 204.4H157M146 228.2H157M174.5 205V232.4M169 205H180M169 232.4H180M180.9 205V233.6M175.4 205H186.4M175.4 233.6H186.4M197.7 200.6V231M192.2 200.6H203.2M192.2 231H203.2"/>
</g>
<g fill="none" stroke="#4A5CE0" stroke-width="0.8">
<circle cx="71.1" cy="286" r="2.3"/>
<circle cx="82.3" cy="282.3" r="2.3"/>
<circle cx="89.4" cy="274" r="2.3"/>
<circle cx="95.5" cy="270.4" r="2.3"/>
<circle cx="114.6" cy="243.2" r="2.3"/>
<circle cx="151.5" cy="216.2" r="2.3"/>
<circle cx="174.5" cy="218.6" r="2.3"/>
<circle cx="180.9" cy="219.2" r="2.3"/>
<circle cx="197.7" cy="216" r="2.3"/>
</g>
<g fill="none" stroke="#2CCACA" stroke-width="1.3">
<path d="M71.1 278.5V286M65.6 278.5H76.6M65.6 286H76.6M82.3 269.6V285.8M76.8 269.6H87.8M76.8 285.8H87.8M89.4 261.5V271M83.9 261.5H94.9M83.9 271H94.9M95.5 253V271M90 253H101M90 271H101M114.6 212V242.5M109.1 212H120.1M109.1 242.5H120.1M151.5 176.6V211M146 176.6H157M146 211H157M174.5 179.6V216M169 179.6H180M169 216H180M180.9 179.6V216M175.4 179.6H186.4M175.4 216H186.4M197.7 177.4V212.4M192.2 177.4H203.2M192.2 212.4H203.2"/>
</g>
<g fill="none" stroke="#4AD8D8" stroke-width="0.8">
<path d="M71.1 279.4L73.7 283.9L68.5 283.9Z"/>
<path d="M82.3 274.8L84.9 279.3L79.7 279.3Z"/>
<path d="M89.4 263.1L92 267.6L86.8 267.6Z"/>
<path d="M95.5 259.1L98.1 263.6L92.9 263.6Z"/>
<path d="M114.6 224.4L117.2 228.9L112 228.9Z"/>
<path d="M151.5 190.9L154.1 195.4L148.9 195.4Z"/>
<path d="M174.5 194.9L177.1 199.4L171.9 199.4Z"/>
<path d="M180.9 194.9L183.5 199.4L178.3 199.4Z"/>
<path d="M197.7 192.1L200.3 196.6L195.1 196.6Z"/>
</g>
</g>
<rect x="172.5" y="243" width="367" height="65" fill="#fff" stroke="#6e6e6e" stroke-width="1"/>
<path d="M175.4 256H195.3" stroke="#FF9A94" stroke-width="1" fill="none"/>
<path d="M175.4 269.3H195.3" stroke="#8C9CFF" stroke-width="1" fill="none"/>
<path d="M175.4 282.5H195.3" stroke="#F0CDF0" stroke-width="1" fill="none"/>
<path d="M175.4 295.7H195.3" stroke="#96FAFA" stroke-width="1" fill="none"/>
<g font-family="'Liberation Sans', Arial, Helvetica, sans-serif" font-size="10.85px" fill="#111" stroke="#111" stroke-width="0.2">
<text x="204.4" y="260.2">cumberland analogue</text>
<text x="204.4" y="273.5">rocknest analogue (MGS-1)</text>
<text x="204.4" y="286.7">ChemCam cumberland tailings</text>
<text x="204.4" y="299.9">ChemCam rocknest scoop 2</text>
<text x="385.5" y="260.2">Mastcam cumberland tailings</text>
<text x="385.5" y="273.5">Mastcam rocknest soil dark</text>
<text x="385.5" y="286.7">Mascam rocknest soil bright</text>
</g>
<rect x="363.2" y="253.4" width="5.3" height="5.3" fill="none" stroke="#E6645E" stroke-width="0.8"/>
<circle cx="365.9" cy="269.5" r="2.7" fill="none" stroke="#6474E6" stroke-width="0.8"/>
<path d="M365.9 278.7L369.4 284.7L362.4 284.7Z" fill="none" stroke="#50E0E0" stroke-width="0.8"/>
<g fill="none" stroke="#6c6c6c" stroke-width="1">
<rect x="42.5" y="1.5" width="506" height="310.3"/>
<path d="M83.4 311.5V316.8M195 311.5V316.8M306.6 311.5V316.8M418.2 311.5V316.8M529.8 311.5V316.8M42.5 300.4H37.2M42.5 259.3H37.2M42.5 218.2H37.2M42.5 177.1H37.2M42.5 136H37.2M42.5 94.9H37.2M42.5 53.8H37.2M42.5 12.7H37.2"/>
</g>
<g font-family="'Liberation Sans', Arial, Helvetica, sans-serif" font-size="12.3px" fill="#111" stroke="#111" stroke-width="0.2" text-anchor="middle">
<text x="83.4" y="330.3">500</text>
<text x="195" y="330.3">1000</text>
<text x="306.6" y="330.3">1500</text>
<text x="418.2" y="330.3">2000</text>
<text x="529.8" y="330.3">2500</text>
<text x="295.3" y="349.8" font-size="12.5px">Wavelength (nm)</text>
<text transform="translate(29.9 300.4) rotate(-90)">0.00</text>
<text transform="translate(29.9 259.3) rotate(-90)">0.05</text>
<text transform="translate(29.9 218.2) rotate(-90)">0.10</text>
<text transform="translate(29.9 177.1) rotate(-90)">0.15</text>
<text transform="translate(29.9 136) rotate(-90)">0.20</text>
<text transform="translate(29.9 94.9) rotate(-90)">0.25</text>
<text transform="translate(29.9 53.8) rotate(-90)">0.30</text>
<text transform="translate(29.9 12.7) rotate(-90)">0.35</text>
<text transform="translate(10.8 156.4) rotate(-90)">reflectance</text>
</g>
</svg>
</body>
</html>
